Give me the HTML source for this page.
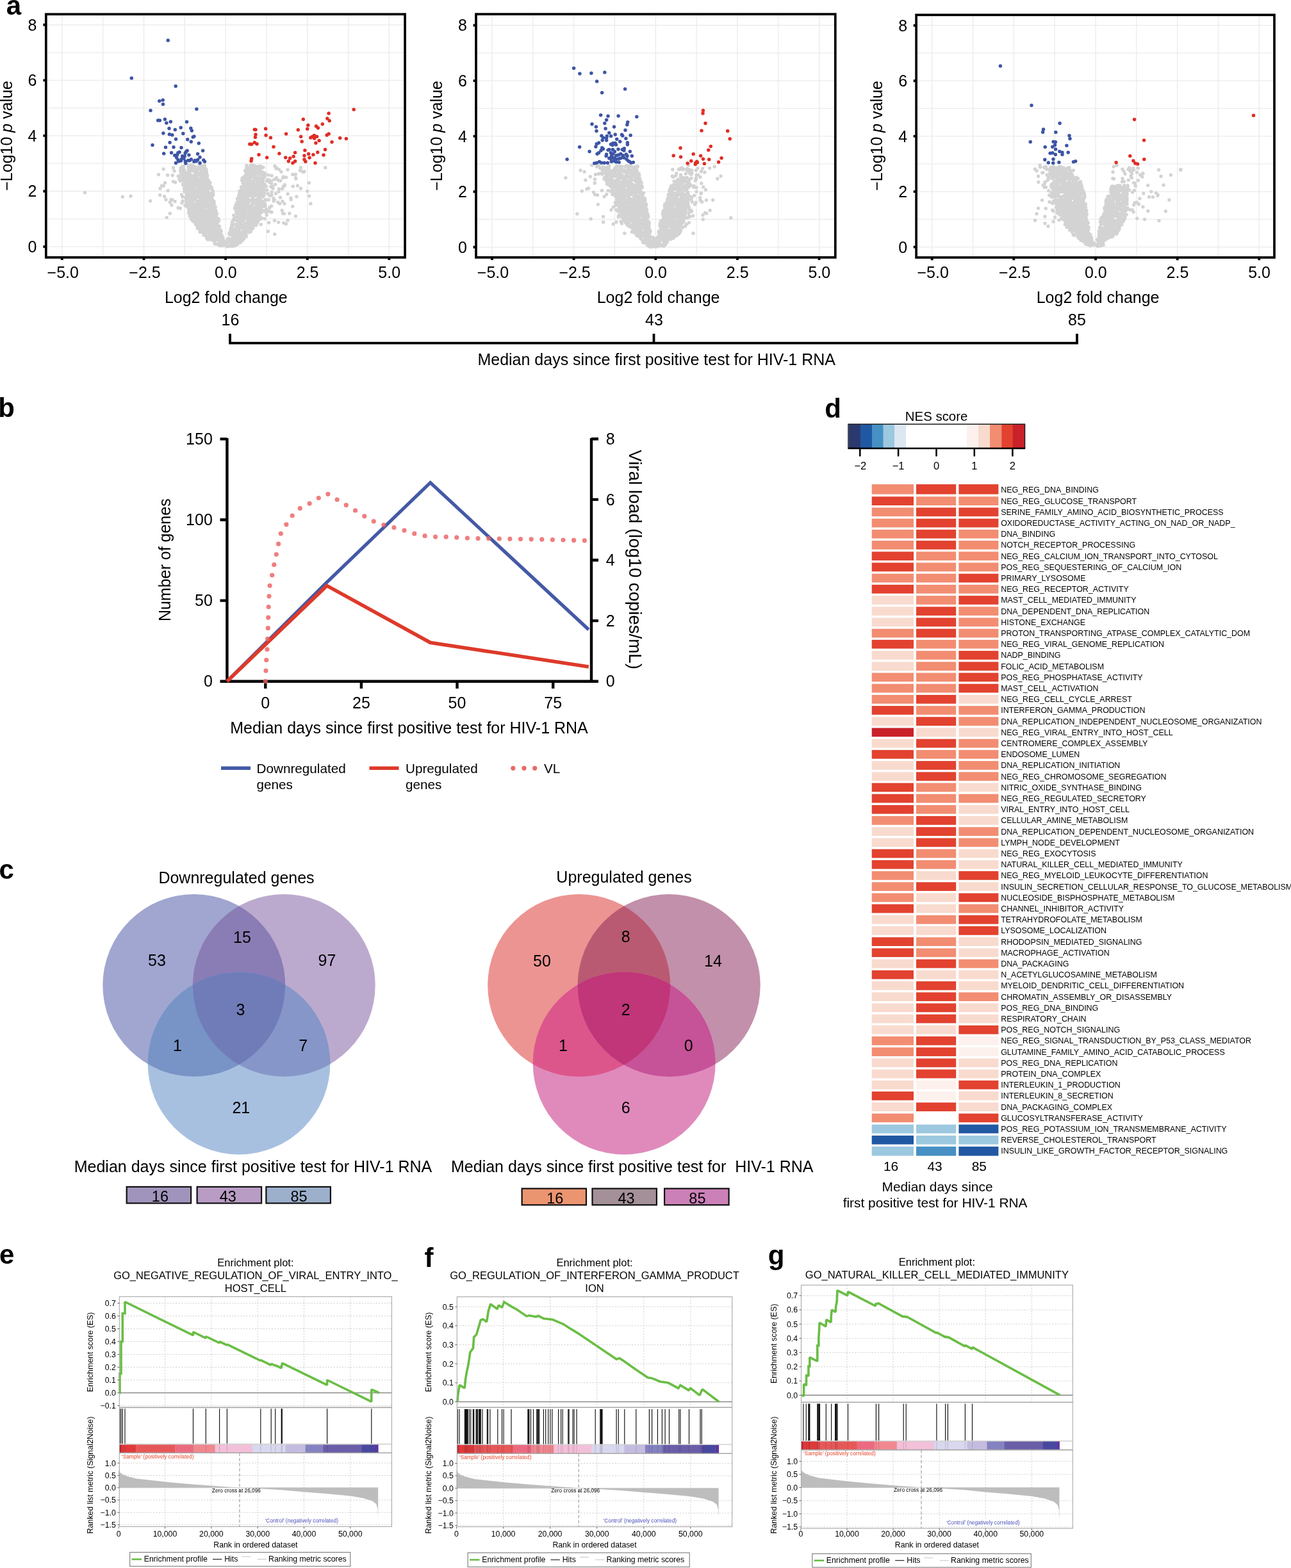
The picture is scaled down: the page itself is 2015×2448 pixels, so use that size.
<!DOCTYPE html><html><head><meta charset="utf-8"><title>Figure</title><style>html,body{margin:0;padding:0;background:#fff;width:2015px;height:2448px;overflow:hidden}svg{display:block}</style></head><body>
<svg width="2015" height="2448" viewBox="0 0 2015 2448" font-family="'Liberation Sans', Arial, Helvetica, sans-serif" fill="#000">
<rect width="2015" height="2448" fill="#fff"/>
<path d="M96.8 23.7V400.4M160.6 23.7V400.4M224.5 23.7V400.4M288.3 23.7V400.4M352.1 23.7V400.4M415.9 23.7V400.4M479.8 23.7V400.4M543.6 23.7V400.4M607.4 23.7V400.4M73.3 385.1H630.6M73.3 341.8H630.6M73.3 298.5H630.6M73.3 255.2H630.6M73.3 211.9H630.6M73.3 168.7H630.6M73.3 125.4H630.6M73.3 82.1H630.6M73.3 38.8H630.6" stroke="#ebebeb" stroke-width="1.3" fill="none"/>
<path d="M284 260.1h0m2.2 0h0m0.3-0.5h0m7.4 0.8h0m0.7-2.3h0m2.5 0h0m1.5-0.2h0m2 0.4h0m0.3 1.4h0m2.7 0.2h0m7.4-1.5h0m0.1 2.5h0m1.1-3.1h0m2.5 1.3h0m4.2 1.4h0m0.5-2.4h0m65.5 0.4h0m6.1-0.3h0m1.9-0.4h0m1 1.3h0m0.4 0h0m1.9-0.7h0m1.3 1.3h0m1.9 0h0m1.3 0.5h0m3.3-0.4h0m2.4-0.5h0m22.5 0h0m-173.8 4.6h0m15.3-1.9h0m1.6 5h0m9.6 0h0m0.4-4.5h0m2.4 4.3h0m0.4-5h0m1.2 0.2h0m1.9 3.7h0m6.3-1.2h0m0.6-1.1h0m0.2-1h0m1.9 4.4h0m0.8-2.5h0m0.2-3.3h0m0.2 2.4h0m0.5 2.4h0m1.8-2.5h0m0.2 3.4h0m1.4 0.2h0m0.8-0.2h0m0.3-1.2h0m1.5-4.5h0m0.9 2.9h0m1.1-2.1h0m0 0.2h0m1.1 1.9h0m0.1 2.4h0m1.4-2.6h0m1.4-0.7h0m1.8 1.6h0m0.2-1.5h0m0.5 2h0m0.7-3.5h0m0.1 3.3h0m0.2-1.4h0m0.7 2.6h0m1.3-1h0m0.1 0.4h0m1.2 1.3h0m0.7-1.8h0m1.5-3.8h0m2.4 3.7h0m60.6 1.4h0m1.9 0.3h0m0.3-4.4h0m0.9 0.9h0m0.7 2.4h0m0.8 1.5h0m1.7-5.4h0m1 4h0m0.8 0.8h0m0.2-4.3h0m0.6 0.1h0m0 4.4h0m0-2h0m0.9-3.4h0m0.5 0.4h0m1.5 1.2h0m0.4-0.3h0m2.6 1.1h0m1-2h0m2.8-0.2h0m1.1 3.7h0m3.8-2.4h0m0.2 1.9h0m3.4-3h0m1-0.3h0m20.3 1.8h0m0.2-1.4h0m4.1 2.8h0m13.7 0.4h0m19.4 1.3h0m1.1-4.5h0m38.3 0h0m-260.4 10.8h0m35.2-1.1h0m1.6-1.8h0m1.4 1.8h0m0.9-0.1h0m0.6-3.7h0m1 4.2h0m0.3-1.8h0m1.7 0.8h0m0.4 1.5h0m1.6-2.6h0m0.2 1.5h0m0.6-0.7h0m1.6 1.2h0m0.5-4.3h0m1.3 0.3h0m0.2 4.4h0m7.9 0.1h0m1.8-1.7h0m1.3-0.5h0m0-1.6h0m0.1-0.7h0m1.1 2h0m3.9 2.6h0m0.2-2h0m0.2 2.1h0m1.2-3h0m0 2.8h0m3.3-0.5h0m2.2-4.2h0m2.5 3.4h0m0 1.1h0m0.1-3.2h0m61.6 0.6h0m1 0.8h0m2.5-0.2h0m3.1-0.1h0m0.9 0.1h0m2.8 3h0m0.4-5.4h0m0.8 3.4h0m0.2-2.1h0m0.7 3.9h0m0.5-5.2h0m2.4 3.8h0m0.2-2.4h0m0.1 2.3h0m2.4 0h0m0.6-3.8h0m0-0.3h0m0.6 4.3h0m4.4-0.1h0m0.1-2.8h0m0.2-0.5h0m1.8 0.5h0m1.7 4.3h0m0.6-1h0m0.5-2h0m0.1 1.2h0m1.3 0.9h0m25.1-3.8h0m17.9 4.3h0m4.5-0.2h0m11.3-4.1h0m2 0h0m0.3-0.6h0m-213.3 5.8h0m7.6 0.3h0m9.1 1.2h0m1.3 1.2h0m5.1-2.4h0m0.1 4.8h0m0.2-0.6h0m0.8-2h0m1.4-1.1h0m0.1 1h0m0.9-0.9h0m0.7 1.1h0m0.2-1h0m2.2 3.2h0m0-4.3h0m0.7 0.2h0m0.2-0.2h0m0.6 3.9h0m0.9-3h0m1.7 3.2h0m0.9-1.6h0m0 1.2h0m3.1-1.5h0m0.8-1.6h0m0.5 0.5h0m3-0.8h0m1.6 3.1h0m0.7-0.7h0m0.7-0.7h0m0.2-2h0m0.3 4.9h0m0.1-5.3h0m0.2 4.3h0m0.7-4.2h0m4-0.3h0m1.1 1.6h0m0.4-0.4h0m0.4 2.6h0m3.8 0.8h0m0.3 0.9h0m0.1-5.4h0m0.5-0.1h0m1.9 4.5h0m2-2.7h0m0.8-1.5h0m0 2.4h0m54.8 2h0m0.9 0.3h0m2.7-3.6h0m0.2 1.2h0m2.2-1.5h0m0 4.3h0m0.1-4h0m1.4 1h0m0.4-2.6h0m1.6 0.8h0m0.2 2.8h0m0.8 0.5h0m3.3-2.2h0m0 2.6h0m1.6-3.3h0m3.7-0.4h0m0.1 4h0m0.4-0.2h0m1.2-1.4h0m0.4 2h0m1.4 0.1h0m1.3-0.4h0m0.5 0.2h0m1.7 0.7h0m0.2-5.8h0m0.2 4.8h0m0.4 0.9h0m4.5-2.2h0m0.1-2.8h0m0.7 1.8h0m0.6 2.4h0m0.3-0.9h0m1.3-2.5h0m0 1.6h0m6.2-2.9h0m5.1 0.9h0m7.5 3.3h0m10 0.1h0m0.9-1.6h0m4.2 0.9h0m14.9 0.7h0m-191.1 5.8h0m3.3 1.4h0m6.4-4.6h0m1.6 2.4h0m1.7-0.7h0m0.2-0.9h0m3.4-1.4h0m1.6 4.4h0m2-2.6h0m0.5 1.2h0m1.6 1.7h0m0.6-3.3h0m0.6-1.2h0m2.4 5.2h0m1-3.5h0m0.3 3h0m0.9-4.1h0m0.4-0.4h0m0.8-0.6h0m0.6 1.5h0m1.4 3.7h0m0.1-4.6h0m0.1 1.4h0m1.2 1.4h0m0.1-0.6h0m0.8-0.8h0m1.4 1.9h0m0.1-0.1h0m1-1.5h0m1 0.8h0m0.1-2.3h0m1 3.4h0m0.9-3h0m0.2-0.5h0m0.4-0.4h0m0.2 5h0m1.5-2.4h0m0.2-3.2h0m0.1 0.9h0m0.8 0.9h0m0.4 2h0m0.1-1.7h0m0.5 2.8h0m0.1-3.1h0m1.8-1.3h0m1.1 1h0m1.3 2.1h0m1.4 0.2h0m0.5-2.2h0m1 2.5h0m0.4 1.8h0m1.6-4.3h0m1.6 0.3h0m0.7 0.4h0m0.7 3.6h0m51.3-3.4h0m1-2.2h0m0.6 3.2h0m0.6 0.8h0m1.3-1h0m1-0.9h0m0.3 1.8h0m0.2-0.6h0m2.6 1.7h0m0.1-4.6h0m0.4 0h0m0 3h0m1.1 0.2h0m0.2-2.8h0m0.5 2.4h0m0.2-1.3h0m1 2.4h0m0.4-0.9h0m0.4-1.5h0m0.1 2.7h0m0.1-1.6h0m0.7 2.1h0m0.7-1h0m0.1-0.6h0m1.5 1.9h0m1.9-1.8h0m0.7 1h0m0.4-1.2h0m1.5-1.5h0m0.3 0.4h0m4.3 2.4h0m0.1-1.3h0m0 2.2h0m4.9-0.3h0m0.8-2.7h0m0.1 2.5h0m1.2-5.2h0m0.7 1h0m0.8 3.2h0m0.6-1.9h0m5.7 0.8h0m1-1.9h0m3.5 0.7h0m0.2 3.7h0m1.8-1.7h0m4.6-2.8h0m0.9-0.3h0m3.9-0.4h0m2.6 2.2h0m2.6 0.4h0m24.3-3.3h0m-209.4 10.9h0m2.6 0.3h0m2.5-4.7h0m28 2.9h0m0-0.7h0m2.1-2.5h0m2.1 3.3h0m0.6-1h0m0.6-1.3h0m0.1 3h0m1.2-0.8h0m0.7-1.3h0m0.2-1.6h0m1.4 2.6h0m0-1.4h0m2.3 3.4h0m1.1-0.8h0m0.3 1.6h0m0.2-0.7h0m0.5-0.8h0m1.6-2.2h0m0.8 1.4h0m1 2.2h0m0.7-4.3h0m0.8 0h0m0.2-0.9h0m0.7 4.6h0m3-1.8h0m0.4 2.2h0m0.6-3h0m0.5 1.6h0m0.3-2.5h0m0.1 1.3h0m1.3 2.5h0m3.2-4.1h0m1 4.4h0m0.9-2.6h0m1.8-2.3h0m0.1 1.1h0m0.1-1h0m1.1 4.8h0m0.8-0.4h0m0.1-3.7h0m1 1h0m0.6 1.6h0m1.1-3.7h0m2 2.5h0m0.3 2.7h0m1-5h0m0.6 0.1h0m0.4 3h0m0.9-3.8h0m51 1h0m0.8 1.1h0m0.3 0.9h0m0.1-1.1h0m1.9 0.8h0m0-2.1h0m1.1 3.4h0m0.1-1.7h0m0.5 2.6h0m0.4 0.5h0m0.5-5h0m0.4 3.5h0m1 0.7h0m0.6-3.8h0m2 1.5h0m0.5 3.6h0m0.9-1.4h0m1.9-0.4h0m0.5-0.3h0m1-3.1h0m2.5 0.8h0m0.1 0.5h0m0.1 0.6h0m0.5 0.7h0m1.8-0.7h0m0.8 2.8h0m0.6-0.4h0m1.3-2.2h0m1 1.5h0m2-1h0m2.4 1.6h0m0.2-3.4h0m0.3-0.2h0m1 3.7h0m0.1-4.3h0m0.4-0.7h0m0.6 3.7h0m0.8-0.2h0m0.4 0.7h0m0.4 1h0m1.3-1.9h0m0 0.5h0m0.6 0.1h0m0.2-1.3h0m10.9-1.4h0m5.9 1.6h0m14.3 2h0m0.3-1.4h0m12.9 2.4h0m7.2-1h0m17.9-4.4h0m-232.3 8.7h0m37.8-0.6h0m0 0.9h0m0.2-2.5h0m0.5 5h0m0-4.2h0m1.7 1.7h0m0.2-3.1h0m2.5 2.4h0m1.3-0.9h0m2.8 1.3h0m0-1.3h0m0.1-1.3h0m1.4-0.1h0m0.4 2.5h0m2.9 2.2h0m0-2h0m1.6 2.2h0m0.7-0.3h0m0.7 0.8h0m1.9-1.3h0m1.7 1h0m2-2.1h0m0.3 1.8h0m1.5 0.4h0m0.2-0.7h0m0.8-2.4h0m0.3 1.2h0m0.3 0.3h0m1.8 1.1h0m1-2.8h0m0.2 0.3h0m0.3-1.1h0m1.2 1.4h0m3.6 1.1h0m2.8-1.5h0m0 1.7h0m0-1.3h0m0.8-0.5h0m0.1 1.1h0m1.3-3.6h0m2.4 3.1h0m0.9-2h0m0.1 1.4h0m0.1 1.6h0m46.1-3.1h0m0 4.5h0m0.2-0.1h0m0.4-1.6h0m1.6-3.2h0m0.2 0.2h0m0.1 3.8h0m0.2-1.4h0m1.1 2.7h0m0.6-2h0m0.3-1.3h0m1.4-2.2h0m0.1 1.8h0m0.3 3h0m0.4-3.4h0m0.4 1.4h0m0.2 0.1h0m0 2.5h0m0.6-1.6h0m0.3-2.3h0m0 2.3h0m1.1-2.6h0m1.2 4.1h0m1.4-4.3h0m1.5 0.2h0m0.4 0.6h0m0-1.6h0m2.3 1h0m1.2 4.1h0m0.1-1.5h0m1 1.6h0m1.5-4.5h0m0.5 2.1h0m0.6-2.7h0m0.2 1.3h0m0.9-0.9h0m0.5 0h0m1.9 0.7h0m0.3 3.8h0m1.3 0.3h0m1.3-2.3h0m0.1 1.2h0m0.4-1.1h0m0.6-0.3h0m0.5-2.3h0m0.2 3.9h0m0.8-4.5h0m0.3 0.4h0m2.5-0.4h0m0.8 0.2h0m0.9 0.4h0m0.2 3.9h0m0.8 0.1h0m3.1-5.1h0m1.3 5.7h0m6.2-5.2h0m2.8-0.3h0m0.5 3h0m9.3 0.8h0m5.3-0.2h0m1.3-3.6h0m27.5 3h0m-337 6.5h0m129.7-2.9h0m25.6 1.3h0m3.9 3.6h0m0.1-0.6h0m0.1-1.2h0m1-0.9h0m0.1-1.3h0m1.1 2.4h0m1.2-2.1h0m0.4 1.2h0m0.5 2.8h0m1.2-4.3h0m3.2 3.6h0m2.3-3h0m1.9-0.7h0m2 3.8h0m1.9-0.7h0m0.8-3.5h0m0.3-1.1h0m1.3 1h0m0.5 1.7h0m0.7-0.1h0m0.1-1.8h0m0 0.4h0m0.2-1.1h0m3.1 4.3h0m1.2-3.8h0m0 0.6h0m0.7 4.4h0m0.1-4.8h0m0.9 4.7h0m0.5-1.5h0m1.5-1.7h0m1.3 0.1h0m0.1 0h0m0.1-1.6h0m1.9 1h0m0.4 0h0m0.9 1.6h0m1.1 2.3h0m1-0.1h0m2-0.7h0m1.5 0.8h0m1.3-4.6h0m0.2 3.7h0m0.2-1.6h0m41.2 0.9h0m0.1-2.7h0m3.4 3.2h0m0.5-1.3h0m0.3 0h0m0.6 0.3h0m0.1-1.5h0m0.5 1.3h0m0.1-0.9h0m0.6-2.4h0m1.3 0.1h0m0.5 1.6h0m0.8 3.8h0m0.2-4.7h0m1.3 1.5h0m0.8-0.5h0m0.7 2.3h0m0.1-1.6h0m0.1 1.6h0m1.4 0.2h0m0.4-0.8h0m0.2-1h0m0.1-0.9h0m1 0.7h0m0 0.7h0m0.1-2.6h0m0.3 4.5h0m1.6-2.6h0m0.2-1.7h0m0.1 4.5h0m0.1-4.4h0m1.6 0.1h0m1.3 4.4h0m0.6-0.3h0m0.8-4.4h0m0.7 5.1h0m0.2-1.1h0m0.2-2.1h0m0.2 2.7h0m0.5-2.3h0m0-1.6h0m0 3.1h0m1.2-3h0m0.3 3.7h0m0-2.6h0m3-2.6h0m0.3 1.6h0m0.5-1.5h0m0.8 2h0m2-0.7h0m1.5-1.2h0m1.7 3h0m0.2 2.4h0m1.1-2h0m0.3-3h0m2.5 3.3h0m5.5 1.6h0m5.7-2.5h0m6.4 2.2h0m4.6-3.2h0m14.1 3.8h0m30.7-4.3h0m-288.5 8.7h0m12.7-0.9h0m45.8-1.9h0m6.8 2.3h0m26.9-2.7h0m1.4 3.3h0m4.8 0.8h0m2-3.6h0m0.5-0.9h0m2 0.6h0m0.8 3.2h0m0.3-2.2h0m0.8-1.6h0m0.1 1.8h0m1.5 1.5h0m0.3 1.3h0m2.7-4h0m0.1-0.4h0m1 2.5h0m0.3-1.4h0m1.8-0.3h0m0.2 2.8h0m0.7-0.2h0m0.5 0.2h0m0.6-0.4h0m0.4-3.1h0m2.1 3.4h0m2.5-0.4h0m0.2-1.3h0m0.4-0.5h0m1.8 3.7h0m1.3-4.1h0m0.2 0.3h0m0 3.3h0m0.2-4.5h0m0.2 2.3h0m2-1.9h0m1.1 0.7h0m0.7 1.8h0m1.5 1.6h0m2.6-2.2h0m0.7-2.7h0m0.5 0.5h0m2.1 2h0m1.1-0.5h0m0.7-0.6h0m0.7-0.4h0m0.3-1.1h0m0.3 0.8h0m0.8 0h0m0.6 2.7h0m1.8-2.6h0m39.8 1.1h0m1.1-1.2h0m0.6 4.7h0m0-2.8h0m1.6 2.3h0m1.1-1.4h0m0.9-0.7h0m0.2-0.7h0m0.2-0.9h0m1.9 4h0m1.1-2.6h0m0.6-2.6h0m0.2 2h0m0.6-0.7h0m0.9 1.7h0m1.7-2.9h0m0.9 3h0m0.6 0.7h0m0.1-3.3h0m3.5 0.5h0m0.4 0.9h0m3.4 2.5h0m2.1-4.4h0m0.3 2.1h0m1.5-0.1h0m4.3-1.3h0m0.2 1.2h0m0.3 0.6h0m2.1 1.2h0m0.8-3h0m0.1-0.6h0m0.4-0.3h0m1.6 1.7h0m0.7 2.7h0m1.9-0.6h0m1.4-1.9h0m9.5 0.6h0m2.6-1.2h0m13.6 3.8h0m25.4-1.4h0m19.6-0.9h0m-247.8 7.7h0m24.3-1.9h0m7.9 0h0m2 0h0m4.2 2.7h0m12-0.8h0m5.3-4.2h0m0.4 1.9h0m0.1 3.1h0m0.4-4.2h0m0.1 4.7h0m0.1-1.7h0m2-0.3h0m3.3-2h0m2.6 1.1h0m0.1 2.3h0m0.8 0h0m0.4-4.1h0m1.7 1.4h0m0.6-0.2h0m1.9-0.8h0m1.8 3.1h0m1.1 0.4h0m3.1-5.1h0m0.6 4.9h0m2 0.7h0m0.7-0.8h0m0.2-2.3h0m0.6-1.7h0m0.6 1.9h0m1-0.5h0m0.1-1.2h0m0.9 0.5h0m0 0.2h0m0.9 0.6h0m1 3.3h0m2.7-1.2h0m0.8-1.2h0m0.1-2.2h0m1.1 0.6h0m0.7 0.4h0m0.2-0.5h0m0.7 2.6h0m0.5-1.1h0m0.1 0.1h0m0.6-0.3h0m0.5-2.4h0m0.9 3.7h0m1.2-2.2h0m0.3 3.2h0m0.5-2.6h0m0 0.6h0m0.8-1.5h0m0.5 2h0m0.3 0.4h0m0 1.7h0m0.6 0.2h0m1.3-0.7h0m36.6-4h0m0.2 0h0m0.2-0.4h0m0.3 1.8h0m0.6-1.6h0m0.5 0.8h0m0.1 3.8h0m0.3-1.5h0m2.7 0.3h0m0.3 0.8h0m0.5-0.8h0m0.9-0.6h0m0.8 1.4h0m0.4-4.7h0m1.5 1.2h0m1.5-0.7h0m1 0.1h0m0.6 2.4h0m2.6-1.2h0m0.7 0.3h0m1.1-0.5h0m1 3.6h0m0.9-0.7h0m1-1.3h0m1.9-0.1h0m0.1 0.9h0m0.6 1.1h0m0.3-2.8h0m1-2.3h0m1.2 1.1h0m4.6 1.4h0m0.3-0.4h0m1.2-0.1h0m1.7-1.9h0m0.5 2.3h0m0.2 2.7h0m3.2-1.9h0m0.8 1.8h0m0.4-1h0m5.7-2h0m0.6 0.6h0m4.6-0.2h0m7.7-2.6h0m0.3 4.5h0m1.2-2h0m12.6 2.4h0m13-5.2h0m0.3 2.4h0m-188.9 4.3h0m2.6 4.4h0m16.1-3.3h0m5.4 4h0m1.3-3.2h0m2 0.8h0m0.3 2.2h0m0-2.7h0m0 0.4h0m0.4 0.9h0m0-0.3h0m1.9 0.6h0m1-4.5h0m1.2 0h0m0.7 4.6h0m0.6-3.4h0m0.7 4.4h0m0.4-5h0m1.5 1.5h0m0.6 1.8h0m1.9 1.1h0m0.7-1.1h0m1.8-0.7h0m0.7-2.4h0m0.4-0.2h0m1.3 2.8h0m0.3 1.2h0m1.7-2.1h0m2.1 3.2h0m0.9-5.7h0m1.5 5.5h0m0.2-3.3h0m1.9 0.1h0m1 0.6h0m1.4 2.1h0m0.5-3h0m0.2 1.3h0m3.3 2.2h0m0.7-2.9h0m1.9 3.3h0m0.2-1.7h0m3.2-0.3h0m0.5-3.9h0m0 2.7h0m1.5 1.8h0m0.3-2.8h0m0-1.6h0m0.1 0.4h0m1.8 3.4h0m0.2-1.6h0m33.5 3.4h0m1.6-1h0m0.1-2.4h0m0-0.4h0m1.5-1.3h0m1.5-0.3h0m0.9 0h0m1.4 2.7h0m0.8 1.1h0m0.4 0.8h0m0.3 0h0m0.1-0.1h0m0.2-0.2h0m1.3-1.4h0m1.3 1.6h0m0.1-3.1h0m2.1 0.1h0m0.7 1h0m0.4-2.8h0m2.1 3.8h0m0.2-0.5h0m0.1-2.1h0m0.3 3.4h0m1.5-0.3h0m0.6-2.7h0m4.6 4.2h0m0.1-0.3h0m3.3-3.4h0m0.4-1.9h0m0.4-0.3h0m3.3 2.2h0m0.4-0.7h0m0.2 2.9h0m1.6-2.2h0m3.1 1.2h0m0.5-0.3h0m1 1.2h0m0.4-2.3h0m0.5 1.3h0m0-0.2h0m3.7 0.4h0m1.3-3h0m2 3.8h0m19.8-3.5h0m2.9 2.2h0m7.2 0.1h0m41-0.1h0m-206.8 6.5h0m3.2 0.8h0m7.6-4.2h0m3 1.2h0m2.1 2.1h0m1-2.1h0m0.2-0.2h0m1.9 3.4h0m1.6-3.6h0m0.2 2.4h0m0.8 1.7h0m0.4 0.2h0m0.2 0.1h0m0.4-2.4h0m0.5-2.3h0m0.8 2.7h0m3.3-0.2h0m1.9 1.2h0m0.1-3.8h0m0.7 2.4h0m0.3-1h0m0.1 3.4h0m1.9-5.1h0m1.6 1.1h0m0.3-1.3h0m1.2 3.7h0m1.6-3.5h0m0.8 0.2h0m1.2 0.1h0m0 1.4h0m2.1 4.1h0m1.3-5.6h0m2.1 0.9h0m1-0.2h0m1.2 2.1h0m0.7-1h0m0.1 0.4h0m0.1 2.1h0m1.1-3.9h0m0.9-0.8h0m0.1 3.5h0m0.1-2.2h0m0-0.2h0m1.1-0.1h0m0.1 1.1h0m1.2 1.1h0m0.1 1.3h0m1.7-1.1h0m0.8-3.2h0m1.6 1.3h0m1 4.2h0m0.7-3.7h0m30.4 2.3h0m2.3-1.4h0m0.4 2.3h0m1.2-2.4h0m0.6-1.5h0m0.8 2h0m0.2-3.2h0m0.7 3.5h0m0.8-2.5h0m0 2.7h0m1.9-1.3h0m0.3-1.5h0m0.4 1.9h0m0.7 0.7h0m2.1-2.8h0m0.2 0.8h0m2.9 0.8h0m0.7 3.4h0m0.5-2.5h0m0.8 1.5h0m0.6-1.4h0m0.2-2.8h0m0.4 2.5h0m0.9-1.1h0m0.3 1.6h0m1 1.6h0m2.8-3.5h0m0.2 3.1h0m0.9-1.1h0m0.1 2.2h0m1.1-0.1h0m0.8-4.5h0m0.3-0.9h0m0.7 1.3h0m2.2 2.5h0m0.2-0.2h0m1.6-0.8h0m0.5 2h0m0.1-1.4h0m3.3-2.8h0m0.8 3.9h0m0.6-4.1h0m0.3 3.1h0m0.8-2.2h0m0.2-0.4h0m0.8 4.6h0m0.3-1h0m0.6-2.1h0m0.3-2.3h0m0.6 4.9h0m2.1-4h0m3.6-1.3h0m0.6 1.3h0m6.8 2.1h0m0.1-0.8h0m3-1.9h0m33.1 0.5h0m-162.3 9.4h0m0.4-3.5h0m1.9 2.6h0m0.3-0.4h0m1.2-2.7h0m0 3.9h0m0.1-1.7h0m1 2.2h0m1.7-2.2h0m0.3-0.2h0m0.5 1.5h0m0.3 0h0m0.1-0.1h0m1.5 0.6h0m1.4-4.4h0m0.6 1.7h0m0.5-1.7h0m0.7 4.2h0m0.8-0.5h0m0.1 1.4h0m0.3-4.4h0m2.6 2.7h0m0.2 0.4h0m0.8-3.1h0m0.3-0.8h0m0.1 1.9h0m0.1 2h0m0.4-3.9h0m1.4 0h0m1 1.7h0m0.5 3.5h0m3.4-1.1h0m0.5 1.7h0m1.1-4.1h0m1.9 0.7h0m0-0.2h0m0.4 3.6h0m0-1.6h0m2.3 1.4h0m1.5-3.8h0m0.3-0.4h0m1.1-0.9h0m0.2 1.8h0m0.6-1.9h0m0.1 2.1h0m0.7 1.7h0m2.1 1.2h0m0.4-4.4h0m0.6 2.7h0m0.1-2h0m1.1 0.8h0m1-2h0m0.9 1h0m0.6-0.7h0m0.6 1.8h0m31.5-0.9h0m0.1-0.3h0m0.1 3.9h0m0.3-2h0m0.7 1.9h0m3.2-0.8h0m1.3-3.8h0m0.2-0.6h0m0.3 5.2h0m1.2-0.3h0m0.2-2.5h0m0 1.4h0m0.1-2.3h0m0.1-1.7h0m0 1.7h0m0.1 0.4h0m0.7-0.3h0m0.2 0.1h0m1.3 4h0m0-5.5h0m1.7 4.4h0m0.5-3.4h0m0.7 4.1h0m0.1-3.2h0m0.8 3.2h0m1-2.6h0m1 1.7h0m0-4.6h0m0.4 2.1h0m1.9 1.9h0m2.3 1.2h0m0.3-3.6h0m0.3 0.4h0m0 2.4h0m0.2 0.6h0m0.6-3h0m0.1-0.3h0m0.3-1.3h0m0.9 3.6h0m0.3-2.8h0m0.3-0.6h0m1.9 3.2h0m0.3 0.3h0m0.6-1.4h0m1.6-2h0m0.3 3.4h0m0.7-0.6h0m1.6-1.8h0m2 4.3h0m1-0.3h0m0.5-5.4h0m2.5 2h0m3.2 0.3h0m0.1 1.6h0m3.4-2.4h0m3.3 3.3h0m0.5-4.9h0m1.8 2.7h0m3.5 0.3h0m2.7 1.1h0m16.3-2.8h0m-174.9 4.7h0m30.4 1h0m0.6 1.2h0m0.1 2.2h0m0.6-3.2h0m0.2 0.6h0m1.3 2.9h0m2-3h0m2.2 0.6h0m0.2-0.7h0m0.2-1.8h0m1.5 5.7h0m0.5-2.7h0m3.6-1.9h0m0.4 0.8h0m0.1-1.1h0m0.5 2.4h0m1.5-1.6h0m1.1 2.7h0m0.1-2.5h0m0.1 0.1h0m0.3 3.8h0m0.6-3.3h0m0.4-1.5h0m0.2 3.6h0m3.3 0.8h0m0.7-1.7h0m0.6-3.4h0m2.1 2.5h0m0 1.9h0m0-3.5h0m0.3 4.1h0m0.3-1.1h0m0.3-1.4h0m0.2 1.9h0m2.2 0.6h0m0.1-4.9h0m1.2 3.4h0m0.8-0.2h0m1.2 1.7h0m0.4-3.4h0m0.5-1.6h0m1.5 4.7h0m1.2-1.5h0m0.3 0.6h0m0.5-1.7h0m0.6-0.4h0m0.2-1.2h0m1.1-0.1h0m1.2 1.4h0m1.1 0.2h0m0.4-1.9h0m0.1 0.5h0m0.8 3.2h0m0 1.7h0m0.1-0.1h0m1.2-4.8h0m26.2 2.3h0m5.1-2.4h0m0.2 5h0m1.3-1.5h0m1.4 1.2h0m0.2 0.5h0m1.3-2.7h0m1.1-0.5h0m0.7 2.6h0m0.5-4.8h0m0.6 1.4h0m3.1 1.8h0m0.8 1.3h0m0.4 0.2h0m1.8-3.5h0m2.3 3.4h0m0.3-0.1h0m0.8 0.8h0m0 0h0m0.5 0h0m1.5-2.6h0m2.2-0.1h0m1.7-2.9h0m0.3 0.6h0m1.7 2.7h0m0.5-2.5h0m0.8 3.3h0m0.3-2.6h0m1.8 1h0m0.7 0.1h0m0.4 1.2h0m0.4-3.2h0m1.6 2.8h0m0.2-1.5h0m0.8 2.5h0m0 1.2h0m0.7-1.5h0m0.8-4.3h0m0.2 4.6h0m0.3 1.4h0m1.1-1.8h0m0.3-2.4h0m10.9 0.9h0m25.2-2.5h0m2.1 0.4h0m8.1-0.4h0m9.8 4.3h0m-201.3 2.1h0m38.2 2.4h0m0.3-1.5h0m0.2 1.8h0m0.7-0.5h0m1-1.9h0m0.1 4.6h0m0.6-4.4h0m0.9 0.1h0m0.7-0.7h0m1 2.8h0m1.1-2.3h0m3.6 4.3h0m0.3-3.1h0m0.1 1.8h0m1.4-1.5h0m0.8 0.8h0m0.1-2h0m0.2 1.2h0m2.3 1.9h0m0.1-3.3h0m0 3.6h0m0.7 0.7h0m0.6-4.5h0m0.3 0.2h0m0.7-0.9h0m2.2 5h0m0.9-1.4h0m0.8-0.4h0m1-3.3h0m0.4 3.4h0m0.4-3h0m0.9 5.5h0m0.6-5.3h0m2.1 4.4h0m1.1-0.2h0m0.9-0.5h0m1.1-3.7h0m0.4 0.1h0m1 1h0m0.3 2h0m1.4-3.4h0m1.9 3.9h0m1.4-2.9h0m0.2 0.3h0m0.1-0.5h0m1.4 4.5h0m0.2-0.2h0m2.8-3.4h0m0.3 0h0m0.9 3.3h0m0.1-2.8h0m0.6 3.1h0m23.4-3.3h0m1.3 1.6h0m0.1-2.7h0m0.7-1.1h0m1.5 0.8h0m0.8 4.4h0m1.1 0.4h0m0.7-1.7h0m0.4-1.8h0m1.4 1h0m0.9 2.2h0m0.1-2.3h0m0.5-0.4h0m2.9 2.2h0m0.2-0.8h0m0.4-1.4h0m0.3 0.3h0m0.3 0.2h0m0.2-2.8h0m1.3 4.3h0m0.8-2.3h0m0.7 0h0m1-1.8h0m3.2 1.1h0m1.4 0.9h0m0.3-1.6h0m0.5 1.6h0m0.5 1.9h0m1.7-4.2h0m0.7 3.3h0m0-3h0m1.3 2.4h0m2 2h0m1.1-4.9h0m0.4 2.5h0m0 2.7h0m0.4-1.3h0m1.7 0.2h0m0.4-1.8h0m2.3 1.2h0m0.6-2.3h0m0.1 2.4h0m1.6-0.1h0m0.3-0.2h0m0.2-0.4h0m0 1.5h0m0.3-3.2h0m0.3 1.7h0m1.2-3.1h0m0 1.5h0m0.8 1.9h0m2.5-1.9h0m4.6 1h0m15.6 2.8h0m20.5-0.3h0m-147.8 1.6h0m3.6 3.6h0m0.8-2.4h0m0.2 0.1h0m1.9 2.2h0m0.8-3.9h0m1.5 0.1h0m1 4.8h0m0.1-3.2h0m0.4-0.6h0m0.7 0.3h0m0.1-1.2h0m1.1 1.4h0m1.1 2.1h0m1.6-2h0m0.7-1.9h0m3 2.7h0m2.2 0.4h0m0 0.8h0m1.6-0.9h0m2.3-1.3h0m0.1 1h0m1 0.4h0m0.2-0.5h0m0.7 3h0m0.6-1.1h0m2 0.5h0m0.2-0.8h0m1.4-0.3h0m0.1-3.6h0m0.4 0.1h0m1.8 1.3h0m0-1h0m0.1 2.8h0m0.4-3.1h0m0.4 2.7h0m0.5-0.7h0m0.2 0.3h0m0.6-2.4h0m0.6 4.7h0m0.5-4.9h0m0 3h0m1.2 1.9h0m0-3.2h0m0.5-0.3h0m22.8 1.4h0m0.1 0.5h0m0.7-3.3h0m0.2 4.4h0m1.5 0.5h0m3.3 0.9h0m0.3-0.7h0m2.9-5.2h0m1 3.3h0m0.6 1.9h0m0.7-1.1h0m0.5-0.6h0m1.5-1.8h0m0 3.9h0m2.1-5.3h0m0.3-0.3h0m1.8 5.9h0m0.2-0.2h0m1.3 0.2h0m0.2-1.2h0m0.3 0.2h0m0.9-1.7h0m0.2 2.7h0m0-1h0m2.7-2.3h0m0.8-2.3h0m0.8 2h0m2 3.3h0m0-3.6h0m1.5 1.2h0m0.3 0.8h0m0.5-2.6h0m0.7 4.4h0m1.7-0.9h0m0.8-0.7h0m0.6-3h0m0.5-1h0m1.7 4.3h0m0.2 0.8h0m1.9-4.8h0m0.2 0.6h0m0.7 3.4h0m1-2.4h0m0.5-1.9h0m0.3 0.7h0m5 4.5h0m12.3-2.7h0m15.2-0.6h0m8 1h0m3.6 1.4h0m-139.5 2.4h0m0.9 0.3h0m0.1-0.1h0m0.5 4.5h0m0.4-4.3h0m0.9 1.2h0m0.1 3.1h0m0.5-2.8h0m1.5 2.1h0m0.8 0.9h0m1.3-2.9h0m0.4-2.7h0m2.5 2.9h0m0.1-1.2h0m1.7 1.7h0m0.2-2.3h0m0.1 2.9h0m0.7-1.9h0m0.5 3.3h0m1-1.4h0m1.2 0.1h0m0.2-4.2h0m0 1.9h0m0.2 1.6h0m0.6-1.9h0m0.7 1.2h0m0.3-0.6h0m1.5 1.9h0m1-1.8h0m0.1-1.7h0m0.2-0.2h0m0.1 1.6h0m0-0.9h0m2.5 0.7h0m0.4 0.1h0m0.3 0.4h0m0.6-1.9h0m0.3 3.8h0m0.1-0.5h0m0.6 1.3h0m0.6-4.9h0m0.2 3.5h0m1 2.1h0m0.5-2.4h0m0.6 2.1h0m0.4 0.3h0m0-5.6h0m0.6 1.5h0m1 1.5h0m0 1.9h0m0.1-4.8h0m0.9 2.1h0m0.4-0.2h0m0.1-0.2h0m0.8 2.1h0m0.4-3.8h0m0.7 4.9h0m0.1-3.7h0m0 3h0m0.2-1.3h0m0.5 1.8h0m1.5-2.5h0m17.7 3.1h0m0.5-0.7h0m0.8-2.5h0m0.2-1.9h0m0.3 2.8h0m0.9 2.4h0m0.2-0.1h0m0.7-5.4h0m4.7-0.1h0m0.9 3.1h0m0 2.5h0m0-2.3h0m2.3 2.1h0m1.6-1.1h0m1.5-1.9h0m0.4-0.7h0m0.3 0.7h0m0.2-2.4h0m0 1.4h0m0 2.2h0m0.2-2.9h0m0.3 2.5h0m0.7 1.2h0m0-0.1h0m2.1-0.1h0m0.2 0.9h0m0.2-1.4h0m0.3 0.1h0m2.1-2.2h0m0 2.5h0m0.2-2.7h0m0.4-0.3h0m0.1 1.8h0m1.3-1.6h0m0.6 4.1h0m0.1-0.9h0m1.5-1.8h0m0.2 0.7h0m2.3 1.5h0m0.5-4.6h0m0.2 3.8h0m0.3 0.6h0m0.7 0.4h0m2.9-2.4h0m0.9 1.1h0m0.7 1.6h0m1.8-5.5h0m2.6 0.9h0m0.3-0.7h0m-87.4 8.7h0m0 2.4h0m0.1-2.8h0m0.1 1.4h0m0.4-1.9h0m0.1 1.2h0m1.7 2.2h0m0.2-2.9h0m0.5 1.6h0m3.1 0.6h0m1-3.8h0m1.4 3.5h0m3.1-0.3h0m0-2h0m0.6 1.1h0m1.5-0.2h0m2.5-2h0m0.5 1.4h0m0.7 0.5h0m0.2-1.1h0m0.2 0.1h0m0.9-0.6h0m1.1 3.4h0m0.8-3.3h0m1.6-0.3h0m0.7 0.6h0m2.2 2h0m2 0.2h0m0.3-3.6h0m0.2 5.6h0m1-1.3h0m0.1 0.6h0m0.8-2.2h0m0.4-2h0m0.2 4.2h0m1.3 0.3h0m0.3-3.8h0m0.2 3.3h0m0.3 0.5h0m0.9-1.6h0m13.5 1.8h0m1.3-4.3h0m1.1 3.6h0m1.4-3.3h0m0.7 4h0m0.1-3.9h0m0.2 1.5h0m0.4-0.5h0m1 1.9h0m1.6-4.5h0m0.2 0.3h0m0.4 4.4h0m0-4.6h0m0.4 1.8h0m0.5 2.6h0m0.4-3.9h0m0 4.5h0m0.9-2.3h0m1.2-0.2h0m0.1-2.5h0m0.7 2.5h0m0.8-1.3h0m0.7-1.4h0m0 3.9h0m0.2-1.2h0m0.3-0.1h0m0.1 3.1h0m5.4-0.9h0m0.2-1.3h0m0 2.1h0m1.6-0.6h0m0.7-0.1h0m0.2 0.6h0m1.6-2.8h0m0.6 0.5h0m0.7 2.5h0m0.1-3.5h0m1.8-0.9h0m0.5 2h0m0.4-1.8h0m1.4 4.1h0m0.2 0h0m2.6-1.1h0m2-4.5h0m25 4.2h0m-100.5 5.7h0m0.4-3.7h0m0.8 2.5h0m0.5-0.6h0m1.2-0.8h0m0.7-1.3h0m1.7 5.7h0m2.8-5.3h0m0.5 5.1h0m1.6-0.4h0m0.1-3.9h0m2.2-0.9h0m0.4 3.1h0m0.1 0h0m0.7-2.4h0m3.1 2.9h0m1.4-1.8h0m0.3-0.8h0m0.3-0.9h0m0.2 3.5h0m0.6 0.1h0m1.8-3.4h0m0-0.4h0m0.2 2.5h0m0.3-1.3h0m1.2-1.1h0m1.8 0.1h0m1.4 0.1h0m0.1 3.7h0m0.7 1.4h0m0.3-1.7h0m0.1-0.1h0m1.3 1.3h0m10.9-3.8h0m0.6 0.2h0m0.1 0.9h0m0.3 1.1h0m0.2-0.3h0m0.9-3h0m1.4 1h0m0.5 1.5h0m1.3 2.2h0m4.1 0.2h0m0.1-3h0m1.5-2h0m2.1 5.6h0m0.1-3.2h0m0.8 2h0m0.5-0.7h0m1.5-0.8h0m0.9-1.9h0m2 0.7h0m0.1 0h0m0.9 3.5h0m1.4-3.9h0m0.8 0.8h0m1.8-1.8h0m0.3 3.3h0m1.7-0.3h0m0.5 0.8h0m44.6-1.7h0m-106.6 3.4h0m0.6 3.1h0m0.8-1.6h0m1 3.4h0m1.1-1.3h0m0.5 1h0m0.9-1.6h0m0 0h0m0.7 0.4h0m0.2 0.9h0m0.9 0.6h0m0.7-4.9h0m0.8 5.2h0m0.2-3.8h0m0.7 2.2h0m0.4 0.9h0m0.3-1.9h0m0.5-2.2h0m0.2 0.7h0m1.3 0.7h0m1.5-0.1h0m0.7 4.3h0m0.6-3.8h0m0.8-0.8h0m0.7 0.1h0m0.4 0.7h0m0.8 3h0m0.1-4.9h0m2.2 2.3h0m0.8 2.5h0m0-2.6h0m0.6-2.3h0m1 0.3h0m1.2 1.1h0m0.2 2.6h0m0-1.8h0m0.5-1.4h0m0.9 3.5h0m0.7-1.8h0m0 0h0m0.5 0.4h0m0.1 1.5h0m6.6 0.8h0m0.1 0h0m0.2-0.2h0m1-1.9h0m4 0.8h0m0.3 0.4h0m2.9-1.7h0m0.1 0.3h0m1.1-2.4h0m0.6 3.6h0m1.1-1h0m1.8 1.4h0m1.6-2.5h0m0.4-0.8h0m0.4-0.6h0m0.5 0h0m1.1 4.1h0m0.7-2.2h0m0.3 0.1h0m0.1-0.8h0m0.6 1.3h0m0.8-3h0m0 2.7h0m0.2-1.6h0m0.6 0.8h0m0.8 3.7h0m0.1-1.6h0m0.5-1.8h0m0.2-1.3h0m0.5 3h0m0.6-1.6h0m2.4-1.3h0m0.2 2.7h0m3.6-3.6h0m-51.9 5.6h0m2.8 5.6h0m0-2.6h0m0.2 1.6h0m1.1 0.5h0m1.4 0.8h0m3-0.1h0m2.1-5h0m1.2 3h0m1.4-3.6h0m1 0.2h0m2.3 3h0m0-0.8h0m0.3 2.8h0m0.7-0.5h0m1.3-2.1h0m0.1-0.1h0m3.4-1.5h0m0.1 4h0m0.3 0.3h0m1.6-4.3h0m0.2-0.3h0m3.6 1.7h0m0.1 2.9h0m0.5-2.1h0m0.4-1.8h0m0.3 0.1h0m3.1 1.9h0m0.1-1.9h0m0.1 4.2h0m0.8-3.3h0m0.2-1.5h0m0.1 0.8h0m0.7-1.7h0m1.3 1.5h0m2.6 4.1h0m0.6-1.5h0m3.5-0.5h0m3.2-2.7h0m-38.2 5.2h0m0.7 0.2h0m1.6 1.6h0m2.3 0.6h0m1.3-2.6h0m0.7 1.2h0m1.3 0.1h0m0-0.9h0m0 0.4h0m0.1 0.3h0m0.5 1.3h0m0.1-1.3h0m0.3 1h0m2.4-1.7h0m1.9 2.1h0m0.4 1.2h0m0.3-0.8h0m0.1 0.2h0m0.5-1.6h0m2.8 2h0m0.7 0h0m3.4-2.9h0m1.2 2.9h0m3.4-1.6h0m0.3 0.8h0m0.3-0.5h0m2-0.7h0m2.2-1.2h0" stroke="#d3d3d3" stroke-width="5.4" stroke-linecap="round" fill="none"/>
<path d="M262.2 63.1h0m-56.9 58.8h0m68.9 12.6h0m-25.4 23.3h0m5.4-1.5h0m0.3 6.4h0m52.4 7.6h0m-71.9 2.3h0m11.6 15.3h0m2.8 0h0m8-1.7h0m2.5 5.7h0m6.4-1.9h0m25.2 0.2h0m-27.5 10.3h0m18.2-1.2h0m15.6 0.9h0m-24.5 2.3h0m26 1.4h0m-44.4 4h0m9.5 1.9h0m4.4 0.9h0m17-2.3h0m17.1 4.6h0m-28.4 4.3h0m18.2 0.5h0m8.5-3.7h0m-36.1 8.5h0m33.2-1.4h0m12 2.6h0m-72.3 2.8h0m20.5 3.4h0m12.5-0.2h0m12 0.8h0m7.4 6.3h0m1.7-1.7h0m24.5 0h0m-60.9 4.5h0m11.9-1.1h0m5.1 4h0m4-1.2h0m1.2-2.8h0m2.2-1.2h0m9.1 1.7h0m5.7 2.9h0m13.7-1.7h0m-33 5.7h0m8 2.3h0m1.1-4.6h0m2.3 3.4h0m1.1-3.4h0m10.2 5.1h0m13.7-3.4h0m-37.5 9.1h0m3.4-5.1h0m1.1 2.3h0m3.4-0.6h0m6.8 0.6h0m4.6-1.2h0m2.3 0h0m6.8 1.7h0m1.1-1.7h0m2.3 1.2h0m2.3-2.3h0m3.4 5.1h0m5.7-4.5h0m1.7 2.2h0m-29.6 2.9h0" stroke="#3d55a5" stroke-width="5.5" stroke-linecap="round" fill="none"/>
<path d="M552.2 170.9h0m-39.1 6.2h0m-39.8 9.2h0m37.5-1.4h0m3.4 3.7h0m-10.9 5.2h0m-22.5 1.8h0m12.7 1.4h0m2.9 2.7h0m-99.1 2.5h0m1.7 0.2h0m15.6-1.3h0m50.7 1.7h0m14.4-1.5h0m-80.7 8.7h0m16.1 1.2h0m31.5-2.3h0m43.8 2.5h0m19.8-0.5h0m2.9-1.8h0m-114.7 5.2h0m24 0.6h0m47.2-1.7h0m15.2 1.9h0m2.9-1.9h0m2.9 2.8h0m4-2.8h0m36.1 2.3h0m9.7 1.1h0m-143.1 5.8h0m3.7 2.3h0m70.2-3.7h0m21.7 2.2h0m5.2-3.7h0m19.9 2.3h0m-128.2 3.2h0m2.9 0.3h0m34.3 4h0m48.9 5.4h0m31.7-1.2h0m-103.6 7.9h0m31.9-1.7h0m24.7-1.5h0m14.4 4.7h0m6.6-2.7h0m7.3 1.2h0m6.9-3.7h0m9.2 4.3h0m-112.3 5.7h0m23.9-1.7h0m29.1 0h0m6.9 0.9h0m5.5-2.6h0m16.9 4.6h0m8.1-2.7h0m-91 5h0m58.2 0.6h0m6.7 2.8h0m3.6-2.8h0m16.2 0.5h0m15.2 2.1h0" stroke="#e02d26" stroke-width="5.5" stroke-linecap="round" fill="none"/>
<rect x="71.8" y="22.2" width="560.3" height="379.7" fill="none" stroke="#000" stroke-width="3.7"/>
<path d="M67.4 385.1H71.8M67.4 298.5H71.8M67.4 211.9H71.8M67.4 125.4H71.8M67.4 38.8H71.8M96.8 401.9V406.1M224.5 401.9V406.1M352.1 401.9V406.1M479.8 401.9V406.1M607.4 401.9V406.1" stroke="#000" stroke-width="3.9" fill="none"/>
<text x="57.3" y="394" font-size="25" text-anchor="end">0</text>
<text x="57.3" y="307.4" font-size="25" text-anchor="end">2</text>
<text x="57.3" y="220.8" font-size="25" text-anchor="end">4</text>
<text x="57.3" y="134.3" font-size="25" text-anchor="end">6</text>
<text x="57.3" y="47.7" font-size="25" text-anchor="end">8</text>
<text x="98.3" y="434" font-size="25" text-anchor="middle">−5.0</text>
<text x="226" y="434" font-size="25" text-anchor="middle">−2.5</text>
<text x="352.4" y="434" font-size="25" text-anchor="middle">0.0</text>
<text x="480.1" y="434" font-size="25" text-anchor="middle">2.5</text>
<text x="607.7" y="434" font-size="25" text-anchor="middle">5.0</text>
<text x="352.8" y="472.6" font-size="25" text-anchor="middle">Log2 fold change</text>
<text transform="translate(18.9 211.9) rotate(-90)" font-size="25" text-anchor="middle">−Log10 <tspan font-style="italic">p</tspan> value</text>
<text x="359.5" y="508" font-size="25" text-anchor="middle">16</text>
<path d="M768 23.6V400.4M831.8 23.6V400.4M895.6 23.6V400.4M959.5 23.6V400.4M1023.3 23.6V400.4M1087.1 23.6V400.4M1151 23.6V400.4M1214.8 23.6V400.4M1278.6 23.6V400.4M744.5 385.8H1302.3M744.5 342.5H1302.3M744.5 299.2H1302.3M744.5 255.9H1302.3M744.5 212.6H1302.3M744.5 169.4H1302.3M744.5 126.1H1302.3M744.5 82.8H1302.3M744.5 39.5H1302.3" stroke="#ebebeb" stroke-width="1.3" fill="none"/>
<path d="M923.7 258.1h0m7.7 2.2h0m1.6-2h0m1.2-0.1h0m0.2 1.8h0m0.7-1h0m6.3 1.4h0m9.2-1.7h0m12.5 1.1h0m4.5-0.2h0m3.2 0.4h0m5.3 0.1h0m2.1-1.6h0m1.4 1.4h0m0.1 1h0m1.7-0.6h0m1 0.2h0m0.8-1.6h0m2.6 1h0m5.3 0.7h0m3.6-1.1h0m0.7 0.6h0m79-2h0m40.8 2.2h0m-209.2 5.6h0m30.6-3.5h0m2.6 1.5h0m2.1-0.5h0m0.5 2.3h0m0.8-2.2h0m0.1 2.9h0m1.3-3.9h0m0.4 3.1h0m0.2 0.5h0m1.9-0.5h0m0.5-3.9h0m1.9 1.1h0m1.3 1.8h0m0-1.2h0m0.3-1.7h0m4.3 5.3h0m4-2.7h0m1-1.8h0m1.2-1.2h0m0.2 2.4h0m0.3-2h0m1 4h0m3.9-1.1h0m0.3 2.3h0m2.2-4.2h0m1.8 2.2h0m1.3 2h0m2-0.7h0m0-1h0m5 0.6h0m0.1 1h0m3.4-3.4h0m1.5 2.5h0m3 1h0m1.3-2.8h0m2.6 2.6h0m1.6-0.7h0m0.9-2h0m56.5 0.8h0m9.4-0.3h0m1.6-1h0m0.7 1.1h0m2.7-2.6h0m1.7 2.7h0m1.3-0.3h0m5.3-1h0m0.1 3h0m3.1-1.4h0m4 1h0m6.5 0.1h0m2.7-3.4h0m7.6 0.4h0m10.9-0.7h0m-195.3 5.9h0m17.3 4.2h0m4.9-1h0m1.8-0.4h0m3.8 1h0m0-3h0m1.3-1h0m1.4 1.8h0m0-2.7h0m3.3 4.3h0m0.5-4.4h0m1.9 4h0m0.3 1.6h0m1.9-2.7h0m1.2 0.4h0m1.9-2.8h0m1.4 0.5h0m1.5 4.7h0m0 0.1h0m0.5-0.4h0m0.2 0.2h0m0.8-2.9h0m0.9-2.1h0m0.8 5h0m1.3-4.9h0m0.8 3.5h0m0.2-2.6h0m2.9 0.3h0m0.9 3h0m0.5-1.6h0m0.4 1.1h0m0.4-0.3h0m0.3-1h0m0.4 1.9h0m0.6-0.1h0m5.3-3.4h0m1.8-0.2h0m0-1.3h0m3.3 4.3h0m3.8-0.6h0m1.1-0.5h0m2.3-0.5h0m2.9-1.5h0m1.8 2.4h0m0.6 0.7h0m1-3.8h0m0.6 5h0m1.3-3.6h0m0.4 4h0m0.1-5.1h0m1.8 4h0m0.8-0.5h0m0 0.1h0m58.3-0.7h0m6.8 2.1h0m7.8-1.7h0m5.2-3.8h0m0.6 2.8h0m1.1-0.1h0m1.5 2.1h0m0.6-2.6h0m0.6 1h0m14.5-2.8h0m5.5 1.1h0m-217 8.7h0m38.4-1.8h0m22.2 1.7h0m1.4-1h0m2.9 1.6h0m0.3-3.5h0m0 3.4h0m0.4-3.9h0m4.1-0.8h0m0.8 2.1h0m1.7-1.5h0m1.8 1.5h0m1-2.3h0m1.7 2h0m2.6-0.7h0m0.4-0.2h0m2.3 2.9h0m0.1-3.2h0m0.1 2.3h0m0.5 2.2h0m0.8-2.8h0m0.3 2.6h0m0.8-3.8h0m0.8-0.6h0m0.5 2.7h0m0.8-2.3h0m0.6 3.2h0m0.3-3.9h0m3.7 3.1h0m0.3-1.5h0m0.1 3.7h0m1.8-0.2h0m1-3.2h0m0.1-2h0m0.5-0.4h0m0.8 2.1h0m0.4 1h0m1.2 0.3h0m2 1.7h0m2.2-3.6h0m0.1 2.9h0m0.5 1.6h0m0.6-4h0m0.5 0.8h0m3.5-2.5h0m1.2 1.1h0m0.5 1.9h0m1.3 0.8h0m2.3-2.9h0m2.2-0.3h0m0.4 0.3h0m51.5 0.7h0m1.6 1.3h0m4-2h0m7.5 1.3h0m4.1 2.3h0m2.9-0.2h0m3.2-0.2h0m6.5 0.9h0m7.2-0.2h0m0.9-4.6h0m2.6-0.3h0m3.1 3.3h0m27 2.5h0m5.3-4h0m-211.3 6.3h0m14.6-1.5h0m14.6-0.5h0m2.1 1.3h0m1.9 2.2h0m0.2 0.6h0m0.2-0.6h0m0.2-3.3h0m0.8 3.5h0m2.7 1.8h0m0.2-2h0m0.4 0.2h0m1 1.2h0m0.1-4.4h0m0.9 2.9h0m0.9-1.4h0m0.4-1.2h0m2.6 2.8h0m2.3-0.2h0m0.9-0.8h0m2.9-2.2h0m0.4 3.1h0m1.2-1.8h0m0.4-0.5h0m0.5 2.8h0m0.3 1.5h0m5.1-0.5h0m0.1-0.1h0m0.1-4.9h0m2.4 3.6h0m0.5 0.2h0m0.2-4h0m0.4 2.4h0m0.1 3.5h0m0.8-4.2h0m0.1-1.2h0m2.2 4.6h0m0.7-0.8h0m0.1 0h0m2 0.6h0m0.1-1.2h0m1.4 0.8h0m0.7-1.8h0m0.5 0.6h0m0.2 0.9h0m0.1-2.2h0m0 0.3h0m1.6-2.1h0m0.8 0.6h0m0.5 0.4h0m3.3 1.3h0m1.9 0.7h0m0.3 0.9h0m0.2-2.9h0m1.4 4h0m0.6-1.1h0m1.1 0.3h0m1-4.4h0m0.4 2h0m0.1 2.7h0m1-2h0m0.4-2.5h0m1.3 5.4h0m0.4-0.4h0m51.6-1.4h0m4.1 0.1h0m1.8-2.8h0m0.4 2.5h0m0.9 0.1h0m0.7-0.5h0m0.6-1.5h0m0.2 3h0m0.9 0.9h0m0.5-0.8h0m0.3-3.8h0m1.7 2.4h0m0.3-1.4h0m0.2 3.1h0m2.6-3.7h0m0.5 3.8h0m2.5-1h0m0-0.7h0m2.7 2.3h0m0.4-2h0m1.7-0.3h0m0.2-1.8h0m9.9 1.2h0m1.5-2.4h0m-158.5 6.5h0m0.1-0.6h0m19.1 1.4h0m1.2-0.2h0m0.6-0.5h0m0-0.8h0m0.5 3.1h0m1.3-1.3h0m1.1 2.3h0m0.7-1.4h0m0.3-0.7h0m1.6-0.1h0m0.9 1.9h0m0.3-1.5h0m1-0.9h0m1.2 2.9h0m0.7-3.9h0m2 1.3h0m0.7 3.9h0m1.9-5.4h0m0.4 1.9h0m1.4-1.8h0m1.3 0.7h0m2.7 4.3h0m0-2.6h0m0.1 1.7h0m0.3-2.9h0m0.1-1.6h0m0.2 1h0m0.4 0.8h0m0.5 1.8h0m0.5-2.7h0m0.4 3.4h0m0.4-1.5h0m0.3-2.2h0m0 2.7h0m0.3-2.1h0m0.3-0.2h0m0.7 1.1h0m1.1 1.9h0m0.5-3h0m0.4 0.7h0m0.1 3.1h0m2.3-1.5h0m2.1 0.7h0m0.5-3.5h0m1.5 2.1h0m0.2 0.6h0m0 2.2h0m0.5-2h0m0.3-1.8h0m1.4 1.5h0m0.4 0h0m0.3 0.4h0m0.2-2.9h0m2.4 4.4h0m1.8-0.2h0m0.7-1.4h0m4.8 0.4h0m0.8 1.8h0m0.2-3.8h0m0.9 2.4h0m0.1-1.3h0m0.4-1.6h0m1.8 3.7h0m0.3-0.7h0m0.5-1.2h0m0.4 1.7h0m0.4-4.6h0m46.3 5h0m3.3-1.9h0m0 1h0m1.1 1.3h0m1.2-1.1h0m1.2-2.6h0m0.3 0.2h0m0.5 1.4h0m1-2.1h0m0.3-1.2h0m2.2 4h0m0.1-0.6h0m1.7-1.9h0m2.7 2.5h0m0.7-1.6h0m0.5-2.6h0m0.4 3.4h0m4.5 1.2h0m0.8 0.5h0m0.4-0.7h0m2.9-2.8h0m0.1 1.9h0m0.5-2.1h0m1.4-0.5h0m0.5 3.6h0m1 0.4h0m0.7-1.9h0m4.6 2.3h0m1-0.4h0m11.8-4h0m-178.7 8.7h0m2.5-0.9h0m34.7-2.7h0m2 2.1h0m0.4-2.1h0m1.2 5.6h0m0.1-3.5h0m0.2 3.2h0m3-3.1h0m0.7 1.1h0m0.5-3.4h0m0.3 1.1h0m0.2 2h0m1.2-2.4h0m0.6-0.4h0m0.9 1.9h0m0.4 0.6h0m0.1-0.5h0m1.2-1.5h0m0-0.2h0m0.3 4.9h0m0.5-4.6h0m0-0.5h0m0.2-0.1h0m0.5-0.2h0m0.6 2h0m0.1 3.6h0m0.1-3.5h0m0-0.9h0m1.8 0.9h0m1.2 2.9h0m0.8-0.3h0m0-1.7h0m0.3-2.6h0m0.4 1.2h0m0.8-1h0m0.5 0h0m4.4 4.8h0m0.3-0.6h0m0.5-5h0m1.6 2.5h0m0.5 0.4h0m0.1-2.3h0m1.3 2h0m0.3 0.5h0m1.6-0.4h0m0.8 2.5h0m0.1-1h0m1.8-2.3h0m2.1 2.2h0m0.2-1.5h0m0.1 1.5h0m0-2.1h0m0.7 2.5h0m0.1-0.1h0m0.3-0.4h0m0.3 1.9h0m1.9-3h0m0.1-1.9h0m1.6-0.8h0m0.4 0.5h0m0 4.1h0m0.3-1.3h0m0.3-2.7h0m4.6 1.5h0m1.1-0.6h0m0.4 0.1h0m0.3-1.4h0m43.4 3.1h0m0.9 0.7h0m0.7-0.6h0m0.7 0.6h0m0.9 1.1h0m0.4-0.1h0m0.8-1.9h0m0.6-0.9h0m0.4 2h0m0.5-4h0m2.3-0.1h0m1.2 0.1h0m0.4 2.9h0m0.5 1.6h0m2-4.1h0m0.7 1.4h0m0.9 2.2h0m1.8 1.4h0m0.9 0h0m0.6-2.1h0m2.9-2.1h0m0.2 0.5h0m1.2-1.8h0m1.7 5.1h0m0.4-0.3h0m0.3-1.9h0m1.2-2.1h0m0.7 1.3h0m0.5 0.3h0m0 0.7h0m0.9-3.1h0m0.5 0.7h0m1.3 0.1h0m8.1 0.2h0m4.1 0.4h0m10.6-0.9h0m3.7 4.3h0m-193.1 2.1h0m18 1.8h0m13.1-2.6h0m9.9 0.2h0m4.3 0.8h0m2.2-0.7h0m0.2 2.8h0m1.4-1.3h0m0.1 1h0m0.4 2h0m0.7 0.2h0m1.3-3.1h0m0.1-1.3h0m0.1 0.2h0m0.1 2.1h0m0.1-2.3h0m1.1 4.4h0m0.6-1.7h0m0.8-3.7h0m1.7 3.5h0m0.4-3h0m0.8 0.6h0m0.1 1.7h0m1.8-2h0m1.1 4.9h0m0.3-3.9h0m0 2.7h0m0.6-1.2h0m0.3 2.3h0m0.3-3.5h0m3.6 1.7h0m0.8 1.8h0m0.2-1.9h0m0.2-3.8h0m0.3 2.5h0m0.5-0.2h0m0.4 0.3h0m0.8-1.2h0m0.8-0.2h0m1.1-0.1h0m1.2 0h0m0.7 2.1h0m0.8 1.8h0m0.1-2.1h0m0.1 0h0m0.5 0.7h0m0.9-1.5h0m0.8-0.8h0m0.1-0.7h0m0.3-0.6h0m0.8 3.2h0m1.1-0.4h0m0.4-1.2h0m0.4 1.3h0m1.1-0.8h0m0.2-0.6h0m1.3 1.3h0m2-2.2h0m0.3 1.4h0m0.1 2.8h0m1-4.7h0m0.4 2.1h0m3.3 1.5h0m1.9-0.4h0m0.3-2.8h0m0.1 0.1h0m0.4 5.4h0m0.7-0.6h0m0-3h0m0.6 2.5h0m0.6-1.6h0m1.4 2.1h0m0.3-0.1h0m1.1-0.5h0m0.3-0.3h0m40.2-3.4h0m1.5 3.5h0m0.3-0.2h0m0.3-4h0m0.2 1.6h0m0.7 3.1h0m0.1-4.3h0m1.8 3.4h0m1.8 1.1h0m1.8-0.5h0m4.7-4.1h0m0 3.8h0m1.8-0.2h0m0.2-0.2h0m1.4-0.9h0m1.9-1h0m0 1.3h0m0.6 2.1h0m1.6-2.6h0m0.1 2.1h0m6.1-4.4h0m0.6 3.8h0m0.2 0.2h0m0.9-1.4h0m0.6-0.1h0m0 1.4h0m13.2-2.4h0m7.1 3h0m0.3-1h0m-165.8 2.6h0m3.9 0.7h0m10.5 2.4h0m3.6-3.4h0m9.2 0.1h0m2.7-0.3h0m1.6 2.5h0m0.9-1.9h0m0.6 3h0m0.6-1.1h0m1.1 2.3h0m0.4-1h0m1.6-2.1h0m0 0.1h0m0.6 2h0m0.1 1h0m1.5-1.8h0m1.1-1.3h0m0.1 1.6h0m0.9-1.8h0m4-1.7h0m0.1 0.2h0m0.1 4h0m1-0.8h0m0.3-2.7h0m0 2.5h0m0.3-0.3h0m0.2-2.4h0m0.8 1.7h0m0.2 1.5h0m1.4-2.5h0m1 1.9h0m0.2-3.1h0m1.4 0.9h0m0.5 4.6h0m0.2-3.4h0m0.4 0.2h0m1.2-1.4h0m2.2-0.7h0m4.1 2.8h0m0.6 0.1h0m0.4 1.8h0m0.2-1.1h0m0.2-0.3h0m0.5-2.6h0m0.9-0.3h0m1.1 2h0m2.8 1.1h0m1.7 1.2h0m0.1 0.3h0m0.3 0.1h0m4.7-1.8h0m1.1 1.9h0m39.3-0.5h0m0.2-4h0m0.7-0.9h0m0.6 5.8h0m0.2-5.7h0m0.1 2.7h0m1.4 1.6h0m1.2-1.1h0m1.3-0.7h0m0.3-0.5h0m0.9-2.1h0m1.8 1.4h0m0.2-0.2h0m1.2-0.1h0m2.9 4.5h0m1.7-3.4h0m2.9-1.8h0m2.1 0.1h0m0.3 5.2h0m0.9-3.8h0m0.3 0.6h0m0.4 0h0m0.7-0.9h0m1.2 3h0m0.1-0.8h0m0.8-0.2h0m2.1-1.2h0m0.5-2.1h0m0.3 2.3h0m4.6 0.1h0m3 1.6h0m1.4 0.5h0m4.1-2.7h0m9.1 3.6h0m-130 3h0m0.1 1h0m1.2-0.8h0m0.6-2.8h0m0.7 3.2h0m0.7-2.4h0m0.1 3.3h0m2.2-3.5h0m1.1 1.1h0m0.3-1h0m0.2 1.4h0m0.3 0.6h0m0.9-2.1h0m0 1.2h0m1.8 1.6h0m1.8-1.1h0m0.5 1.7h0m2.1-0.7h0m0.8 1.2h0m2.4-1.6h0m0.7-0.5h0m1.3 1.8h0m0-1.1h0m0.1-2.8h0m1.2 4h0m1.7-2.1h0m0.4-0.1h0m0.3 2.6h0m1.1-1.3h0m0.5-1.1h0m0.3-0.2h0m0.3 2.4h0m1.5 0.5h0m1.6-2.6h0m0.1 1.3h0m1 1.2h0m0.5 0h0m0.1-2.9h0m0.3 2.2h0m0.5 0.7h0m1.3-0.4h0m0.1-3.1h0m0.2 2.1h0m0.1 1.7h0m0.9-0.5h0m0-4.6h0m1.8 2.3h0m4.1 1.3h0m0.2 0.4h0m0.3 0.1h0m0-3.7h0m0.6 1.1h0m0.1 2.7h0m0.3 1.4h0m1.5-4.1h0m0.2-1.5h0m0.9 1h0m0.3 2.3h0m34.7 0.2h0m0.5-2h0m1-0.4h0m1.6 4h0m1.1-5.3h0m0.6 0.4h0m0.1 4.8h0m2.1-0.9h0m2.9-3.8h0m1.4 2.8h0m0.2 0.1h0m0.3-1.4h0m0.7-1.3h0m0.1 4.5h0m1.2-5.2h0m0.1 0.6h0m0.7 4.6h0m0.8-3.1h0m4.6-0.2h0m0.4 2.3h0m0.1 1.6h0m0.1-3.2h0m0.7 1.6h0m0.1-0.7h0m0.4 1.6h0m0.4-1.1h0m0.7-4h0m0.8 0.1h0m0.5 3.1h0m0.1 0h0m2 2h0m0.4 0.1h0m0.4-0.6h0m1.6-2.3h0m0.8 3.2h0m0-3h0m1.1 3.1h0m0.9-0.9h0m0-4h0m0.7 1.7h0m5 0.5h0m14.2 0.4h0m1.8 1.9h0m7.6-2h0m10.3-0.2h0m-179.4 6.9h0m27-2.9h0m0.6 4.5h0m3.9-1.7h0m0.1-3h0m1.3 4h0m0.4-1.8h0m1.9 2.6h0m0.2-0.4h0m0.4-0.4h0m0.6-2.3h0m0.5 1.8h0m0-3.2h0m0.9 0.9h0m0.3 3.6h0m0.5-2h0m0.4 2.1h0m2.1-3.1h0m0.1-2.1h0m1.1 0h0m0.5 0.4h0m0.2 0.3h0m0.1-0.2h0m1 2.6h0m0.6 0.4h0m0.6-1.5h0m0.2 0.5h0m0.1 0h0m1.1-2h0m2.3 0.7h0m0.5-1.5h0m1.7 4.8h0m0-1.9h0m0.8-0.5h0m0.1 1.2h0m0-1.3h0m0.8 0h0m0.9 2.9h0m0.2-4.9h0m1.4 5.3h0m0-3.3h0m0.9-0.1h0m0.1-2.2h0m3.3 3.7h0m0.2-1.2h0m1.7 1h0m0.1-3.8h0m0.3 3.2h0m0.1 2.2h0m0.8-4.9h0m0.4 0h0m0.1 4.1h0m0.7 1.2h0m0.6-4.8h0m0.4 4.9h0m0.4-1.3h0m0.7 0.6h0m0-4.6h0m1.1-0.1h0m1.8 0.2h0m0.3 0.8h0m0.8 2.1h0m0.1-2.2h0m0.5 1.6h0m0.1 0.2h0m1-0.7h0m0.9 3.4h0m0.1-5.8h0m0.6 2.8h0m1.1-0.1h0m0.4 0.6h0m0.2 1.7h0m29.1-1.1h0m0.9-0.6h0m0.7 0.1h0m0.2 0.2h0m1.9-3.4h0m1.2 2.5h0m0.6-0.4h0m2.6-0.9h0m0.5 0.9h0m0.7-0.5h0m0.1 3.6h0m2.3-4.5h0m1.6 2h0m0.3-2h0m2.8 0h0m0.4 0.2h0m0.2 3h0m0.3-2.3h0m1 3.5h0m1-0.4h0m1 0.9h0m1.7-1h0m0.1-3.4h0m0.2 2.6h0m0.3-2.3h0m0.4-0.6h0m0.1 0.1h0m0.1 3.7h0m0.3-1.6h0m0.5 0.2h0m1.3-2.1h0m0.8 2.2h0m0.6 1.7h0m0.6-0.1h0m0.3-3.2h0m3.2 0.3h0m0.3 0.3h0m0.5 2.3h0m1.2-1.6h0m0 1.8h0m0.1-4.9h0m0.7 1.5h0m1.2 2.5h0m0.9-4.1h0m0.4 2.5h0m0.3 2.2h0m6.2-4.7h0m4.3 3.8h0m1.6-2.9h0m9.6-1h0m-138.4 8h0m8.8-0.4h0m0.5 1.9h0m0.2 1.7h0m0.8-3.6h0m0.4 0.2h0m1.8 1.3h0m1.8 2.3h0m0.6-3.3h0m0.6-0.3h0m0.7 0.5h0m0.4 3h0m0.2-2.9h0m0 3.3h0m0.2-0.9h0m4-4.7h0m0.5 2h0m0-0.3h0m1.5 2.4h0m0.3-2.5h0m0.3 1.3h0m0 1.4h0m1 1h0m3.4-3.7h0m0.3 0.3h0m3-0.9h0m0.8-0.4h0m0.9-0.4h0m0.7 1.2h0m1.1 2.3h0m0.3-2.1h0m1.6 0.6h0m2-1.6h0m0.5 3.9h0m0.9-0.2h0m0.3 0.3h0m0.2-4.3h0m0 1.1h0m0.1-0.7h0m0.5 4h0m1.2-0.2h0m0.4-0.4h0m1 1.6h0m0.9-4.6h0m0.9 0.4h0m0.1 2h0m4.6 0.3h0m0.3-1.8h0m29.6-0.8h0m0.2 4.4h0m0.2-0.9h0m0.4-3.9h0m0.3 1.2h0m2.1 0.7h0m0.5 1.2h0m0.9-3.6h0m0.1 3.3h0m1.6-0.3h0m1.2 0.8h0m0.5 0.7h0m0.1-1.2h0m0-0.1h0m1-0.4h0m1.1-2.4h0m0.6 4.2h0m0.7-4h0m0.1 0.9h0m0.5-1.2h0m0.6 2.5h0m2 2.5h0m3.4-1.4h0m0.5-2h0m0.4 1h0m0.6 2.4h0m0.3-3.9h0m0.2 0.3h0m1.3-1.8h0m0.1 5.1h0m0-1.8h0m0.7-1.6h0m3.9 0.4h0m1.7-2h0m0.5 3.7h0m0.8-1.5h0m1.7 2.6h0m0.7 0.2h0m2.6-2.8h0m2.6-1.5h0m1.1 1.5h0m0.1-0.2h0m-121.5 4.1h0m7.8-0.2h0m2.4 2h0m4 1.9h0m0.5-2.6h0m1.4 2.5h0m2.1-1.7h0m0.4 2.8h0m0-4h0m1.4 2.1h0m0.1-1.9h0m0.3 3.8h0m0.3-1.1h0m0.5 0.7h0m0-3.2h0m0.1-1.4h0m1.3 3.3h0m0.8 2.3h0m0.2-3.3h0m0.4 0.9h0m0.7 1.9h0m0.1-4.2h0m0-1.2h0m1.6 2.7h0m3.4 0.5h0m2-3.2h0m0.2 3.6h0m0.4-2.2h0m1.7 0.3h0m0.2 4.1h0m1-4.1h0m0.7-1.3h0m0.5 3.1h0m0.3-1h0m0.1-1.4h0m0.1-0.5h0m1 0.4h0m0.7 3.3h0m0.5-1.7h0m1.4 0.3h0m0.1 2.9h0m0-2.6h0m0.6 0.1h0m2.3 2.5h0m0.2-1.7h0m1.9-0.7h0m1.3 1.7h0m2.6-1.8h0m0.9-0.3h0m2.5 1.8h0m0.5-4.7h0m1 3.9h0m0.1 0.1h0m0.1-0.9h0m0.5 1.8h0m0-3.4h0m0.4-1.1h0m25.6 1.8h0m0.4 2h0m0.5 1.5h0m1.8-4.9h0m0 1.5h0m0.2 0.5h0m0.2 2.6h0m1.2-4.4h0m0.3 4.4h0m0.5-3.1h0m0.6-1.9h0m0.1 3.8h0m0.6-2.2h0m0.1 2.4h0m2.2 0.9h0m0.6-3.2h0m0.6 0.2h0m0 3.3h0m1.1-2.5h0m0.8-2.1h0m1.2 1.5h0m1.8 2.8h0m1.7-5.2h0m0.3 4.6h0m0.6-2h0m0.1-1.6h0m0.1 4.4h0m0-2.6h0m0.4 0h0m1-1.8h0m0.1 1.8h0m0.3-2.9h0m0.7 2.9h0m0.6 1h0m0.1-2h0m0.2-0.4h0m0.4 2.8h0m1.5-3.6h0m1.3 1.5h0m1.4-1.1h0m1.5 2.5h0m1.8-2.7h0m0.4 0h0m1.2 1.8h0m1-1.7h0m0.9 2.3h0m0.7 0.9h0m0.1-4h0m0.6 3.1h0m0.3-1.4h0m0.5 3.7h0m0.9-4.6h0m4.3 3.9h0m1.4-5h0m2.9 3.2h0m0.2-1.4h0m21.2 3.2h0m7.5-3.7h0m-207.3 5.5h0m40.8 4.3h0m23.5 0.4h0m0.6-2.3h0m3.2 1.8h0m0.1-3.8h0m2 2.2h0m0.7 0.1h0m1.2 1.1h0m0.2 0.6h0m0.9 0.7h0m1.6-0.3h0m0.2-5.1h0m1.8 1.1h0m0.5 0h0m2.3-1.7h0m2 4.1h0m0.1-3.8h0m0.7 2.8h0m0.5 2.1h0m0-4.6h0m2.7 0.3h0m0.6 1.4h0m1 3.2h0m0.7-1.4h0m0.4-1.8h0m0.1-0.2h0m1 2.8h0m3.8-0.7h0m0-0.1h0m0.2-1.2h0m0.4 2.4h0m0.2-4.1h0m0.2-1.1h0m0.3 1.3h0m0 4.6h0m1.1-0.3h0m0.2-4.2h0m0 1.5h0m0 0.3h0m0.4 2.1h0m1.6-1.5h0m1.1-2.5h0m0.2 0.6h0m3.2 1.7h0m0.1-0.7h0m0-0.5h0m1.6 3.4h0m1.5-1.8h0m0 1.4h0m1.1-5.1h0m3.2 0h0m0.1 5.1h0m0-4.4h0m0.2 2.1h0m0.6 2.7h0m0.2-1.9h0m0 1.7h0m22.5-5.3h0m0.9 2.8h0m0.1-2h0m0.8 4.1h0m1.5-0.3h0m0.3-3.7h0m0.4 3.3h0m0.1-0.6h0m2.4 1.1h0m0.2-4.3h0m1.4 2.9h0m2.2-2.5h0m0.3 3.9h0m0.5-4.6h0m0.1 3.5h0m1 0.7h0m2.2-4.4h0m0.5 0.3h0m1.4 4.8h0m2.4-0.4h0m1-2.7h0m0.3-1.3h0m1.3 4h0m1.2-0.6h0m1.3 1.4h0m0.6-4.8h0m0.2 3.5h0m0.3-1.2h0m0.2-2.4h0m2.6 0h0m0.1 3.1h0m2-2.2h0m0.4 0.9h0m1.3-1h0m0 1.1h0m0.8 2.1h0m0.5-4.9h0m1.5 3.4h0m0.2 1.2h0m0.8-3.3h0m5.9 2.5h0m1.5 1.5h0m4.8-1.3h0m15.3-1.3h0m5.7-2.4h0m-180.5 8.4h0m49.3-2.5h0m1 0.1h0m0.5 1.9h0m1.2-1.9h0m0.1 0.4h0m0 2.9h0m0.3 0.5h0m0.6 1.4h0m0.2-5.2h0m0.6 1.3h0m0.6-1h0m1 0.4h0m1.5 2h0m0.2-0.5h0m0.6 2.4h0m0.9-1.9h0m2 2.2h0m0.2-1.4h0m0-0.7h0m1 2.2h0m1.3 0.5h0m1.2-2.1h0m1.6 1.1h0m0.1-3.1h0m2.1-0.6h0m0.7 2.4h0m0.1-1.2h0m0.8-1.4h0m0.2 2.5h0m0.1 2.3h0m1.4-5.4h0m0 3h0m0.6 1.5h0m0.3 0.6h0m0.4-3.3h0m0.7 0.6h0m0.1 3h0m0.8 0.1h0m0-3.9h0m0.4 0.7h0m0.4 1.3h0m1 0.1h0m3.5-0.5h0m1.4-1.3h0m2.9 2.6h0m2.1 0h0m0.3-2.9h0m0.4 1.9h0m0.5-1.5h0m22.7 3.5h0m2.9-1.5h0m0.6-3.1h0m0.3 1.2h0m0 3.4h0m0.4-0.1h0m0.4-3.3h0m2.5-2.4h0m0.3 4.7h0m0.1 0.3h0m2.6-1.7h0m0.1 0.9h0m0.1 1.7h0m0.6-1.7h0m1.6 0.2h0m0.1 0h0m0.4-0.1h0m0.7-1.5h0m0.3 2h0m0.6-4.3h0m1.1 4.5h0m0.4-0.5h0m1.2-2.9h0m0.1 0.1h0m2.5-1.1h0m1.4 0h0m1 0.2h0m1.4-0.8h0m3.4 1.3h0m0 0.9h0m3.1-2h0m1 1.9h0m0.9 0.6h0m0.8-1.5h0m0.1 2.8h0m0.3-1.8h0m0.6-0.3h0m1.3-1.3h0m1.5 0.9h0m4-0.4h0m24.5 2.4h0m43.4-2.2h0m-199.1 6.5h0m15.7 2.9h0m4.7-2.9h0m7.1-0.8h0m0.5 0.5h0m0.9-0.6h0m0 3h0m5.9-2.1h0m0.5 1.1h0m1.2 1.7h0m0.4-0.6h0m0.5-2.7h0m0.4-0.7h0m0.3 3.9h0m0-2.4h0m0.2 2.2h0m1.6 0.7h0m0.6-0.3h0m5.8-1.4h0m0.2-0.9h0m0.8-0.7h0m0.4 2.1h0m3.2-3.4h0m0.8 3.2h0m1.1-0.4h0m0.1-2.4h0m0.7 1h0m0 2.1h0m0.9 1.3h0m0.9-4h0m0.1 4.2h0m0.5-4.3h0m0 4.7h0m0.7-3h0m0.7 1.7h0m2.3-0.9h0m0.2-2.4h0m0.4 1.3h0m0.5 1.8h0m0.3 0.6h0m1-1.6h0m0.2-0.5h0m0.4-0.8h0m0.7-1.9h0m1.6 2.8h0m0.4-2.9h0m0.7 4.8h0m2.8-4.6h0m0.4 5.3h0m0.9-4.5h0m0.2 1.3h0m0.2-1.2h0m0.8 1.2h0m0.2 1.5h0m17 0.6h0m0.7 1.5h0m0.3-5.4h0m1.1 0.8h0m1.3 0.5h0m1.8 1.5h0m0.7-1.6h0m0.6 1.6h0m0.8 1.4h0m1.4-4.1h0m0.3 4.5h0m0.3-4.7h0m0 0.2h0m0.2 2.8h0m1.2-2.5h0m0.3 2.9h0m2.2-0.5h0m1.3-2.5h0m0.9 0h0m0.4 3.5h0m1.2 0h0m1.5-0.8h0m0.2 0.6h0m0.2-1.7h0m0.5 3.1h0m1-3.7h0m0.4-1.5h0m0.4 3.3h0m1.2-2.9h0m0.3 5.2h0m0.1 0h0m0.7-5.3h0m0.1 3.7h0m0.5-2.9h0m1-1.2h0m0.4 1.7h0m0.6-0.8h0m2.1 2.9h0m0.3-0.1h0m0.9 0.1h0m0.5-0.6h0m0.4-2.8h0m0.3 4.7h0m2.1 0.2h0m0.6-5.1h0m2.4 2.3h0m1.3-2.2h0m4.5 4.4h0m3.7-2.3h0m-96.5 3.4h0m3 2.4h0m0.3-2.1h0m1.8 1h0m1.4 2.6h0m0.7-2.5h0m1.3-0.6h0m3.8 4.2h0m0.1-3.2h0m1.6 1.5h0m1.6 2.3h0m1.6 0.1h0m0.1-3.2h0m1.7-2.3h0m1.8 5.4h0m0.8-3.6h0m0.1-1.7h0m3 1.3h0m1.1 4.3h0m2.2-4.2h0m0.7 0.1h0m0.9 0.4h0m0.3 1.9h0m0.9 0.8h0m0.9-4.9h0m0.1 3.6h0m2.1-2.2h0m0.5 4.3h0m16.6-4.5h0m0.3-1h0m1.3 4.7h0m1.4 1h0m2-4.2h0m2 2.5h0m0.3-1.1h0m0.2 2.8h0m1-0.1h0m0.8-5.2h0m0 1.7h0m0.2 3.7h0m1.5-4.7h0m0.1-0.8h0m1.9 2.2h0m4.8 1.1h0m0.3 2h0m0.4-4.6h0m0.9 0.7h0m0 2.5h0m0.3-0.6h0m1.3 1.7h0m0.1-5h0m0.6 5.1h0m2.5-0.9h0m0.6 0.5h0m2.1-2.8h0m0.2 0.4h0m3.3 1.3h0m1-1.1h0m4.6 1h0m3.6-2h0m-83.2 9h0m1.3-3.9h0m0.3-0.3h0m0.2 3.3h0m0.9 1.6h0m0.2-4h0m1.6-1.6h0m0.5 0.5h0m1 2.5h0m0.2-2.9h0m1.3 1.1h0m0.3 1.3h0m2.6 2.7h0m0.2-4.7h0m0.8 0.9h0m0 3.8h0m1.6-4.3h0m0 0.5h0m0.2 1.6h0m0.4-2.7h0m0.4-0.4h0m0.9 5h0m3.2 1h0m1.8-0.9h0m0.8-2.2h0m1.3-2h0m0.4 0.5h0m0 3.9h0m1.4-2.9h0m0.1 1h0m1.7-2.6h0m1 4.8h0m1.4-3.1h0m0.3 2.6h0m0.5-1h0m13.1 1.3h0m0.1-1.4h0m3.3-1.8h0m0.4 3.3h0m0.2-3.1h0m0.4 2.5h0m2-4.3h0m0.8 2.2h0m0.5 0.7h0m0.6 0.1h0m0.4 1.1h0m0.4 0h0m0.3-4h0m0.6 4.1h0m0.2-0.9h0m0.9 1.4h0m3.4-2.7h0m2.9 2.2h0m1.9-4.7h0m1 4.5h0m0.2-1.2h0m0.2-2.7h0m1.7 0.8h0m0.4 3h0m0.1-2h0m0.6-2h0m0.9 4h0m0.5-2.9h0m0.6 3.4h0m0.2-4.7h0m0.1 4.9h0m1.9-3.8h0m2.1 1.4h0m1-0.3h0m1.3 1.2h0m1.6-0.8h0m0.2 1.9h0m0.4-2.7h0m-87.7 5.1h0m18.1 0.2h0m0.1 0.8h0m0.1 1.1h0m1.2 1.6h0m0.2-4.4h0m0.4-0.1h0m1.6-0.2h0m0.8 1.9h0m0.4 0.2h0m0.2 3.7h0m0.5-2.2h0m0.3-3.3h0m0.2 0.4h0m3.2 2.7h0m0.1-2.8h0m0 1h0m0.1 2.5h0m1.3 1.4h0m0.2-2h0m0.4-2.4h0m0.8 3.5h0m0.3-2.3h0m0.3 0.4h0m1.3 1.2h0m0.1-1.7h0m0.1 1.8h0m0.4-4.2h0m1.4 3.1h0m0.3-2.1h0m1.3 5h0m0-5.9h0m0.2 4.2h0m0.5-3.2h0m0.5-0.2h0m1.4 0.6h0m0.3-0.3h0m0.5 1.9h0m14.4-2.9h0m0.7 3.6h0m0.2 1.9h0m1.1-1.1h0m0.5-2.2h0m0.4-1.6h0m0.2 3.9h0m1-1.9h0m0-1.6h0m0.2 2.1h0m0.8-2h0m2.4 1.5h0m0.4-2h0m1.6 1.7h0m0.4-1.4h0m0.9 0.1h0m0.2-0.6h0m0.7 0.3h0m0.4 3.7h0m0.2-3.1h0m1.2-0.8h0m0.1 0.3h0m0.2 4.9h0m0.3-0.6h0m3.5-2.4h0m0.5-0.7h0m0.9-0.8h0m0.1 0.2h0m0.3 1.7h0m0.1-0.1h0m0.2 2.1h0m0.8-3.9h0m0.2 3.1h0m1.1-0.1h0m0.2-1.7h0m0.1-0.3h0m1.8 2.3h0m0-0.4h0m0.4-3.3h0m1.2 4.5h0m0.7-0.5h0m0.1-2.7h0m0.6 3h0m1-4.8h0m1.4 1.5h0m0.3 1.3h0m1.5-1.3h0m0.6-0.6h0m22-0.2h0m-84.9 5.1h0m3 3.8h0m0.1-3.6h0m5.4 4.8h0m1-3.5h0m0.4 0.4h0m0.6 1h0m2.9-2.7h0m0 1.2h0m0.4-0.4h0m1.4-0.4h0m1.2 2.3h0m0.1-0.5h0m0.1-2.1h0m0 5.1h0m0.2-2.6h0m0.2-0.5h0m0.2 1h0m2.7-1.9h0m2.4 0.1h0m0.3 4h0m0.6-1h0m0.2 0.4h0m2.1 0.7h0m0.9-0.7h0m0.5-1.4h0m0.7-0.7h0m1.6 0.7h0m0.5-2.1h0m0.7-1.2h0m1.2 5.3h0m0.6-5.3h0m0.5 5.5h0m0-3.9h0m0.4-1.3h0m0.6 4.2h0m0.3-1.5h0m1.6-2.5h0m1.3 0h0m0.6 3h0m1.3 1.4h0m0.4-0.7h0m1.3-1.5h0m0.9-2.6h0m0.8 2.7h0m1.3 1.6h0m0.6-0.4h0m3.1-3.9h0m1.8 2.6h0m0.3 1.3h0m0.9-1.2h0m0.8-1.9h0m2.8 1.7h0m0.3-1.1h0m-47.8 6.8h0m0.1-1.5h0m0.7 2.6h0m2.6 0h0m0.9 0.2h0m0.6-1.8h0m0.9-1.6h0m2.1 3.4h0m0-0.5h0m0.3-2.6h0m0.1 2.6h0m0.1 1.7h0m0.8-2h0m1.1-1.5h0m1.5 3.6h0m0.3-1.8h0m1 0.1h0m0.3-0.5h0m2.1 1h0m0.4-3.8h0m1.6 1.3h0m1.1 3h0m1.5 0.7h0m0-3.4h0m1 1.9h0m1.3 1.2h0m0.2-5h0m0.3 3.1h0m1.3 0.3h0m1.2 2.3h0m0.7-0.7h0m0.1-3.4h0m6-0.6h0m0.5 4.6h0m0.2-5.5h0m0 3.3h0m0.4 2.2h0m0.7-3.3h0m0.1 3.5h0m1.5-2.6h0m1.1-1.9h0m0.3-0.3h0m0.1 0h0m0.2 1.9h0m0.1-0.2h0m0.7 0h0m0.1-0.9h0m-31.3 5.8h0m2.5-1h0m0 1.2h0m0.3 1.6h0m1.4 0.8h0m0.3-3.8h0m1.3 4.1h0m0.1 0h0m1.6-0.8h0m2 0.1h0m1.4-3.1h0m0.1 3.3h0m0.1-1.5h0m1.7-1.6h0m0.6 0.7h0m1.3-0.8h0m0 3.2h0m0.7-0.5h0m0.3-0.7h0m0.5-2.2h0m0.7-0.4h0m0.9 0.5h0m0.3 2.3h0m0.3-0.2h0m0.1-1h0m1.7-0.2h0m2 1h0m1.4-1.2h0m2.1 1.7h0m2.9-2.5h0" stroke="#d3d3d3" stroke-width="5.4" stroke-linecap="round" fill="none"/>
<path d="M895.6 106.6h0m9.3 8.3h0m18-0.7h0m20.9-1.3h0m-12.2 14h0m44 12.2h0m-36 5.7h0m-2 35h0m11.4 1.5h0m16.1-0.4h0m28.7 1.4h0m-47.2 5h0m-22.6 6.4h0m19.8-1.3h0m35 2.4h0m0.9-4.1h0m-49.3 7.3h0m14.7 2.8h0m13.4-2.8h0m-27.5 6.4h0m45-1.1h0m-37.1 8.7h0m8.4 0.5h0m3.5-5.1h0m2.8 5.1h0m6.6-2.6h0m10.3 0.4h0m1.2 1.7h0m12.4-0.8h0m-43.9 7.7h0m1.2-3.9h0m5.2 0.5h0m0 3.4h0m16.2-1.7h0m14.1-0.9h0m-45.7 8.5h0m3.4-1.7h0m22.2 0.5h0m3.4 0h0m7.5-2.6h0m11.7 1.7h0m-74.8 6.8h0m25.3-0.4h0m9.8 1.7h0m13.7-5.5h0m2.6 1.3h0m5.5-0.5h0m17.9-0.4h0m-59.3 10.7h0m17.9-1.3h0m3.4-2.6h0m7.7 1.7h0m1.7-0.8h0m5.6 0h0m3 3.4h0m5.5-3.8h0m6.4 0.4h0m2.6 1.7h0m0.4-3.4h0m9 4.7h0m-51.2 3.8h0m2.5-1.7h0m12 2.6h0m6.8-2.6h0m3.4 1.7h0m5.1 2.6h0m3.4-0.9h0m3.5-1.7h0m3.4 2.6h0m5.1-1.7h0m-92.2 7.6h0m61-5.1h0m4.7 3.4h0m2.6 0.9h0m0.9-4.3h0m2.5 2.6h0m2.6 0h0m1.7 2.5h0m4.2-0.8h0m3.5-0.9h0m5.1-0.8h0m4.2 2.5h0m0.9-5.1h0m7.3 0h0m-55.1 10.7h0m4.3-1.7h0m3.4 1.7h0m4.3 0h0m5.1 0h0m6-2.1h0m4.2-0.9h0m3.4 1.7h0m4.3 0.4h0m14.5-2.1h0m1.7 0.9h0m2.6 1.7h0m3.4-0.5h0m-60.6 1.7h0" stroke="#3d55a5" stroke-width="5.5" stroke-linecap="round" fill="none"/>
<path d="M1097 177h0m0.4-4.5h0m3.6 20h0m-6 11.6h0m40.7 0.5h0m3.5 12.1h0m-29.9 11.8h0m-47.3 2.5h0m43.8 3.3h0m-54.6 8.7h0m31-2.4h0m-19.7 4.3h0m31.1-1.6h0m3.9 4.9h0m9.2 0.8h0m19.4-2.2h0m-52.9 8.1h0m5.6-3.6h0m6.8 3.1h0m2.1-2.1h0m0.7 1.4h0m33.2-0.6h0m-36.3 3.3h0m14.1-0.8h0" stroke="#e02d26" stroke-width="5.5" stroke-linecap="round" fill="none"/>
<rect x="743" y="22.1" width="560.8" height="379.8" fill="none" stroke="#000" stroke-width="3.7"/>
<path d="M738.6 385.8H743M738.6 299.2H743M738.6 212.6H743M738.6 126.1H743M738.6 39.5H743M768 401.9V406.1M895.6 401.9V406.1M1023.3 401.9V406.1M1151 401.9V406.1M1278.6 401.9V406.1" stroke="#000" stroke-width="3.9" fill="none"/>
<text x="728.8" y="394.7" font-size="25" text-anchor="end">0</text>
<text x="728.8" y="308.1" font-size="25" text-anchor="end">2</text>
<text x="728.8" y="221.5" font-size="25" text-anchor="end">4</text>
<text x="728.8" y="135" font-size="25" text-anchor="end">6</text>
<text x="728.8" y="48.4" font-size="25" text-anchor="end">8</text>
<text x="769.5" y="434" font-size="25" text-anchor="middle">−5.0</text>
<text x="897.1" y="434" font-size="25" text-anchor="middle">−2.5</text>
<text x="1023.6" y="434" font-size="25" text-anchor="middle">0.0</text>
<text x="1151.2" y="434" font-size="25" text-anchor="middle">2.5</text>
<text x="1278.9" y="434" font-size="25" text-anchor="middle">5.0</text>
<text x="1027.6" y="472.6" font-size="25" text-anchor="middle">Log2 fold change</text>
<text transform="translate(690 211.9) rotate(-90)" font-size="25" text-anchor="middle">−Log10 <tspan font-style="italic">p</tspan> value</text>
<text x="1021" y="508" font-size="25" text-anchor="middle">43</text>
<path d="M1454.7 24.8V400.5M1518.5 24.8V400.5M1582.3 24.8V400.5M1646.2 24.8V400.5M1710 24.8V400.5M1773.8 24.8V400.5M1837.7 24.8V400.5M1901.5 24.8V400.5M1965.3 24.8V400.5M1431.6 385.6H1987.5M1431.6 342.4H1987.5M1431.6 299.1H1987.5M1431.6 255.9H1987.5M1431.6 212.6H1987.5M1431.6 169.4H1987.5M1431.6 126.2H1987.5M1431.6 82.9H1987.5M1431.6 39.7H1987.5" stroke="#ebebeb" stroke-width="1.3" fill="none"/>
<path d="M1623.2 258h0m9.1 2.2h0m11.9 0h0m9.6 0h0m2.5 0.4h0m81.8-0.4h0m5.1-2.2h0m-127.9 6h0m2.8 2.7h0m5.6-5.6h0m5.9 0.1h0m1.1 0.9h0m3 2.2h0m4 0.8h0m0.4 1h0m0.1-1.2h0m1.3 1.7h0m0.3-4.8h0m1.8 4h0m0 0h0m1.3-4.8h0m1.5 4.7h0m0.8-2.2h0m0.3 2.7h0m3.4-4h0m0.3 3.9h0m2.3-3.9h0m0.4 4.8h0m0.8-4.3h0m0.3 1.8h0m2 2.3h0m1-1h0m1-0.3h0m0.2-4.1h0m2.2 1.1h0m0.7 0.3h0m0.2 2.9h0m0-3.4h0m0.4 0.9h0m0.8 0h0m0 3.5h0m3.5-3.1h0m0.5-0.2h0m0.2 0.3h0m1.4-1.5h0m1.3 1.8h0m0.5-2.6h0m0.3 2.3h0m0.1 3h0m3.5 0.2h0m1.4-0.4h0m1.2-0.5h0m76.5-1.7h0m9.2 0.2h0m1.6-2.6h0m0.3 3.1h0m0.9 2h0m3.2-0.5h0m1.3-3.8h0m1.3 2.4h0m6.7-2.7h0m32.2 2.8h0m34.2-0.7h0m0 0.9h0m-215.9 4.3h0m1-0.1h0m6.2 3.3h0m4.5-1.9h0m0.7 0.3h0m0.1-0.8h0m1.9-1.5h0m0.8 0.9h0m0.8-1.8h0m0.3-0.2h0m1.2 1.7h0m0.2 2.5h0m1 0.2h0m0.1-1.9h0m1.7 1.5h0m1.5 0.7h0m1-4.1h0m1.8 2.1h0m0.9-3.5h0m0.3 2.6h0m1.5 1.9h0m1.5 0.5h0m0.9-3.1h0m1.3 2.4h0m0.8-1.4h0m0.6-2.2h0m0.6-0.4h0m0.1 4.1h0m1.6-4.4h0m1.4 0.3h0m0.1 1.9h0m0.7 0.2h0m0 3.1h0m0.6 0.2h0m2.7-0.6h0m2-3h0m0.9-0.6h0m0-1.1h0m1-0.4h0m0.1 1.5h0m2.4 4.3h0m63.4-4.4h0m17.1-0.9h0m1.9 4h0m10.4-0.2h0m8-2.3h0m9.3 1.6h0m0.2 0.3h0m-163.4 4.3h0m14.4-1.5h0m1.5 3.6h0m3.8-3.9h0m1.7 5.2h0m0.2-2.2h0m0.2-1.2h0m1.5 2.8h0m0.7-1.5h0m1.2-1.4h0m3.6 2.5h0m0.2-3h0m1-0.4h0m1.6 3.2h0m3.9-0.4h0m0.1-4h0m0.2 0.3h0m3.3 0.1h0m0.4 1.2h0m0.4 1.9h0m0 0.5h0m0.3-2.3h0m0.6 3.2h0m0.3-4.1h0m0.3 1.3h0m1.7 2.5h0m0.2-2.2h0m0.1-2.3h0m0.9 1.7h0m1.3 3.8h0m0.1-0.4h0m1.3-3.3h0m1.4-1.7h0m0.4 3.1h0m1-0.1h0m1.3-3.1h0m0.4 0.2h0m1.7 4.9h0m0.1 0h0m0.3 0.4h0m0.3-2.2h0m2.1 0.6h0m0.2 1.2h0m3.2-1.2h0m2.5 1.4h0m54.3 0.1h0m15.2 0.2h0m13.1-4.1h0m1.1 2.8h0m13.5-4.5h0m3 3.1h0m29.4-0.8h0m15.3-2.1h0m-206.6 11.1h0m10.2 0h0m3.9-2.7h0m1-1.3h0m9.5 3.1h0m0.2 0h0m2.3 0.9h0m1.8-4.9h0m0.2 3.3h0m0 0h0m1.2-1.5h0m0.2 2.3h0m1.1-4.4h0m0.3 0.8h0m0.3 0.7h0m0.3 2.9h0m0.4-4.2h0m0.4 3h0m1.1-2.3h0m1-0.4h0m0.3 4.6h0m0.2-0.5h0m1.3-4.1h0m3.9 3.1h0m0-3.2h0m0.5 0.4h0m0.1-0.7h0m6 5.7h0m0.1-3.3h0m0.4 2.2h0m0.5-3.8h0m5.1 2.5h0m0.8-0.6h0m0 0.7h0m0.1 0.8h0m0.6-1.3h0m1.1 1.3h0m1.5 0.7h0m0.1-1.4h0m0.2-1.2h0m1.5-2.4h0m0.9 0.3h0m3.7 4.8h0m1.4-0.2h0m52-4.8h0m13 4.6h0m2.8-0.3h0m6.9-2.3h0m15.2 0.6h0m-148.2 7.1h0m2.3-2.3h0m9.9 3.8h0m0.2 0h0m0.4-1.6h0m0.1-0.5h0m0.4 1.9h0m0.9 0.1h0m0.3-3.3h0m0 3.4h0m1.8-4.5h0m2.9 2.6h0m1.5-3.3h0m0.2 3.5h0m1.7-1.6h0m0.2-0.5h0m6.1-0.4h0m0.6-1.2h0m0.2 4.6h0m0.6-0.6h0m2.3-2.9h0m0.1 1.9h0m0.1 0.3h0m1.2-2.6h0m0.4 4.8h0m1.5-0.7h0m0.1 0.3h0m0.2-4.1h0m2.7 0.3h0m0.1-0.4h0m0.2 0.6h0m0.1 2h0m0.1 0.8h0m2.2-1.4h0m0.2 0.6h0m0-2.7h0m0.6 2.2h0m0.6 2h0m0.3-3.9h0m0.3 3.6h0m0.7-1.7h0m1.8-1.9h0m0.2 4.4h0m0.2-4.7h0m0.3-0.2h0m0.7 2.3h0m0.1-1.2h0m0.4-1.1h0m0.8 0h0m0 2.4h0m0.5-1.6h0m0.9 0.7h0m0.5 2.4h0m1.1 0.8h0m1.1-0.7h0m0.6-3.4h0m0.1 2.5h0m0.3-2.6h0m3.7-0.7h0m1.3 1.7h0m0.7 2.9h0m0.5 0.1h0m47.7 0.6h0m6.3 0h0m2.4-0.9h0m0.2 0.8h0m3-1h0m6.5 0.2h0m1.1 0.1h0m1.9 0.8h0m2.6-1.1h0m9.7-4.1h0m1.6 0.6h0m1 4.2h0m19.5-0.9h0m24.2-0.5h0m-185.9 3.7h0m2.3-0.4h0m9.2-0.2h0m0.6 1.8h0m0.3-0.6h0m0.1-0.9h0m2.5 2.6h0m0.4 1.6h0m1.3-3.7h0m0.4 2.1h0m0.5-0.5h0m0.9 1.5h0m1.3-2.2h0m1.2-0.8h0m2.1 0.3h0m0.2-0.7h0m0.6-1.5h0m1.3 4.9h0m0.2-2.3h0m2.5-1.7h0m0.1 0.5h0m0.5 4h0m0.2-0.7h0m0.1-0.7h0m3.3 1.4h0m0.5-0.8h0m1.9-1h0m1.5-1.5h0m1 2.3h0m1.7-2.7h0m0.8-1.7h0m0.6 2h0m0.2-1.1h0m0.8 4.6h0m0.1-2.1h0m0.2 2.2h0m0.1-4.4h0m0.3 2.1h0m0.8 0.4h0m0.1 1.2h0m1.6-2h0m0.1-1h0m0.8 0.8h0m0.5-0.2h0m0 1.7h0m1.9-2.1h0m0.5-1.7h0m1.4 2.3h0m0.1-2.5h0m0.2 5.2h0m2.1 0.1h0m0.5 0.3h0m0.8-0.7h0m0.1-4.1h0m0.7-0.8h0m1 0.3h0m0.3 3.3h0m1.2 1.7h0m0.1-3.3h0m0.1-1.3h0m1.8 0.2h0m0.2 2.1h0m45 1.1h0m1.2-3.5h0m2.5 4.3h0m0-2.9h0m0.3 1.2h0m0.6 1.6h0m0.9-4.9h0m2.5 1.8h0m2.7 3.4h0m0.7-0.9h0m0.5-1.3h0m0.6 1.4h0m0.1-4h0m0.6 4.9h0m0.3-3.5h0m2.9 1.5h0m0.2 0.6h0m0.2-0.9h0m0.8-0.7h0m0.3 2.7h0m0.4-1h0m0.4 1.1h0m0.1-2.2h0m1.3 2.5h0m0.2-1.9h0m0.3 1.9h0m0.6-5h0m0.9 1.4h0m0.1 2.8h0m1.6-1.8h0m0.3-2.2h0m0.1 3.2h0m2.1 0.5h0m0.1-4.4h0m2.3 5.7h0m-125.7 1.3h0m4.5 2.6h0m0.8 0h0m1.8-2.4h0m0 4.1h0m0.5-1.3h0m0.5-2.7h0m0 4.3h0m0.1-1.1h0m0-0.7h0m0.6-2.4h0m0 2.5h0m0.5 0.3h0m0-1.5h0m1.2-2.5h0m2 5.3h0m0.1-1.4h0m0.4-0.6h0m0.4-1.4h0m0.2 3.3h0m0.5-2.1h0m0.5-1.7h0m0.5 0.2h0m0.4 0.3h0m1.5-1.3h0m2 1.9h0m3.3-0.5h0m1.6-0.4h0m2.2 2.4h0m0.4-4h0m0.6 5.7h0m1.3-2.1h0m0.3-2.1h0m1.5-0.5h0m1.8 0.1h0m0.1 1.6h0m0.5-1.7h0m0.1 0.6h0m1.2 0.7h0m1.2 2.7h0m2.3-0.5h0m0.6-4.2h0m0.6 1.6h0m1.1-2h0m0.6 1.3h0m1.4 1.7h0m1.4 0.9h0m0.1-2.3h0m1.9 2.2h0m0.1 1h0m0.1-1.9h0m0.1-1.2h0m0.5 4.1h0m1-4.7h0m2 3.4h0m0.4-3h0m0.9 3.5h0m3-4.5h0m0 3.9h0m1-3.2h0m0.7 3.2h0m0.5 0.3h0m41.7-2h0m1-2.1h0m1.5 3.1h0m1.5 0.4h0m0.5 1h0m1.4-4.2h0m0 3h0m0.5-1.8h0m0.5 2.2h0m0-2.2h0m0.8 3h0m0.2-0.9h0m0.1-0.4h0m0.8-2.6h0m2.8 2.3h0m0.5-2.1h0m2.5-1.1h0m2.6 0.2h0m1.5 2.5h0m2 0.6h0m0.2-2.8h0m0.1 4.7h0m0.4-1.3h0m1.9-3.2h0m0.5 0.5h0m0.3 3.3h0m1.1-2.3h0m8.5 0.5h0m2.9-2.8h0m14.3 4.6h0m12-2.8h0m7.7 2.2h0m-166.7 3.7h0m3 1h0m1 1.8h0m2-2.5h0m0.1 2h0m0.5-3.3h0m1.6 1.8h0m0.7 1.6h0m0.9-0.8h0m1.2-3.4h0m0.5 1.9h0m1.9 1.3h0m1-1.8h0m2.9 3.3h0m1.5-0.3h0m3-1.5h0m2.4-1h0m2.3 0.1h0m0.6 0.1h0m1.6-1.2h0m0.7 4.1h0m0.2-0.1h0m0.9-0.4h0m0.5-0.3h0m0.4-4.4h0m0.2 3.2h0m1.5 1.1h0m3.6-0.3h0m0.3-2.6h0m0.1 1.4h0m0.2 2h0m0.9-2.4h0m0.1 2.7h0m0.4-4h0m0 0.6h0m0.5-0.2h0m1.2-1h0m1.1 2.1h0m0.5 0.2h0m1.1 1.7h0m0.7-1h0m1.5-2.3h0m1.6 2.2h0m0.1-0.9h0m0.3-1.6h0m0.8-0.1h0m3.7 0h0m2.8-0.2h0m0.4 2h0m0.2 1.9h0m36.1-0.6h0m1 0.5h0m0.2-1.3h0m1.3 0.7h0m2.4-0.4h0m0.9-2.1h0m2.9-0.3h0m0.2 2.5h0m0.1-1h0m1.3 0.5h0m0.8 1.5h0m0.2-1.5h0m1.3-1.8h0m0.2 1h0m1-0.8h0m1.3-1h0m1 5.1h0m0.8-5h0m0.8-0.2h0m0.1 4.8h0m1-4.5h0m0.1 4.7h0m1.6-0.5h0m0 0.5h0m1.7-2.5h0m3.5-0.8h0m0.9 2.8h0m0.4-4.6h0m1.8 4h0m0.2-0.8h0m0.2-2.6h0m0.1 2h0m0.7 3.2h0m0-5.8h0m34.5 4.3h0m5.8 0.3h0m7.6-2.2h0m0.2-1.4h0m-180.7 8.4h0m17.9 1h0m3-1.4h0m3 0.1h0m0.5 1.3h0m0.7-0.6h0m3.2-2h0m0.2 0.2h0m1.2 1.5h0m1.3-1.4h0m0.2 2.5h0m1.9-1.4h0m1.4-0.3h0m1.7-1.5h0m0.7-0.7h0m1.1 4.1h0m1.5-1.9h0m0.8 1h0m1.1-1.6h0m0.3 1.1h0m0.6-1.3h0m0.2 1h0m0-0.4h0m0.5 2.5h0m0.9-1.9h0m0.5-3.2h0m0.4 0.9h0m5.2-0.1h0m0.2-0.7h0m0.7 1.8h0m0.1-0.4h0m0.7 1.7h0m0.5-2.1h0m0.2 1.9h0m0-1.1h0m0.3 2.2h0m1.8 0.5h0m1.4 0h0m0-2.1h0m0.9 2.9h0m0.5-0.8h0m0.2-1.4h0m0.5 0.6h0m0.4-1.3h0m0.2 1.8h0m0.1 0h0m0.4-1.8h0m0.3-2.8h0m1.2 1.4h0m0.5 0.1h0m0.5-1.2h0m0.5 2.5h0m0.6 1.9h0m0.8 0h0m0.4 1.2h0m0.1-1.4h0m1-3h0m34.8 3.2h0m0.6 0.4h0m0.2-2.5h0m0.9-1.2h0m1.1-0.3h0m0.3 2.8h0m0.6-1.6h0m0.1 2.3h0m0.1 0.5h0m0.3-3.1h0m1.4 0.1h0m1.6 3.6h0m0.8-1.7h0m1.6 1.9h0m1.3-5.8h0m0.9 1.7h0m0.5-1.7h0m0.6 2.4h0m2.8-0.9h0m0.2-1.1h0m1.7 3.5h0m0.2 0.6h0m0.2 1.1h0m1.9-1.5h0m4.1-2.2h0m1.3 0.6h0m0.6-0.6h0m3 3.7h0m0.4-1.5h0m0.3-0.2h0m1.2-3.6h0m0.1 1.6h0m0.1 0.5h0m0.1 2.2h0m1.5 1h0m0.1-2.6h0m19.9-2.2h0m46 2.2h0m-186.9 3.1h0m4.4 2h0m2.9-0.2h0m0.5-1.3h0m3.4 2.5h0m0.1-3.1h0m0.3 3.2h0m2 1.4h0m0-2.3h0m0 3.4h0m2.1-2.9h0m0.1-0.8h0m0.9-1.3h0m1.1 4.8h0m3.1-2.9h0m0.4 2.7h0m1.9-4.6h0m2.4 0.6h0m0 0.2h0m0.1 3h0m0.3-3.1h0m1.6 1.7h0m0.4-3h0m0.5 4.2h0m2.1-3.9h0m0.1 3.9h0m1-1.7h0m0.2-0.5h0m1.3-0.7h0m0-0.4h0m0.1 4.1h0m3.2 0.5h0m0.4-1.7h0m0.5-2.8h0m0.9 1.6h0m0.3-1.9h0m0.3 0h0m1.3 1.1h0m0.3 1.8h0m0.7 0.8h0m1.4-2.1h0m2.3 0.1h0m0.4-2.4h0m1.5-0.1h0m0.1 2.6h0m0.7 0.1h0m0.1-0.3h0m0.1 1.4h0m0.2-3.1h0m0.4 3.6h0m0.8 0.7h0m1.2-4.2h0m0.5 1.5h0m1.2-0.1h0m0 0.2h0m0.1 3.3h0m0.1-4.4h0m0.9-0.2h0m0.2 3.7h0m2.4-1h0m0.7-0.2h0m31.5-2.1h0m0.1 4.3h0m2.5-3.7h0m0.1-2h0m0.1 3.8h0m0.3-0.5h0m0 0.1h0m0.3-1h0m1 1.9h0m0.4-4.2h0m0.1 1.2h0m0.4 2.9h0m1.3-3.6h0m0.2 0h0m0.6 4.2h0m0.2-0.8h0m0.4-1.1h0m0.1-0.1h0m0.7-1.8h0m1.9 1.6h0m0.1-0.9h0m0.4 2.4h0m0.2-0.5h0m0.1-2.7h0m0.5 3.8h0m4.9-1.5h0m0.2-1.6h0m0.2-0.3h0m0.9-1.3h0m0.3 3.6h0m1.1-1.2h0m2.9-0.3h0m2.1 1.2h0m0.5 0.9h0m0.3-2.8h0m0.1 0h0m0.7 0.5h0m3.9-2h0m0.7 3h0m1.5-1.3h0m0.8 1.9h0m10.5 1.4h0m1.7-3.7h0m3.2-0.4h0m3 3h0m-156.9 6.1h0m11.6 0.4h0m16.5-2.1h0m1.9 0.3h0m0.3 2.8h0m0.4-1.8h0m0 0.6h0m2.8 0.7h0m0-3.1h0m1.3 3.2h0m1.3-3h0m0.6 1.1h0m0-1.8h0m1.4 1.2h0m2.7 2h0m0.2-4h0m0.4 4.5h0m0.8 0.3h0m0.7-0.7h0m0.7-2.5h0m0.6 1.4h0m0.6-2.4h0m2.2 3.5h0m0.8-4h0m0.1 1.6h0m0.8-0.4h0m2.1-1.5h0m0.5 2.9h0m0.8-2.6h0m0.3 1.5h0m0.5 0.7h0m0.3-2.5h0m0.9 3h0m2.5-1h0m1.5-0.6h0m0.4 2.4h0m0.3-0.1h0m0.5-2.2h0m1-0.8h0m0.2 3.6h0m0.1-0.2h0m1.2-3.8h0m1.6 4.8h0m1.2-2.5h0m0.6 1.7h0m0-2.4h0m0.5 3.1h0m0.2-1.2h0m1.7-1.5h0m0.6 1h0m0.5 1.9h0m1.2-3.9h0m0.8 0.9h0m0.4-1.3h0m0.9 3.1h0m0.7 1.2h0m0.3-3.6h0m1 0.7h0m29.3 0.9h0m0.2 1.1h0m0.4-1.9h0m0.6 2.9h0m0.6-3.8h0m1.2-0.4h0m0.1 1.5h0m1.2 1.8h0m0.6-3.8h0m0.2 2.6h0m1.4 1.8h0m0.1-2.5h0m0.7 2.3h0m0.2-1.9h0m0.3-2.9h0m0.7 1.3h0m1-0.2h0m0.5 3.5h0m0.7 0.5h0m0.4-2.7h0m1.5 1.3h0m3.5-1.4h0m1.7 2.1h0m1.3 0.4h0m0-0.1h0m1-3h0m2.2 2.4h0m0.9 0h0m0.3 1.2h0m0.1-3.9h0m0.5-0.8h0m1.1 0.6h0m0.7 4.1h0m4.2-4.1h0m1.4 0.7h0m2.6 2.7h0m1.9-1.3h0m24.1-1.8h0m-141.3 5.1h0m1.4 1.6h0m5.8 3.3h0m0.1-4.9h0m0.3 1.9h0m3.1-0.9h0m0.3 3.2h0m0.4-4.7h0m4 3.8h0m0.1-1.7h0m1.1 0.9h0m2.4 0.3h0m1-1.6h0m0.5-1.9h0m2.2 0.7h0m0.8 3.2h0m0.8 0.6h0m1.2-3.7h0m0.7 3.6h0m0.4-1.3h0m0.1 0.9h0m1.3 1.1h0m0.2-4.8h0m2.1 4.9h0m0.7-5.1h0m0.5 3.7h0m0.1 0.6h0m0.5-2.5h0m0.5 0.8h0m1.6-2.7h0m1.2 3.3h0m0.2-1.1h0m0.1-0.9h0m2.9 0h0m0 3.3h0m1-1.5h0m2-2.6h0m0.8 3.6h0m1.1-3.4h0m1 1.6h0m0.7 1h0m0.5-2.9h0m0.1 3.5h0m0.7-3.6h0m0.2 3.7h0m0.3-2.6h0m1-0.2h0m0.5 0.1h0m1.9 2.7h0m2.1 0.6h0m0.6-3.5h0m28.9 0.6h0m0.4 0.4h0m0 2.2h0m3.1-1.7h0m0.7 1h0m3.1-2.8h0m0.6 3.2h0m1.8-1.6h0m0-1.3h0m1.1 0.2h0m1.8-1.6h0m0.3 1.8h0m0.3-0.4h0m0.4 0.5h0m0 0.7h0m0.8 0.3h0m0.2 0.5h0m0.9-0.6h0m0.4-1.8h0m0.2-0.7h0m0.6 4.5h0m0.2 1h0m0.8-0.1h0m0.3-2.4h0m0.1-3h0m0.4 4.2h0m0.2-0.2h0m0.3-3.5h0m4.8-0.2h0m3 1.2h0m0.6 2.3h0m0.4 1.8h0m0.2-1.5h0m0.2-2.8h0m1.5-1.2h0m0.7 4h0m1.7-2.5h0m1-0.7h0m5.7-0.6h0m3.7 0h0m1.9 3.4h0m22.6-1.6h0m27.6 0.4h0m-201.2 3.9h0m12.8 4.3h0m23.3-2.4h0m3.6 0.4h0m0.5-1.3h0m0.9-1h0m0.9 3.9h0m1.9 0.3h0m0.8-0.7h0m1.5 1.2h0m0.8-3.6h0m2.2 1h0m0.5-1.6h0m2-0.1h0m0.3-0.7h0m0.2-0.2h0m0.2 1.8h0m0.1-0.2h0m0.1 0.7h0m0.9-2.1h0m0.2 0.1h0m0.9-0.2h0m1 1h0m0.8 4.1h0m0.1-3.2h0m0 2h0m0.4-3.5h0m2.9 3.8h0m0.2-3.3h0m0.5 0.3h0m0.4 4.5h0m0.2-4.8h0m1.3-0.5h0m1.9 4.3h0m0-3.6h0m0.1-0.2h0m0.2-1.1h0m0.7 1.9h0m2.2-1h0m0.9-0.6h0m0.3 3.5h0m0.6-3.1h0m0.8 4.1h0m1 1.1h0m1.3-2.4h0m0.3-1.2h0m0.7-1.1h0m0.7 3.3h0m0.7-3.7h0m0 0.6h0m1.9 3.1h0m0.3-0.5h0m1.2-2.7h0m25.9 2.7h0m0.7-3.2h0m0.7 2.3h0m0.6 2.5h0m0.2-1.8h0m0.1-2.4h0m1.2 0.7h0m1.3 0.2h0m0.6-0.8h0m1.7 4h0m2.7-3.7h0m0.5-0.6h0m0.1 3h0m0.5-2h0m0.5 2.9h0m0 0.8h0m0.1-3.8h0m1.3-1.2h0m1.3 3.2h0m2.9 0.3h0m1-4h0m0.8 4.1h0m0.1-3h0m1 2.3h0m0 0.6h0m2.2-4.1h0m0.7 1.7h0m0.7 2.3h0m0.2-0.4h0m0.5-0.6h0m0.9-3.3h0m1.4 3.2h0m0 1.6h0m0.4 1h0m0.8-5h0m0.9 1.5h0m1.1-2.2h0m0.1 0.7h0m2.3-0.3h0m0.8 0h0m0.4 4.2h0m2.5-2.7h0m-142.4 8.9h0m31-4.8h0m6.4 4.4h0m3.4-2.5h0m3.3 1.8h0m2.6 1.9h0m2-3.5h0m0.2 0.8h0m0.2 0.3h0m0.5-2.3h0m0.4 2.1h0m0.3-1.3h0m0-1.5h0m2.5 0.2h0m0.7 3h0m0.5 1.5h0m1 0.8h0m0.5-0.5h0m1.1-4.1h0m2.2 3.2h0m0-2h0m0.2 1h0m0.7 0.6h0m1.1-2.4h0m0.1 0.8h0m1.6-2.5h0m0 4.7h0m1.6 0.8h0m0.2-0.6h0m0.1 0.5h0m1.1-0.3h0m0.8-3h0m1.6 3.2h0m0.9-3h0m0-0.2h0m1.9-0.9h0m0.3 2.8h0m2.4 0.9h0m1.1-2.7h0m0.7-1.2h0m0.8 4.9h0m2.4-1.9h0m0.4-3.5h0m0.5 4.3h0m0.5-2.7h0m22.7 0.7h0m1.1 1.5h0m0.1-1.9h0m0.6-2.2h0m1.3 2.7h0m0.5 1.9h0m1-1h0m0.3 1.3h0m0.4-4.5h0m1.5 3.9h0m0.2-0.9h0m0.4-0.9h0m0.6 1.8h0m0.3 0.2h0m0.6-4.6h0m1 5.7h0m0.9-2.7h0m1-0.4h0m1.4-1.8h0m0.3 2.8h0m0.2-3.1h0m0.2 3.9h0m0-2.1h0m0.2-0.3h0m1.6-0.9h0m2.4 2.1h0m1.9 1.1h0m6.2 0.5h0m0.4-1.2h0m0.1 1.1h0m2.6-1.3h0m0.5-3.4h0m0.1 2.4h0m0.9 2.3h0m0.5-3.6h0m1.1 2.8h0m0.1-2.2h0m1.2 1.5h0m1.6-1.6h0m1.4 2h0m1-3.3h0m0.1-0.4h0m18.8 2h0m11.9 1.4h0m22.4 2h0m-178.1 4.4h0m13.2-2.9h0m18.3 4.6h0m1-0.7h0m0.2-4.5h0m1.5 2.3h0m0.7-1.8h0m0.2 3h0m0.3 1.5h0m0.6-2.1h0m0.6-1.9h0m0.3 3.9h0m0.4-4h0m0.4 1.3h0m0 2.9h0m0.3-3.3h0m0.1 1.4h0m0.9 0.3h0m0.5 1.1h0m0.3-4.3h0m1.2 1.5h0m0.7 3.7h0m1-5.3h0m0.9 4.5h0m0.2-4.4h0m0.8 0.7h0m2 0.4h0m0.3 1.1h0m0.2-0.8h0m1 1.6h0m1.1 0.9h0m0.1-0.3h0m0.6 0.9h0m0.9-3.2h0m0 3.3h0m0.3-3.1h0m0.2 0.1h0m2.1-0.2h0m1.1 2.2h0m2.3-3.6h0m0.3 3h0m0.5 1.9h0m0.5-3h0m1 0.6h0m0.5 1.8h0m0-4.9h0m0.5 2.8h0m0.6-2.2h0m2.3 5.3h0m0.8-3.3h0m0.2 0.2h0m0.3 0.7h0m1-0.1h0m0.6-2.7h0m0.6 2.8h0m0.9-0.5h0m19.1-1.4h0m0-0.6h0m0.8-0.2h0m0.1 4.8h0m0.5-4.6h0m0.7 1.8h0m1 1.4h0m1.1-0.2h0m1.2 0.8h0m1.1-4.2h0m0.4 0.5h0m0.1 3.9h0m0.5-0.1h0m0.4 0.7h0m2.7-3.9h0m0 2.4h0m0.2-1.8h0m0.5 1.5h0m0.4 1.7h0m0-3.9h0m0.9 3.2h0m0.2-1.8h0m1.9 0h0m1.6-2.2h0m0.6 4.8h0m1.5-1.4h0m0.2-1.5h0m1-2.4h0m3.2 0.5h0m1 3h0m2.9-2.4h0m0.8 1.4h0m0.3-1.8h0m3.3-0.6h0m0.5 4.2h0m1.5 1.4h0m0.3-0.6h0m2.3-4.5h0m-117.1 7.3h0m29.1 1.6h0m0.6-3.7h0m2.8 3.1h0m1.6 1.8h0m0.5-3.9h0m0.6 4.5h0m0.1 0.2h0m0.1-4.1h0m1.9 4.1h0m0.2-0.9h0m0.4-4.8h0m0.3 3.9h0m0.4-2.2h0m1.2 3.2h0m0.6-4h0m0.1 3.5h0m0.1-1.4h0m0.7-0.5h0m1.2 0.5h0m0.1 2.5h0m0.1-5.3h0m0.4 3.9h0m0.1 1.6h0m0.1-4.9h0m3.1 0.4h0m2.5 3.9h0m1.4-0.5h0m0-3.8h0m0.3-0.4h0m0.4 5.5h0m0.9-5h0m0.5 4.6h0m0.1-2.3h0m0.6-2.1h0m0 2.9h0m1 0.2h0m1.4-2.2h0m0.2 1.6h0m0.4 1.4h0m0.3 0.5h0m0.2-0.2h0m0.9 0.1h0m0.6-5.4h0m0.2 4.7h0m0.7-3.7h0m1.1 4.7h0m0.4-5.3h0m0.9 1.8h0m1.8 1.4h0m17.2 0.7h0m1-0.9h0m0.5 1.3h0m0.5-0.9h0m0.6 1.7h0m0.2-0.6h0m0.3-0.1h0m4.9-1h0m0.9 1.7h0m0.4-0.2h0m1-1.1h0m0.8 1.3h0m0.3-5.1h0m3.1 4.4h0m0.5-1.7h0m0.6-2.7h0m0 5.2h0m0.1-0.5h0m0.3-3.1h0m1.2 3.6h0m0.5-2.1h0m2 1.3h0m0.9-4.8h0m0.8 0.8h0m1.1-0.1h0m0.7 1h0m1.6-1.7h0m0.9 2.8h0m0.3 1.9h0m0.3 0.6h0m1.4-4h0m0 2.6h0m0.2-2.7h0m0.3 3.1h0m0.6-1.4h0m0.5-2h0m0.5 4.4h0m0.9-1.5h0m-77.5 4h0m0.3 0.1h0m3.3 3.1h0m1-3.8h0m0.2 2.8h0m0.2-2.9h0m0.5-0.7h0m0.1 1.8h0m2.4-0.5h0m0.6-1.7h0m1.3 4.1h0m0.2-3.3h0m0.2 3.9h0m0.8-2.5h0m0.4 1.6h0m0-1.4h0m0.1 0.7h0m0.1 1.5h0m0.3-2.9h0m0.7 1h0m1.4-1.9h0m1.8 2.9h0m1.2-3h0m0.5 4.6h0m0-4.3h0m1.6 4.6h0m0.5-5.5h0m1.4 0.9h0m0.3 4.8h0m0.4-4.5h0m1.7 0.8h0m2.1-1.5h0m1.1 3.3h0m1-3.4h0m1.4 1.5h0m16.5 1.8h0m2.5-0.8h0m0.3-1h0m0.5 0.6h0m1.4-1.5h0m1.3 4.6h0m2.7-3h0m0.2-1.2h0m1.1-0.9h0m0.3 2.3h0m1.5-2.1h0m0.5 0.1h0m1.5 2.7h0m1.1-3.4h0m0.3 4.9h0m0.8-0.7h0m0.3-0.9h0m0.1-2.8h0m3.3 3.2h0m0.7 1.8h0m0.5-3.3h0m0.2-0.4h0m0.4 2.5h0m1.6-0.1h0m0.3-1.1h0m0.4-2.4h0m0.5 3.9h0m0.3-4.1h0m0 2.5h0m1 0.5h0m0.1 1.7h0m0.8-4.7h0m0.1 5.1h0m0.1-0.3h0m1.4-4.5h0m1.1 2.8h0m0.8-0.6h0m1.9-2.8h0m-72 8.7h0m0.5 0.4h0m0.9 0.8h0m0.5-1.3h0m4.5-2.3h0m0.8 3.7h0m4.1-1.9h0m0.2-0.8h0m0.2 3.8h0m2.4-4.5h0m0.5-0.7h0m0.5 5.4h0m0.3-0.7h0m1.4-2.3h0m0 0.4h0m0.1-0.4h0m0.5-2.3h0m0.6 0.5h0m1.2 2.8h0m0.5 1.1h0m0.3 1h0m0.4-2.7h0m2.1-1h0m1.8-1.1h0m1.5 1.5h0m0.9 0.9h0m13.4 1.9h0m0.4-0.8h0m0-2.7h0m1.2-1.8h0m1.7 4.2h0m2.3 0.3h0m1.7-2.7h0m2.5-1.2h0m0.1-0.5h0m0.5 4.6h0m1-4.8h0m0 4.5h0m1.3 1.2h0m1.2-0.4h0m2.1-2.7h0m0.3-0.3h0m0.6 2.3h0m2.8 0.1h0m2-1.4h0m0.1 2h0m0.4-1.9h0m0.9-0.7h0m0.5-1.5h0m0.5 0.6h0m0-1h0m0.1-0.5h0m3.3 1.7h0m0.7-0.7h0m-61.3 5.2h0m1.7 0h0m0.2 2.5h0m4 2.1h0m0.9 0.7h0m0.6-0.2h0m0.2-0.5h0m0.3 0.9h0m0.8-2.2h0m1.6-3.7h0m0.4 1.9h0m0.1 3.9h0m0.5-5.7h0m1.1 0.3h0m1.1 5.3h0m0.2-0.6h0m0.7 0.3h0m0.2-3h0m2.5-2.1h0m1.7 3.5h0m0.1-2.1h0m0 3.8h0m0.7-4.9h0m0.1 0.7h0m0.4 2.1h0m0.1-3.1h0m0.4 2.4h0m0.2-0.6h0m0.7-0.3h0m0 3.4h0m8.7-0.1h0m1.8-1.5h0m1.3-0.2h0m0.4-0.8h0m0.3 1.5h0m0.7 1.3h0m0.9-3.3h0m0.7-0.2h0m1.5-0.7h0m0.1 2.8h0m3.1-1.5h0m0.4 2.2h0m0.1-1.5h0m0.2-0.1h0m0.4 2.5h0m0.4 0.1h0m0.1-0.8h0m0.2-4.8h0m0.4 3.3h0m1.1 0.8h0m0.1-1.1h0m0.2-1.6h0m0.2-0.5h0m0.2 1.5h0m0 0h0m0.3-0.6h0m0.2 1.7h0m2.3-1.4h0m2.1-1h0m3-1.1h0m0 0.4h0m1.3-0.4h0m-49.3 6h0m3.5 0.5h0m1.2 1.6h0m0.8-2.2h0m1.8 5.7h0m0.2-3.1h0m1.1-2.3h0m0 4.5h0m0.9-0.5h0m2-3.1h0m0.4-0.9h0m0.2 5h0m0.8 0.2h0m0.3-3.9h0m2.6 3.4h0m1.3-2h0m0.1-1.9h0m1.1 3h0m2.3 0.5h0m6.2 0.7h0m0.4-2.8h0m0.3-1h0m1.4 0.4h0m0.1 3.9h0m0.4-3.5h0m0.9 3.2h0m0.4-1.9h0m0.8-2.1h0m0.7 2.2h0m2.4-1.7h0m0.2 0.8h0m-25.4 3.9h0m4.5 1.6h0m0.9 0.3h0m0.3-0.4h0m0.9-2.3h0m1.1 0.4h0m2.3 0.9h0m0.7 0h0m0.5-1h0m0.6-0.1h0m3.6 1.6h0m1.4 1.6h0m0-2.8h0m2.9 0.7h0m0.2-0.3h0m1.1 2h0m3.4-1.2h0m1.3-0.4h0" stroke="#d3d3d3" stroke-width="5.4" stroke-linecap="round" fill="none"/>
<path d="M1561.4 102.9h0m48.6 61.6h0m44.1 28h0m-26.5 13.8h0m0.9-4.3h0m19.3 4.6h0m21.2 5.1h0m1 4.8h0m-61.8 5.1h0m35.9-0.3h0m3.3 0.5h0m-16.2 7.6h0m11.6-0.2h0m3.7-2.8h0m18.4 0.9h0m-17.3 5.6h0m6.2 3.6h0m-14.7 2.8h0m3.7-0.5h0m4.6 2.4h0m10.6-3.3h0m0 3.3h0m9.2-3.3h0m-23.2 10.6h0m-13.2 0.8h0m5.5 4.8h0m7.4 0.4h0m9.2-0.9h0m22.6-0.9h0m3.2-0.9h0" stroke="#3d55a5" stroke-width="5.5" stroke-linecap="round" fill="none"/>
<path d="M1956.5 180.2h0m-185.9 6.3h0m15 32.6h0m-21.8 24.4h0m22 5.2h0m-43.7 5h0m26.8-2.8h0m3 4.1h0m3.7 0.9h0" stroke="#e02d26" stroke-width="5.5" stroke-linecap="round" fill="none"/>
<rect x="1430.1" y="23.3" width="558.9" height="378.7" fill="none" stroke="#000" stroke-width="3.7"/>
<path d="M1425.7 385.6H1430.1M1425.7 299.1H1430.1M1425.7 212.6H1430.1M1425.7 126.2H1430.1M1425.7 39.7H1430.1M1454.7 402V406.2M1582.3 402V406.2M1710 402V406.2M1837.7 402V406.2M1965.3 402V406.2" stroke="#000" stroke-width="3.9" fill="none"/>
<text x="1416.2" y="394.5" font-size="25" text-anchor="end">0</text>
<text x="1416.2" y="308" font-size="25" text-anchor="end">2</text>
<text x="1416.2" y="221.5" font-size="25" text-anchor="end">4</text>
<text x="1416.2" y="135.1" font-size="25" text-anchor="end">6</text>
<text x="1416.2" y="48.6" font-size="25" text-anchor="end">8</text>
<text x="1456.2" y="434" font-size="25" text-anchor="middle">−5.0</text>
<text x="1583.8" y="434" font-size="25" text-anchor="middle">−2.5</text>
<text x="1710.3" y="434" font-size="25" text-anchor="middle">0.0</text>
<text x="1838" y="434" font-size="25" text-anchor="middle">2.5</text>
<text x="1965.6" y="434" font-size="25" text-anchor="middle">5.0</text>
<text x="1713.6" y="472.6" font-size="25" text-anchor="middle">Log2 fold change</text>
<text transform="translate(1377.2 211.9) rotate(-90)" font-size="25" text-anchor="middle">−Log10 <tspan font-style="italic">p</tspan> value</text>
<text x="1681" y="508" font-size="25" text-anchor="middle">85</text>
<path d="M359 521V535.7H1681V521M1020.5 521V535.7" stroke="#000" stroke-width="3.8" fill="none" stroke-linejoin="miter"/>
<text x="1024.7" y="569.5" font-size="25" text-anchor="middle">Median days since first positive test for HIV-1 RNA</text>
<path d="M354.4 684V1063.7H923V684" stroke="#000" stroke-width="4.4" fill="none" stroke-linejoin="miter"/>
<path d="M343.5 1063.7H354.4M343.5 937.6H354.4M343.5 811.5H354.4M343.5 685.4H354.4M923 1063.7H934M923 969.1H934M923 874.5H934M923 779.9H934M923 685.3H934M414.3 1063.7V1075M563.9 1063.7V1075M713.5 1063.7V1075M863.2 1063.7V1075" stroke="#000" stroke-width="4.4" fill="none"/>
<text x="331.8" y="1072.3" font-size="25" text-anchor="end">0</text>
<text x="331.8" y="946.2" font-size="25" text-anchor="end">50</text>
<text x="331.8" y="820.1" font-size="25" text-anchor="end">100</text>
<text x="331.8" y="694" font-size="25" text-anchor="end">150</text>
<text x="945.8" y="1072.3" font-size="25">0</text>
<text x="945.8" y="977.7" font-size="25">2</text>
<text x="945.8" y="883.1" font-size="25">4</text>
<text x="945.8" y="788.5" font-size="25">6</text>
<text x="945.8" y="693.9" font-size="25">8</text>
<text x="414.3" y="1105.6" font-size="25" text-anchor="middle">0</text>
<text x="563.9" y="1105.6" font-size="25" text-anchor="middle">25</text>
<text x="713.5" y="1105.6" font-size="25" text-anchor="middle">50</text>
<text x="863.2" y="1105.6" font-size="25" text-anchor="middle">75</text>
<text x="638.5" y="1144.7" font-size="25" text-anchor="middle">Median days since first positive test for HIV-1 RNA</text>
<text transform="translate(266.2 874.2) rotate(-90)" font-size="25" text-anchor="middle">Number of genes</text>
<text transform="translate(982.2 873.6) rotate(90)" font-size="27.7" text-anchor="middle">Viral load (log10 copies/mL)</text>
<polyline points="354.4,1063.7 510.1,909.1 671.7,753.5 918.8,983" stroke="#4459a6" stroke-width="5.2" fill="none" stroke-linejoin="miter"/>
<polyline points="354.4,1063.7 510.1,914.4 671.7,1003.2 918.8,1041" stroke="#dd3a2a" stroke-width="5.6" fill="none" stroke-linejoin="miter"/>
<g opacity="0.82">
<path d="M511.9 771.3h0m-14.6 6.2h0m28.8 2.5h0m-43 6.1h0m57.2 2.5h0m-72 5h0m86.3 3.4h0m-98.4 8h0m112.6 0.8h0m-121.9 13h0m136.4-4.9h0m15.6 5.6h0m16.1 4h0m16 4.5h0m-192.7 5h0m208.5 0.1h0m16.3 3.6h0m16.5 1.4h0m16.6 0.1h0m16.6 0.9h0m16.6 0.9h0m16.7 0.5h0m16.6 0.2h0m16.6 0.3h0m16.6 0.3h0m16.6 0.2h0m16.7 0.3h0m16.6 0.4h0m16.6 0.4h0m16.6 0.4h0m16.6 0.4h0m16.7 0.4h0m-477.7 5.4h0m-3.3 16.3h0m-3.5 16.2h0m-3.1 16.3h0m-3.6 16.3h0m-1.1 16.5h0m-0.8 16.7h0m-0.5 16.6h0m-0.4 16.6h0m-0.6 16.6h0m-0.7 16.6h0m-1.3 16.6h0m-0.7 16.6h0m-0.7 16.6h0" stroke="#ec6262" stroke-width="7.2" stroke-linecap="round" fill="none"/>
</g>
<path d="M345 1199.3H391" stroke="#4459a6" stroke-width="5.4"/>
<path d="M576.5 1199.3H622.5" stroke="#dd3a2a" stroke-width="5.6"/>
<path d="M800.8 1199.3h0m17.2 0h0m16.7 0h0" stroke="#ea6863" stroke-width="7.2" stroke-linecap="round" fill="none"/>
<text x="400.5" y="1207" font-size="20.7">Downregulated</text>
<text x="400.5" y="1231.5" font-size="20.7">genes</text>
<text x="633" y="1207" font-size="20.7">Upregulated</text>
<text x="633" y="1231.5" font-size="20.7">genes</text>
<text x="849" y="1207" font-size="20.7">VL</text>
<defs><clipPath id="vl1"><circle cx="302.8" cy="1538.4" r="142.4"/></clipPath><clipPath id="vl2"><circle cx="443.3" cy="1538.4" r="142.4"/></clipPath><clipPath id="vl3"><circle cx="373" cy="1660" r="142.4"/></clipPath></defs>
<circle cx="302.8" cy="1538.4" r="142.4" fill="#a0a6d0"/>
<circle cx="443.3" cy="1538.4" r="142.4" fill="#bcaace"/>
<circle cx="373" cy="1660" r="142.4" fill="#a8c0e0"/>
<circle cx="443.3" cy="1538.4" r="142.4" fill="#8a7cb4" clip-path="url(#vl1)"/>
<circle cx="373" cy="1660" r="142.4" fill="#7894c6" clip-path="url(#vl1)"/>
<circle cx="373" cy="1660" r="142.4" fill="#8696c8" clip-path="url(#vl2)"/>
<g clip-path="url(#vl1)"><circle cx="373" cy="1660" r="142.4" fill="#707cb8" clip-path="url(#vl2)"/></g>
<text x="245" y="1507.7" font-size="25" text-anchor="middle">53</text>
<text x="378" y="1471.8" font-size="25" text-anchor="middle">15</text>
<text x="510.5" y="1507.7" font-size="25" text-anchor="middle">97</text>
<text x="375.5" y="1584.5" font-size="25" text-anchor="middle">3</text>
<text x="276.9" y="1640.8" font-size="25" text-anchor="middle">1</text>
<text x="473.3" y="1640.8" font-size="25" text-anchor="middle">7</text>
<text x="376.3" y="1738.1" font-size="25" text-anchor="middle">21</text>
<text x="369" y="1378.6" font-size="25" text-anchor="middle">Downregulated genes</text>
<defs><clipPath id="vr1"><circle cx="903.7" cy="1538.4" r="142.5"/></clipPath><clipPath id="vr2"><circle cx="1044.2" cy="1538.4" r="142.5"/></clipPath><clipPath id="vr3"><circle cx="974.2" cy="1660" r="142.5"/></clipPath></defs>
<circle cx="903.7" cy="1538.4" r="142.5" fill="#ec9492"/>
<circle cx="1044.2" cy="1538.4" r="142.5" fill="#c290aa"/>
<circle cx="974.2" cy="1660" r="142.5" fill="#e08abc"/>
<circle cx="1044.2" cy="1538.4" r="142.5" fill="#ba5a72" clip-path="url(#vr1)"/>
<circle cx="974.2" cy="1660" r="142.5" fill="#dc568c" clip-path="url(#vr1)"/>
<circle cx="974.2" cy="1660" r="142.5" fill="#c65298" clip-path="url(#vr2)"/>
<g clip-path="url(#vr1)"><circle cx="974.2" cy="1660" r="142.5" fill="#c03678" clip-path="url(#vr2)"/></g>
<text x="846" y="1508.5" font-size="25" text-anchor="middle">50</text>
<text x="976.7" y="1470.6" font-size="25" text-anchor="middle">8</text>
<text x="1113" y="1508.5" font-size="25" text-anchor="middle">14</text>
<text x="976.7" y="1584.5" font-size="25" text-anchor="middle">2</text>
<text x="878.9" y="1640.7" font-size="25" text-anchor="middle">1</text>
<text x="1074.6" y="1640.7" font-size="25" text-anchor="middle">0</text>
<text x="976.7" y="1738.1" font-size="25" text-anchor="middle">6</text>
<text x="974" y="1377.9" font-size="25" text-anchor="middle">Upregulated genes</text>
<text x="395" y="1829.5" font-size="25" text-anchor="middle">Median days since first positive test for HIV-1 RNA</text>
<text x="704" y="1829.5" font-size="25" xml:space="preserve">Median days since first positive test for  HIV-1 RNA</text>
<rect x="197.7" y="1852.9" width="100.4" height="25.6" fill="#a094bc" stroke="#111" stroke-width="2.2"/>
<text x="249.9" y="1875.9" font-size="23.5" text-anchor="middle">16</text>
<rect x="307.6" y="1852.9" width="100.5" height="25.6" fill="#b89cc4" stroke="#111" stroke-width="2.2"/>
<text x="355.8" y="1875.9" font-size="23.5" text-anchor="middle">43</text>
<rect x="415.4" y="1852.9" width="100.5" height="25.6" fill="#9cb0cc" stroke="#111" stroke-width="2.2"/>
<text x="466.6" y="1875.9" font-size="23.5" text-anchor="middle">85</text>
<rect x="814.6" y="1855.6" width="100.4" height="25.6" fill="#eb9470" stroke="#111" stroke-width="2.2"/>
<text x="866.3" y="1878.6" font-size="23.5" text-anchor="middle">16</text>
<rect x="924.5" y="1855.6" width="100.4" height="25.6" fill="#a49098" stroke="#111" stroke-width="2.2"/>
<text x="977.6" y="1878.6" font-size="23.5" text-anchor="middle">43</text>
<rect x="1037.1" y="1855.6" width="100.5" height="25.6" fill="#cc80b8" stroke="#111" stroke-width="2.2"/>
<text x="1088.4" y="1878.6" font-size="23.5" text-anchor="middle">85</text>
<rect x="1324.7" y="662.5" width="18.4" height="37" fill="#2b3a6e"/>
<rect x="1342.8" y="662.5" width="18.5" height="37" fill="#2158a3"/>
<rect x="1361" y="662.5" width="17.9" height="37" fill="#4690c4"/>
<rect x="1378.6" y="662.5" width="17.8" height="37" fill="#9cc8e0"/>
<rect x="1396.1" y="662.5" width="18.2" height="37" fill="#dce7f1"/>
<rect x="1414" y="662.5" width="95.4" height="37" fill="#ffffff"/>
<rect x="1509.1" y="662.5" width="18.1" height="37" fill="#fcf1ec"/>
<rect x="1526.9" y="662.5" width="18.4" height="37" fill="#f8dbce"/>
<rect x="1545" y="662.5" width="18.5" height="37" fill="#f28d72"/>
<rect x="1563.2" y="662.5" width="17.9" height="37" fill="#e2422f"/>
<rect x="1580.8" y="662.5" width="18.9" height="37" fill="#c9222a"/>
<path d="M1324 700V662.3H1599.6V700" stroke="#1a1a1a" stroke-width="1.4" fill="none"/>
<path d="M1323.5 700H1600.2" stroke="#000" stroke-width="2.6" fill="none"/>
<path d="M1342.3 700V712.6M1402.1 700V712.6M1461.5 700V712.6M1520.8 700V712.6M1580.4 700V712.6" stroke="#000" stroke-width="2.5" fill="none"/>
<text x="1342.8" y="732.8" font-size="16.5" text-anchor="middle">−2</text>
<text x="1402.1" y="732.8" font-size="16.5" text-anchor="middle">−1</text>
<text x="1461.5" y="732.8" font-size="16.5" text-anchor="middle">0</text>
<text x="1520.8" y="732.8" font-size="16.5" text-anchor="middle">1</text>
<text x="1580.4" y="732.8" font-size="16.5" text-anchor="middle">2</text>
<text x="1461.6" y="656.8" font-size="20.4" text-anchor="middle">NES score</text>
<rect x="1360.7" y="756.1" width="65.3" height="15.5" fill="#f28d72"/>
<rect x="1430" y="756.1" width="62.2" height="15.5" fill="#e2422f"/>
<rect x="1496.4" y="756.1" width="62" height="15.5" fill="#e2422f"/>
<text x="1562.2" y="769.3" font-size="12.45">NEG_REG_DNA_BINDING</text>
<rect x="1360.7" y="775.3" width="65.3" height="13.7" fill="#e2422f"/>
<rect x="1430" y="775.3" width="62.2" height="13.7" fill="#f28d72"/>
<rect x="1496.4" y="775.3" width="62" height="13.7" fill="#f28d72"/>
<text x="1562.2" y="786.5" font-size="12.45">NEG_REG_GLUCOSE_TRANSPORT</text>
<rect x="1360.7" y="792.5" width="65.3" height="13.7" fill="#f28d72"/>
<rect x="1430" y="792.5" width="62.2" height="13.7" fill="#e2422f"/>
<rect x="1496.4" y="792.5" width="62" height="13.7" fill="#e2422f"/>
<text x="1562.2" y="803.7" font-size="12.45">SERINE_FAMILY_AMINO_ACID_BIOSYNTHETIC_PROCESS</text>
<rect x="1360.7" y="809.7" width="65.3" height="13.7" fill="#f28d72"/>
<rect x="1430" y="809.7" width="62.2" height="13.7" fill="#e2422f"/>
<rect x="1496.4" y="809.7" width="62" height="13.7" fill="#e2422f"/>
<text x="1562.2" y="820.9" font-size="12.45">OXIDOREDUCTASE_ACTIVITY_ACTING_ON_NAD_OR_NADP_</text>
<rect x="1360.7" y="826.9" width="65.3" height="13.7" fill="#f28d72"/>
<rect x="1430" y="826.9" width="62.2" height="13.7" fill="#e2422f"/>
<rect x="1496.4" y="826.9" width="62" height="13.7" fill="#f28d72"/>
<text x="1562.2" y="838.1" font-size="12.45">DNA_BINDING</text>
<rect x="1360.7" y="844.1" width="65.3" height="13.7" fill="#f28d72"/>
<rect x="1430" y="844.1" width="62.2" height="13.7" fill="#e2422f"/>
<rect x="1496.4" y="844.1" width="62" height="13.7" fill="#f28d72"/>
<text x="1562.2" y="855.3" font-size="12.45">NOTCH_RECEPTOR_PROCESSING</text>
<rect x="1360.7" y="861.3" width="65.3" height="13.7" fill="#e2422f"/>
<rect x="1430" y="861.3" width="62.2" height="13.7" fill="#f28d72"/>
<rect x="1496.4" y="861.3" width="62" height="13.7" fill="#f28d72"/>
<text x="1562.2" y="872.5" font-size="12.45">NEG_REG_CALCIUM_ION_TRANSPORT_INTO_CYTOSOL</text>
<rect x="1360.7" y="878.5" width="65.3" height="13.7" fill="#e2422f"/>
<rect x="1430" y="878.5" width="62.2" height="13.7" fill="#f28d72"/>
<rect x="1496.4" y="878.5" width="62" height="13.7" fill="#f28d72"/>
<text x="1562.2" y="889.7" font-size="12.45">POS_REG_SEQUESTERING_OF_CALCIUM_ION</text>
<rect x="1360.7" y="895.7" width="65.3" height="13.7" fill="#f28d72"/>
<rect x="1430" y="895.7" width="62.2" height="13.7" fill="#f28d72"/>
<rect x="1496.4" y="895.7" width="62" height="13.7" fill="#e2422f"/>
<text x="1562.2" y="906.9" font-size="12.45">PRIMARY_LYSOSOME</text>
<rect x="1360.7" y="912.9" width="65.3" height="13.7" fill="#e2422f"/>
<rect x="1430" y="912.9" width="62.2" height="13.7" fill="#f28d72"/>
<rect x="1496.4" y="912.9" width="62" height="13.7" fill="#f28d72"/>
<text x="1562.2" y="924.1" font-size="12.45">NEG_REG_RECEPTOR_ACTIVITY</text>
<rect x="1360.7" y="930.1" width="65.3" height="13.7" fill="#f8dbce"/>
<rect x="1430" y="930.1" width="62.2" height="13.7" fill="#f28d72"/>
<rect x="1496.4" y="930.1" width="62" height="13.7" fill="#e2422f"/>
<text x="1562.2" y="941.3" font-size="12.45">MAST_CELL_MEDIATED_IMMUNITY</text>
<rect x="1360.7" y="947.3" width="65.3" height="13.7" fill="#f8dbce"/>
<rect x="1430" y="947.3" width="62.2" height="13.7" fill="#e2422f"/>
<rect x="1496.4" y="947.3" width="62" height="13.7" fill="#f28d72"/>
<text x="1562.2" y="958.5" font-size="12.45">DNA_DEPENDENT_DNA_REPLICATION</text>
<rect x="1360.7" y="964.5" width="65.3" height="13.7" fill="#f8dbce"/>
<rect x="1430" y="964.5" width="62.2" height="13.7" fill="#e2422f"/>
<rect x="1496.4" y="964.5" width="62" height="13.7" fill="#f28d72"/>
<text x="1562.2" y="975.7" font-size="12.45">HISTONE_EXCHANGE</text>
<rect x="1360.7" y="981.7" width="65.3" height="13.7" fill="#f28d72"/>
<rect x="1430" y="981.7" width="62.2" height="13.7" fill="#e2422f"/>
<rect x="1496.4" y="981.7" width="62" height="13.7" fill="#f28d72"/>
<text x="1562.2" y="992.9" font-size="12.45">PROTON_TRANSPORTING_ATPASE_COMPLEX_CATALYTIC_DOM</text>
<rect x="1360.7" y="998.9" width="65.3" height="13.7" fill="#e2422f"/>
<rect x="1430" y="998.9" width="62.2" height="13.7" fill="#f28d72"/>
<rect x="1496.4" y="998.9" width="62" height="13.7" fill="#f28d72"/>
<text x="1562.2" y="1010.1" font-size="12.45">NEG_REG_VIRAL_GENOME_REPLICATION</text>
<rect x="1360.7" y="1016.1" width="65.3" height="13.7" fill="#f8dbce"/>
<rect x="1430" y="1016.1" width="62.2" height="13.7" fill="#f28d72"/>
<rect x="1496.4" y="1016.1" width="62" height="13.7" fill="#e2422f"/>
<text x="1562.2" y="1027.3" font-size="12.45">NADP_BINDING</text>
<rect x="1360.7" y="1033.3" width="65.3" height="13.7" fill="#f8dbce"/>
<rect x="1430" y="1033.3" width="62.2" height="13.7" fill="#f28d72"/>
<rect x="1496.4" y="1033.3" width="62" height="13.7" fill="#e2422f"/>
<text x="1562.2" y="1044.5" font-size="12.45">FOLIC_ACID_METABOLISM</text>
<rect x="1360.7" y="1050.5" width="65.3" height="13.7" fill="#f28d72"/>
<rect x="1430" y="1050.5" width="62.2" height="13.7" fill="#f28d72"/>
<rect x="1496.4" y="1050.5" width="62" height="13.7" fill="#e2422f"/>
<text x="1562.2" y="1061.7" font-size="12.45">POS_REG_PHOSPHATASE_ACTIVITY</text>
<rect x="1360.7" y="1067.7" width="65.3" height="13.7" fill="#f28d72"/>
<rect x="1430" y="1067.7" width="62.2" height="13.7" fill="#f28d72"/>
<rect x="1496.4" y="1067.7" width="62" height="13.7" fill="#e2422f"/>
<text x="1562.2" y="1078.9" font-size="12.45">MAST_CELL_ACTIVATION</text>
<rect x="1360.7" y="1084.9" width="65.3" height="13.7" fill="#f28d72"/>
<rect x="1430" y="1084.9" width="62.2" height="13.7" fill="#e2422f"/>
<rect x="1496.4" y="1084.9" width="62" height="13.7" fill="#f8dbce"/>
<text x="1562.2" y="1096.1" font-size="12.45">NEG_REG_CELL_CYCLE_ARREST</text>
<rect x="1360.7" y="1102.1" width="65.3" height="13.7" fill="#e2422f"/>
<rect x="1430" y="1102.1" width="62.2" height="13.7" fill="#f28d72"/>
<rect x="1496.4" y="1102.1" width="62" height="13.7" fill="#f28d72"/>
<text x="1562.2" y="1113.3" font-size="12.45">INTERFERON_GAMMA_PRODUCTION</text>
<rect x="1360.7" y="1119.3" width="65.3" height="13.7" fill="#f8dbce"/>
<rect x="1430" y="1119.3" width="62.2" height="13.7" fill="#e2422f"/>
<rect x="1496.4" y="1119.3" width="62" height="13.7" fill="#f28d72"/>
<text x="1562.2" y="1130.5" font-size="12.45">DNA_REPLICATION_INDEPENDENT_NUCLEOSOME_ORGANIZATION</text>
<rect x="1360.7" y="1136.5" width="65.3" height="13.7" fill="#c9222a"/>
<rect x="1430" y="1136.5" width="62.2" height="13.7" fill="#f8dbce"/>
<rect x="1496.4" y="1136.5" width="62" height="13.7" fill="#f8dbce"/>
<text x="1562.2" y="1147.7" font-size="12.45">NEG_REG_VIRAL_ENTRY_INTO_HOST_CELL</text>
<rect x="1360.7" y="1153.7" width="65.3" height="13.7" fill="#f8dbce"/>
<rect x="1430" y="1153.7" width="62.2" height="13.7" fill="#e2422f"/>
<rect x="1496.4" y="1153.7" width="62" height="13.7" fill="#f28d72"/>
<text x="1562.2" y="1164.9" font-size="12.45">CENTROMERE_COMPLEX_ASSEMBLY</text>
<rect x="1360.7" y="1170.9" width="65.3" height="13.7" fill="#e2422f"/>
<rect x="1430" y="1170.9" width="62.2" height="13.7" fill="#f28d72"/>
<rect x="1496.4" y="1170.9" width="62" height="13.7" fill="#f28d72"/>
<text x="1562.2" y="1182.1" font-size="12.45">ENDOSOME_LUMEN</text>
<rect x="1360.7" y="1188.1" width="65.3" height="13.7" fill="#f8dbce"/>
<rect x="1430" y="1188.1" width="62.2" height="13.7" fill="#e2422f"/>
<rect x="1496.4" y="1188.1" width="62" height="13.7" fill="#f28d72"/>
<text x="1562.2" y="1199.3" font-size="12.45">DNA_REPLICATION_INITIATION</text>
<rect x="1360.7" y="1205.3" width="65.3" height="13.7" fill="#f8dbce"/>
<rect x="1430" y="1205.3" width="62.2" height="13.7" fill="#e2422f"/>
<rect x="1496.4" y="1205.3" width="62" height="13.7" fill="#f28d72"/>
<text x="1562.2" y="1216.5" font-size="12.45">NEG_REG_CHROMOSOME_SEGREGATION</text>
<rect x="1360.7" y="1222.5" width="65.3" height="13.7" fill="#e2422f"/>
<rect x="1430" y="1222.5" width="62.2" height="13.7" fill="#f28d72"/>
<rect x="1496.4" y="1222.5" width="62" height="13.7" fill="#f8dbce"/>
<text x="1562.2" y="1233.7" font-size="12.45">NITRIC_OXIDE_SYNTHASE_BINDING</text>
<rect x="1360.7" y="1239.7" width="65.3" height="13.7" fill="#e2422f"/>
<rect x="1430" y="1239.7" width="62.2" height="13.7" fill="#f28d72"/>
<rect x="1496.4" y="1239.7" width="62" height="13.7" fill="#f28d72"/>
<text x="1562.2" y="1250.9" font-size="12.45">NEG_REG_REGULATED_SECRETORY</text>
<rect x="1360.7" y="1256.9" width="65.3" height="13.7" fill="#e2422f"/>
<rect x="1430" y="1256.9" width="62.2" height="13.7" fill="#f28d72"/>
<rect x="1496.4" y="1256.9" width="62" height="13.7" fill="#f8dbce"/>
<text x="1562.2" y="1268.1" font-size="12.45">VIRAL_ENTRY_INTO_HOST_CELL</text>
<rect x="1360.7" y="1274.1" width="65.3" height="13.7" fill="#f28d72"/>
<rect x="1430" y="1274.1" width="62.2" height="13.7" fill="#e2422f"/>
<rect x="1496.4" y="1274.1" width="62" height="13.7" fill="#f8dbce"/>
<text x="1562.2" y="1285.3" font-size="12.45">CELLULAR_AMINE_METABOLISM</text>
<rect x="1360.7" y="1291.3" width="65.3" height="13.7" fill="#f8dbce"/>
<rect x="1430" y="1291.3" width="62.2" height="13.7" fill="#e2422f"/>
<rect x="1496.4" y="1291.3" width="62" height="13.7" fill="#f28d72"/>
<text x="1562.2" y="1302.5" font-size="12.45">DNA_REPLICATION_DEPENDENT_NUCLEOSOME_ORGANIZATION</text>
<rect x="1360.7" y="1308.5" width="65.3" height="13.7" fill="#f8dbce"/>
<rect x="1430" y="1308.5" width="62.2" height="13.7" fill="#e2422f"/>
<rect x="1496.4" y="1308.5" width="62" height="13.7" fill="#f28d72"/>
<text x="1562.2" y="1319.7" font-size="12.45">LYMPH_NODE_DEVELOPMENT</text>
<rect x="1360.7" y="1325.7" width="65.3" height="13.7" fill="#e2422f"/>
<rect x="1430" y="1325.7" width="62.2" height="13.7" fill="#f28d72"/>
<rect x="1496.4" y="1325.7" width="62" height="13.7" fill="#f8dbce"/>
<text x="1562.2" y="1336.9" font-size="12.45">NEG_REG_EXOCYTOSIS</text>
<rect x="1360.7" y="1342.9" width="65.3" height="13.7" fill="#e2422f"/>
<rect x="1430" y="1342.9" width="62.2" height="13.7" fill="#f28d72"/>
<rect x="1496.4" y="1342.9" width="62" height="13.7" fill="#f8dbce"/>
<text x="1562.2" y="1354.1" font-size="12.45">NATURAL_KILLER_CELL_MEDIATED_IMMUNITY</text>
<rect x="1360.7" y="1360.1" width="65.3" height="13.7" fill="#f28d72"/>
<rect x="1430" y="1360.1" width="62.2" height="13.7" fill="#f8dbce"/>
<rect x="1496.4" y="1360.1" width="62" height="13.7" fill="#e2422f"/>
<text x="1562.2" y="1371.3" font-size="12.45">NEG_REG_MYELOID_LEUKOCYTE_DIFFERENTIATION</text>
<rect x="1360.7" y="1377.3" width="65.3" height="13.7" fill="#f28d72"/>
<rect x="1430" y="1377.3" width="62.2" height="13.7" fill="#e2422f"/>
<rect x="1496.4" y="1377.3" width="62" height="13.7" fill="#f8dbce"/>
<text x="1562.2" y="1388.5" font-size="12.45">INSULIN_SECRETION_CELLULAR_RESPONSE_TO_GLUCOSE_METABOLISM</text>
<rect x="1360.7" y="1394.5" width="65.3" height="13.7" fill="#f28d72"/>
<rect x="1430" y="1394.5" width="62.2" height="13.7" fill="#f8dbce"/>
<rect x="1496.4" y="1394.5" width="62" height="13.7" fill="#e2422f"/>
<text x="1562.2" y="1405.7" font-size="12.45">NUCLEOSIDE_BISPHOSPHATE_METABOLISM</text>
<rect x="1360.7" y="1411.7" width="65.3" height="13.7" fill="#e2422f"/>
<rect x="1430" y="1411.7" width="62.2" height="13.7" fill="#f8dbce"/>
<rect x="1496.4" y="1411.7" width="62" height="13.7" fill="#f28d72"/>
<text x="1562.2" y="1422.9" font-size="12.45">CHANNEL_INHIBITOR_ACTIVITY</text>
<rect x="1360.7" y="1428.9" width="65.3" height="13.7" fill="#f8dbce"/>
<rect x="1430" y="1428.9" width="62.2" height="13.7" fill="#f28d72"/>
<rect x="1496.4" y="1428.9" width="62" height="13.7" fill="#e2422f"/>
<text x="1562.2" y="1440.1" font-size="12.45">TETRAHYDROFOLATE_METABOLISM</text>
<rect x="1360.7" y="1446.1" width="65.3" height="13.7" fill="#f8dbce"/>
<rect x="1430" y="1446.1" width="62.2" height="13.7" fill="#f8dbce"/>
<rect x="1496.4" y="1446.1" width="62" height="13.7" fill="#e2422f"/>
<text x="1562.2" y="1457.3" font-size="12.45">LYSOSOME_LOCALIZATION</text>
<rect x="1360.7" y="1463.3" width="65.3" height="13.7" fill="#e2422f"/>
<rect x="1430" y="1463.3" width="62.2" height="13.7" fill="#f28d72"/>
<rect x="1496.4" y="1463.3" width="62" height="13.7" fill="#f8dbce"/>
<text x="1562.2" y="1474.5" font-size="12.45">RHODOPSIN_MEDIATED_SIGNALING</text>
<rect x="1360.7" y="1480.5" width="65.3" height="13.7" fill="#e2422f"/>
<rect x="1430" y="1480.5" width="62.2" height="13.7" fill="#f28d72"/>
<rect x="1496.4" y="1480.5" width="62" height="13.7" fill="#f8dbce"/>
<text x="1562.2" y="1491.7" font-size="12.45">MACROPHAGE_ACTIVATION</text>
<rect x="1360.7" y="1497.7" width="65.3" height="13.7" fill="#f8dbce"/>
<rect x="1430" y="1497.7" width="62.2" height="13.7" fill="#e2422f"/>
<rect x="1496.4" y="1497.7" width="62" height="13.7" fill="#f28d72"/>
<text x="1562.2" y="1508.9" font-size="12.45">DNA_PACKAGING</text>
<rect x="1360.7" y="1514.9" width="65.3" height="13.7" fill="#e2422f"/>
<rect x="1430" y="1514.9" width="62.2" height="13.7" fill="#f8dbce"/>
<rect x="1496.4" y="1514.9" width="62" height="13.7" fill="#f8dbce"/>
<text x="1562.2" y="1526.1" font-size="12.45">N_ACETYLGLUCOSAMINE_METABOLISM</text>
<rect x="1360.7" y="1532.1" width="65.3" height="13.7" fill="#f8dbce"/>
<rect x="1430" y="1532.1" width="62.2" height="13.7" fill="#e2422f"/>
<rect x="1496.4" y="1532.1" width="62" height="13.7" fill="#f8dbce"/>
<text x="1562.2" y="1543.3" font-size="12.45">MYELOID_DENDRITIC_CELL_DIFFERENTIATION</text>
<rect x="1360.7" y="1549.3" width="65.3" height="13.7" fill="#f8dbce"/>
<rect x="1430" y="1549.3" width="62.2" height="13.7" fill="#e2422f"/>
<rect x="1496.4" y="1549.3" width="62" height="13.7" fill="#f28d72"/>
<text x="1562.2" y="1560.5" font-size="12.45">CHROMATIN_ASSEMBLY_OR_DISASSEMBLY</text>
<rect x="1360.7" y="1566.5" width="65.3" height="13.7" fill="#f8dbce"/>
<rect x="1430" y="1566.5" width="62.2" height="13.7" fill="#e2422f"/>
<rect x="1496.4" y="1566.5" width="62" height="13.7" fill="#f8dbce"/>
<text x="1562.2" y="1577.7" font-size="12.45">POS_REG_DNA_BINDING</text>
<rect x="1360.7" y="1583.7" width="65.3" height="13.7" fill="#f8dbce"/>
<rect x="1430" y="1583.7" width="62.2" height="13.7" fill="#e2422f"/>
<rect x="1496.4" y="1583.7" width="62" height="13.7" fill="#f8dbce"/>
<text x="1562.2" y="1594.9" font-size="12.45">RESPIRATORY_CHAIN</text>
<rect x="1360.7" y="1600.9" width="65.3" height="13.7" fill="#f8dbce"/>
<rect x="1430" y="1600.9" width="62.2" height="13.7" fill="#f8dbce"/>
<rect x="1496.4" y="1600.9" width="62" height="13.7" fill="#e2422f"/>
<text x="1562.2" y="1612.1" font-size="12.45">POS_REG_NOTCH_SIGNALING</text>
<rect x="1360.7" y="1618.1" width="65.3" height="13.7" fill="#f28d72"/>
<rect x="1430" y="1618.1" width="62.2" height="13.7" fill="#e2422f"/>
<rect x="1496.4" y="1618.1" width="62" height="13.7" fill="#fcf1ec"/>
<text x="1562.2" y="1629.3" font-size="12.45">NEG_REG_SIGNAL_TRANSDUCTION_BY_P53_CLASS_MEDIATOR</text>
<rect x="1360.7" y="1635.3" width="65.3" height="13.7" fill="#f28d72"/>
<rect x="1430" y="1635.3" width="62.2" height="13.7" fill="#e2422f"/>
<rect x="1496.4" y="1635.3" width="62" height="13.7" fill="#fcf1ec"/>
<text x="1562.2" y="1646.5" font-size="12.45">GLUTAMINE_FAMILY_AMINO_ACID_CATABOLIC_PROCESS</text>
<rect x="1360.7" y="1652.5" width="65.3" height="13.7" fill="#f8dbce"/>
<rect x="1430" y="1652.5" width="62.2" height="13.7" fill="#e2422f"/>
<rect x="1496.4" y="1652.5" width="62" height="13.7" fill="#f8dbce"/>
<text x="1562.2" y="1663.7" font-size="12.45">POS_REG_DNA_REPLICATION</text>
<rect x="1360.7" y="1669.7" width="65.3" height="13.7" fill="#f8dbce"/>
<rect x="1430" y="1669.7" width="62.2" height="13.7" fill="#e2422f"/>
<rect x="1496.4" y="1669.7" width="62" height="13.7" fill="#f8dbce"/>
<text x="1562.2" y="1680.9" font-size="12.45">PROTEIN_DNA_COMPLEX</text>
<rect x="1360.7" y="1686.9" width="65.3" height="13.7" fill="#f8dbce"/>
<rect x="1430" y="1686.9" width="62.2" height="13.7" fill="#fcf1ec"/>
<rect x="1496.4" y="1686.9" width="62" height="13.7" fill="#e2422f"/>
<text x="1562.2" y="1698.1" font-size="12.45">INTERLEUKIN_1_PRODUCTION</text>
<rect x="1360.7" y="1704.1" width="65.3" height="13.7" fill="#e2422f"/>
<rect x="1430" y="1704.1" width="62.2" height="13.7" fill="#fcf1ec"/>
<rect x="1496.4" y="1704.1" width="62" height="13.7" fill="#f8dbce"/>
<text x="1562.2" y="1715.3" font-size="12.45">INTERLEUKIN_8_SECRETION</text>
<rect x="1360.7" y="1721.3" width="65.3" height="13.7" fill="#f8dbce"/>
<rect x="1430" y="1721.3" width="62.2" height="13.7" fill="#e2422f"/>
<rect x="1496.4" y="1721.3" width="62" height="13.7" fill="#f8dbce"/>
<text x="1562.2" y="1732.5" font-size="12.45">DNA_PACKAGING_COMPLEX</text>
<rect x="1360.7" y="1738.5" width="65.3" height="13.7" fill="#f28d72"/>
<rect x="1496.4" y="1738.5" width="62" height="13.7" fill="#e2422f"/>
<text x="1562.2" y="1749.7" font-size="12.45">GLUCOSYLTRANSFERASE_ACTIVITY</text>
<rect x="1360.7" y="1755.7" width="65.3" height="13.7" fill="#9cc8e0"/>
<rect x="1430" y="1755.7" width="62.2" height="13.7" fill="#9cc8e0"/>
<rect x="1496.4" y="1755.7" width="62" height="13.7" fill="#2158a3"/>
<text x="1562.2" y="1766.9" font-size="12.45">POS_REG_POTASSIUM_ION_TRANSMEMBRANE_ACTIVITY</text>
<rect x="1360.7" y="1772.9" width="65.3" height="13.7" fill="#2158a3"/>
<rect x="1430" y="1772.9" width="62.2" height="13.7" fill="#9cc8e0"/>
<rect x="1496.4" y="1772.9" width="62" height="13.7" fill="#9cc8e0"/>
<text x="1562.2" y="1784.1" font-size="12.45">REVERSE_CHOLESTEROL_TRANSPORT</text>
<rect x="1360.7" y="1790.1" width="65.3" height="14.4" fill="#9cc8e0"/>
<rect x="1430" y="1790.1" width="62.2" height="14.4" fill="#4690c4"/>
<rect x="1496.4" y="1790.1" width="62" height="14.4" fill="#2158a3"/>
<text x="1562.2" y="1801.3" font-size="12.45">INSULIN_LIKE_GROWTH_FACTOR_RECEPTOR_SIGNALING</text>
<text x="1390.5" y="1827.8" font-size="20.9" text-anchor="middle">16</text>
<text x="1459" y="1827.8" font-size="20.9" text-anchor="middle">43</text>
<text x="1528.3" y="1827.8" font-size="20.9" text-anchor="middle">85</text>
<text x="1463" y="1860" font-size="20.9" text-anchor="middle">Median days since</text>
<text x="1459.6" y="1884.8" font-size="20.9" text-anchor="middle">first positive test for HIV-1 RNA</text>
<path d="M257.5 2024.4V2197.4M257.5 2268.2V2383.4M329.9 2024.4V2197.4M329.9 2268.2V2383.4M402.2 2024.4V2197.4M402.2 2268.2V2383.4M474.5 2024.4V2197.4M474.5 2268.2V2383.4M546.8 2024.4V2197.4M546.8 2268.2V2383.4M186.3 2034.5H611.4M186.3 2054.5H611.4M186.3 2074.5H611.4M186.3 2094.5H611.4M186.3 2114.5H611.4M186.3 2134.5H611.4M186.3 2154.5H611.4M186.3 2174.5H611.4M186.3 2194.5H611.4M186.3 2284.1H611.4M186.3 2303.4H611.4M186.3 2342H611.4M186.3 2361.3H611.4M186.3 2380.6H611.4" stroke="#d0d0d0" stroke-width="1" stroke-dasharray="2.2 2.2" fill="none"/>
<polygon points="185.2,2322.7 185.2,2294.1 186.3,2297.2 188.1,2299.5 191.7,2301.9 199.3,2304.9 212.7,2308.4 229.3,2310.3 256.8,2313.4 296.6,2316.9 329.9,2319.4 363.8,2321.9 373.9,2322.7 393.5,2323.5 440.5,2326.2 474.5,2329.3 509.2,2332 546.8,2335.4 567.1,2338.9 581.5,2343.5 587.3,2348.2 589.5,2355.5 590.1,2369 590.2,2378.7 590.2,2322.7" fill="#bdbdbd"/>
<path d="M186.3 2322.7H590.2" stroke="#c8c8c8" stroke-width="1" fill="none"/>
<path d="M373.9 2268.2V2383.4" stroke="#9a9a9a" stroke-width="1.1" stroke-dasharray="5 3" fill="none"/>
<text x="368.9" y="2329.7" font-size="8.3" text-anchor="middle">Zero cross at 26,096</text>
<text x="189.8" y="2276.8" font-size="8.3" fill="#e8442a">‘Sample’ (positively correlated)</text>
<text x="413.4" y="2377.2" font-size="8.3" fill="#4a50b8">‘Control’ (negatively correlated)</text>
<rect x="186.3" y="2254.6" width="2.9" height="13.6" fill="#c8202c"/>
<rect x="188.8" y="2254.6" width="23.8" height="13.6" fill="#e03a3a"/>
<rect x="212.2" y="2254.6" width="61.2" height="13.6" fill="#e65858"/>
<rect x="273.1" y="2254.6" width="28.2" height="13.6" fill="#ec6a80"/>
<rect x="300.9" y="2254.6" width="35.1" height="13.6" fill="#f08890"/>
<rect x="335.6" y="2254.6" width="58.6" height="13.6" fill="#f2c0d8"/>
<rect x="393.9" y="2254.6" width="52.1" height="13.6" fill="#d8d8ee"/>
<rect x="445.6" y="2254.6" width="31.5" height="13.6" fill="#c4bce0"/>
<rect x="476.7" y="2254.6" width="27.9" height="13.6" fill="#8482c0"/>
<rect x="504.2" y="2254.6" width="60.8" height="13.6" fill="#6a5ea8"/>
<rect x="564.5" y="2254.6" width="20.7" height="13.6" fill="#4848a0"/>
<rect x="584.8" y="2254.6" width="5.8" height="13.6" fill="#5838a0"/>
<path d="M187 2254.6V2268.2M189 2254.6V2268.2M191.3 2254.6V2268.2M195 2254.6V2268.2M301.5 2254.6V2268.2M321.3 2254.6V2268.2M342.6 2254.6V2268.2M354.4 2254.6V2268.2M406.8 2254.6V2268.2M423.2 2254.6V2268.2M429.7 2254.6V2268.2M439.2 2254.6V2268.2M440.3 2254.6V2268.2M510.6 2254.6V2268.2M579.8 2254.6V2268.2" stroke="#3a1030" stroke-opacity="0.14" stroke-width="1.1" fill="none"/>
<path d="M187 2199.2V2254.6M189 2199.2V2254.6M191.3 2199.2V2254.6M195 2199.2V2254.6M301.5 2199.2V2254.6M321.3 2199.2V2254.6M342.6 2199.2V2254.6M354.4 2199.2V2254.6M406.8 2199.2V2254.6M423.2 2199.2V2254.6M429.7 2199.2V2254.6M439.2 2199.2V2254.6M440.3 2199.2V2254.6M510.6 2199.2V2254.6M579.8 2199.2V2254.6" stroke="#111" stroke-width="1.15" fill="none"/>
<path d="M186.3 2174.5H611.4" stroke="#8a8a8a" stroke-width="1.4" fill="none"/>
<polyline points="186.5,2174.5 187,2174.5 187,2144.5 189,2144.5 189,2094.5 191.3,2094.5 191.3,2050.5 195,2050.5 195,2032.5 301.5,2084.7 301.5,2079.5 321.3,2089.1 321.3,2086.5 342.6,2096.7 342.6,2094.5 354.4,2100.1 354.4,2098.9 406.8,2124.3 406.8,2123.3 423.2,2131.3 423.2,2129.1 429.7,2132.1 429.7,2131.5 439.2,2135.9 439.2,2131.5 440.3,2131.9 440.3,2128.1 510.6,2162.3 510.6,2154.5 579.8,2188.3 579.8,2169.3 591.7,2174.5" stroke="#6abd45" stroke-width="3.6" fill="none" stroke-linejoin="miter" stroke-miterlimit="1.6"/>
<rect x="186.3" y="2024.4" width="425.1" height="359" fill="none" stroke="#a8a8a8" stroke-width="1.1"/>
<path d="M186.3 2197.4H611.4M186.3 2268.2H611.4" stroke="#a8a8a8" stroke-width="1.6" fill="none"/>
<path d="M186.3 2254.6H611.4" stroke="#d2d2d2" stroke-width="1.6" fill="none"/>
<path d="M183.3 2034.5H186.3M183.3 2054.5H186.3M183.3 2074.5H186.3M183.3 2094.5H186.3M183.3 2114.5H186.3M183.3 2134.5H186.3M183.3 2154.5H186.3M183.3 2174.5H186.3M183.3 2194.5H186.3M183.3 2284.1H186.3M183.3 2303.4H186.3M183.3 2322.7H186.3M183.3 2342H186.3M183.3 2361.3H186.3M183.3 2380.6H186.3M185.2 2383.4V2386.4M257.5 2383.4V2386.4M329.9 2383.4V2386.4M402.2 2383.4V2386.4M474.5 2383.4V2386.4M546.8 2383.4V2386.4" stroke="#666" stroke-width="1" fill="none"/>
<text x="180.8" y="2038.9" font-size="12.3" text-anchor="end">0.7</text>
<text x="180.8" y="2058.9" font-size="12.3" text-anchor="end">0.6</text>
<text x="180.8" y="2078.9" font-size="12.3" text-anchor="end">0.5</text>
<text x="180.8" y="2098.9" font-size="12.3" text-anchor="end">0.4</text>
<text x="180.8" y="2118.9" font-size="12.3" text-anchor="end">0.3</text>
<text x="180.8" y="2138.9" font-size="12.3" text-anchor="end">0.2</text>
<text x="180.8" y="2158.9" font-size="12.3" text-anchor="end">0.1</text>
<text x="180.8" y="2178.9" font-size="12.3" text-anchor="end">0.0</text>
<text x="180.8" y="2198.9" font-size="12.3" text-anchor="end">−0.1</text>
<text x="180.8" y="2288.5" font-size="12.3" text-anchor="end">1.0</text>
<text x="180.8" y="2307.8" font-size="12.3" text-anchor="end">0.5</text>
<text x="180.8" y="2327.1" font-size="12.3" text-anchor="end">0.0</text>
<text x="180.8" y="2346.4" font-size="12.3" text-anchor="end">−0.5</text>
<text x="180.8" y="2365.7" font-size="12.3" text-anchor="end">−1.0</text>
<text x="180.8" y="2385" font-size="12.3" text-anchor="end">−1.5</text>
<text x="185.2" y="2399.2" font-size="12.3" text-anchor="middle">0</text>
<text x="257.5" y="2399.2" font-size="12.3" text-anchor="middle">10,000</text>
<text x="329.9" y="2399.2" font-size="12.3" text-anchor="middle">20,000</text>
<text x="402.2" y="2399.2" font-size="12.3" text-anchor="middle">30,000</text>
<text x="474.5" y="2399.2" font-size="12.3" text-anchor="middle">40,000</text>
<text x="546.8" y="2399.2" font-size="12.3" text-anchor="middle">50,000</text>
<text x="398.9" y="2415.6" font-size="12.3" text-anchor="middle">Rank in ordered dataset</text>
<text transform="translate(144.5 2110.9) rotate(-90)" font-size="12.4" text-anchor="middle">Enrichment score (ES)</text>
<text transform="translate(144.5 2303) rotate(-90)" font-size="12.4" text-anchor="middle">Ranked list metric (Signal2Noise)</text>
<text x="398.9" y="1976.9" font-size="16.5" text-anchor="middle">Enrichment plot:</text>
<text x="398.9" y="1997" font-size="16.5" text-anchor="middle">GO_NEGATIVE_REGULATION_OF_VIRAL_ENTRY_INTO_</text>
<text x="398.9" y="2017.2" font-size="16.5" text-anchor="middle">HOST_CELL</text>
<rect x="202.7" y="2423.5" width="344.1" height="21.8" fill="#fff" stroke="#7a7a7a" stroke-width="1.1"/>
<path d="M205.5 2434.4H221" stroke="#6abd45" stroke-width="2.6"/>
<text x="224.7" y="2438" font-size="12.3">Enrichment profile</text>
<path d="M332 2434.4H346.3" stroke="#333" stroke-width="1.3"/>
<text x="350.2" y="2438" font-size="12.3">Hits</text>
<path d="M377.2 2430.2H391.4M401.5 2434.4H415.7" stroke="#cfcfcf" stroke-width="1.3"/>
<text x="419" y="2438" font-size="12.3">Ranking metric scores</text>
<path d="M785.6 2024.6V2197.3M785.6 2269.2V2383.6M858.6 2024.6V2197.3M858.6 2269.2V2383.6M931.7 2024.6V2197.3M931.7 2269.2V2383.6M1004.8 2024.6V2197.3M1004.8 2269.2V2383.6M1077.8 2024.6V2197.3M1077.8 2269.2V2383.6M713.3 2040.1H1142.7M713.3 2069.8H1142.7M713.3 2099.5H1142.7M713.3 2129.1H1142.7M713.3 2158.8H1142.7M713.3 2188.5H1142.7M713.3 2284.6H1142.7M713.3 2304H1142.7M713.3 2342.8H1142.7M713.3 2362.2H1142.7M713.3 2381.6H1142.7" stroke="#d0d0d0" stroke-width="1" stroke-dasharray="2.2 2.2" fill="none"/>
<polygon points="712.5,2323.4 712.5,2294.7 713.6,2297.8 715.5,2300.1 719.1,2302.4 726.8,2305.6 740.3,2309 757.1,2311 784.9,2314.1 825,2317.6 858.6,2320.1 893,2322.6 903.2,2323.4 922.9,2324.2 970.4,2326.9 1004.8,2330 1039.8,2332.7 1077.8,2336.2 1098.3,2339.7 1112.9,2344.4 1118.7,2349 1120.9,2356.4 1121.6,2370 1121.6,2379.7 1121.6,2323.4" fill="#bdbdbd"/>
<path d="M713.3 2323.4H1121.6" stroke="#c8c8c8" stroke-width="1" fill="none"/>
<path d="M903.2 2269.2V2383.6" stroke="#9a9a9a" stroke-width="1.1" stroke-dasharray="5 3" fill="none"/>
<text x="898.2" y="2330.4" font-size="8.3" text-anchor="middle">Zero cross at 26,096</text>
<text x="716.8" y="2277.8" font-size="8.3" fill="#e8442a">‘Sample’ (positively correlated)</text>
<text x="941.5" y="2377.4" font-size="8.3" fill="#4a50b8">‘Control’ (negatively correlated)</text>
<rect x="713.3" y="2255.2" width="3.3" height="14" fill="#c8202c"/>
<rect x="716.2" y="2255.2" width="24.1" height="14" fill="#e03a3a"/>
<rect x="739.9" y="2255.2" width="61.8" height="14" fill="#e65858"/>
<rect x="801.3" y="2255.2" width="28.5" height="14" fill="#ec6a80"/>
<rect x="829.4" y="2255.2" width="35.5" height="14" fill="#f08890"/>
<rect x="864.5" y="2255.2" width="59.2" height="14" fill="#f2c0d8"/>
<rect x="923.3" y="2255.2" width="52.6" height="14" fill="#d8d8ee"/>
<rect x="975.5" y="2255.2" width="31.8" height="14" fill="#c4bce0"/>
<rect x="1006.9" y="2255.2" width="28.2" height="14" fill="#8482c0"/>
<rect x="1034.7" y="2255.2" width="61.4" height="14" fill="#6a5ea8"/>
<rect x="1095.7" y="2255.2" width="20.9" height="14" fill="#4848a0"/>
<rect x="1116.2" y="2255.2" width="5.9" height="14" fill="#5838a0"/>
<path d="M714.3 2255.2V2269.2M717 2255.2V2269.2M725.4 2255.2V2269.2M726.2 2255.2V2269.2M727 2255.2V2269.2M727.8 2255.2V2269.2M728.6 2255.2V2269.2M729.4 2255.2V2269.2M730.2 2255.2V2269.2M732.5 2255.2V2269.2M734.7 2255.2V2269.2M738.4 2255.2V2269.2M739.2 2255.2V2269.2M739.7 2255.2V2269.2M743.1 2255.2V2269.2M744.4 2255.2V2269.2M745.7 2255.2V2269.2M747.7 2255.2V2269.2M748.5 2255.2V2269.2M749.3 2255.2V2269.2M750.3 2255.2V2269.2M753 2255.2V2269.2M760.3 2255.2V2269.2M761.6 2255.2V2269.2M764.9 2255.2V2269.2M776.8 2255.2V2269.2M783.5 2255.2V2269.2M786.1 2255.2V2269.2M798 2255.2V2269.2M823.9 2255.2V2269.2M825 2255.2V2269.2M825.9 2255.2V2269.2M828.5 2255.2V2269.2M832.5 2255.2V2269.2M837.8 2255.2V2269.2M839 2255.2V2269.2M840.4 2255.2V2269.2M841.8 2255.2V2269.2M848.4 2255.2V2269.2M851.7 2255.2V2269.2M855.7 2255.2V2269.2M858.9 2255.2V2269.2M861.9 2255.2V2269.2M871.6 2255.2V2269.2M875.6 2255.2V2269.2M878.2 2255.2V2269.2M886.8 2255.2V2269.2M888.1 2255.2V2269.2M894.1 2255.2V2269.2M896.1 2255.2V2269.2M900.1 2255.2V2269.2M929.2 2255.2V2269.2M936.8 2255.2V2269.2M938 2255.2V2269.2M939 2255.2V2269.2M940 2255.2V2269.2M962.1 2255.2V2269.2M965.3 2255.2V2269.2M974.8 2255.2V2269.2M992.8 2255.2V2269.2M1013.4 2255.2V2269.2M1017.6 2255.2V2269.2M1026.4 2255.2V2269.2M1033.4 2255.2V2269.2M1038.1 2255.2V2269.2M1044.5 2255.2V2269.2M1059.7 2255.2V2269.2M1061.9 2255.2V2269.2M1075.5 2255.2V2269.2M1093 2255.2V2269.2M1095.2 2255.2V2269.2" stroke="#3a1030" stroke-opacity="0.14" stroke-width="1.1" fill="none"/>
<path d="M714.3 2199.9V2255.2M717 2199.9V2255.2M725.4 2199.9V2255.2M726.2 2199.9V2255.2M727 2199.9V2255.2M727.8 2199.9V2255.2M728.6 2199.9V2255.2M729.4 2199.9V2255.2M730.2 2199.9V2255.2M732.5 2199.9V2255.2M734.7 2199.9V2255.2M738.4 2199.9V2255.2M739.2 2199.9V2255.2M739.7 2199.9V2255.2M743.1 2199.9V2255.2M744.4 2199.9V2255.2M745.7 2199.9V2255.2M747.7 2199.9V2255.2M748.5 2199.9V2255.2M749.3 2199.9V2255.2M750.3 2199.9V2255.2M753 2199.9V2255.2M760.3 2199.9V2255.2M761.6 2199.9V2255.2M764.9 2199.9V2255.2M776.8 2199.9V2255.2M783.5 2199.9V2255.2M786.1 2199.9V2255.2M798 2199.9V2255.2M823.9 2199.9V2255.2M825 2199.9V2255.2M825.9 2199.9V2255.2M828.5 2199.9V2255.2M832.5 2199.9V2255.2M837.8 2199.9V2255.2M839 2199.9V2255.2M840.4 2199.9V2255.2M841.8 2199.9V2255.2M848.4 2199.9V2255.2M851.7 2199.9V2255.2M855.7 2199.9V2255.2M858.9 2199.9V2255.2M861.9 2199.9V2255.2M871.6 2199.9V2255.2M875.6 2199.9V2255.2M878.2 2199.9V2255.2M886.8 2199.9V2255.2M888.1 2199.9V2255.2M894.1 2199.9V2255.2M896.1 2199.9V2255.2M900.1 2199.9V2255.2M929.2 2199.9V2255.2M936.8 2199.9V2255.2M938 2199.9V2255.2M939 2199.9V2255.2M940 2199.9V2255.2M962.1 2199.9V2255.2M965.3 2199.9V2255.2M974.8 2199.9V2255.2M992.8 2199.9V2255.2M1013.4 2199.9V2255.2M1017.6 2199.9V2255.2M1026.4 2199.9V2255.2M1033.4 2199.9V2255.2M1038.1 2199.9V2255.2M1044.5 2199.9V2255.2M1059.7 2199.9V2255.2M1061.9 2199.9V2255.2M1075.5 2199.9V2255.2M1093 2199.9V2255.2M1095.2 2199.9V2255.2" stroke="#111" stroke-width="1.15" fill="none"/>
<path d="M713.3 2188.5H1142.7" stroke="#8a8a8a" stroke-width="1.4" fill="none"/>
<polyline points="713.9,2188.5 714.6,2179 717.2,2162.4 725.2,2167.1 726.5,2153.8 728.5,2141.9 731.1,2130 733.8,2111.3 738.4,2104.8 739.7,2087.6 743.7,2083.4 746.4,2074.2 750.3,2060.9 754.3,2059.7 759.6,2063.8 762.3,2046.6 765.6,2035.9 776.2,2043.7 778.2,2037.7 783.5,2041.3 786.8,2032.7 798.7,2040.1 806,2044 821.9,2054.9 825.9,2053.8 836.5,2055.8 840.4,2054.3 848.4,2058.5 863,2060.3 872.2,2064.4 878.9,2067.1 888.1,2073 901.4,2081.1 928.8,2099.5 962.1,2122 966.9,2120.5 976.4,2126.8 992.2,2138 1011.2,2150.8 1017.6,2151.7 1030.2,2157 1042.9,2158.8 1058.7,2167.4 1061.9,2162.7 1074.6,2170.4 1077.8,2167.4 1092,2178.4 1096.1,2168.9 1122.1,2188.5" stroke="#6abd45" stroke-width="3.6" fill="none" stroke-linejoin="miter" stroke-miterlimit="1.6"/>
<rect x="713.3" y="2024.6" width="429.4" height="359" fill="none" stroke="#a8a8a8" stroke-width="1.1"/>
<path d="M713.3 2197.3H1142.7M713.3 2269.2H1142.7" stroke="#a8a8a8" stroke-width="1.6" fill="none"/>
<path d="M713.3 2255.2H1142.7" stroke="#d2d2d2" stroke-width="1.6" fill="none"/>
<path d="M710.3 2040.1H713.3M710.3 2069.8H713.3M710.3 2099.5H713.3M710.3 2129.1H713.3M710.3 2158.8H713.3M710.3 2188.5H713.3M710.3 2284.6H713.3M710.3 2304H713.3M710.3 2323.4H713.3M710.3 2342.8H713.3M710.3 2362.2H713.3M710.3 2381.6H713.3M712.5 2383.6V2386.6M785.6 2383.6V2386.6M858.6 2383.6V2386.6M931.7 2383.6V2386.6M1004.8 2383.6V2386.6M1077.8 2383.6V2386.6" stroke="#666" stroke-width="1" fill="none"/>
<text x="707.8" y="2044.5" font-size="12.3" text-anchor="end">0.5</text>
<text x="707.8" y="2074.2" font-size="12.3" text-anchor="end">0.4</text>
<text x="707.8" y="2103.9" font-size="12.3" text-anchor="end">0.3</text>
<text x="707.8" y="2133.5" font-size="12.3" text-anchor="end">0.2</text>
<text x="707.8" y="2163.2" font-size="12.3" text-anchor="end">0.1</text>
<text x="707.8" y="2192.9" font-size="12.3" text-anchor="end">0.0</text>
<text x="707.8" y="2289" font-size="12.3" text-anchor="end">1.0</text>
<text x="707.8" y="2308.4" font-size="12.3" text-anchor="end">0.5</text>
<text x="707.8" y="2327.8" font-size="12.3" text-anchor="end">0.0</text>
<text x="707.8" y="2347.2" font-size="12.3" text-anchor="end">−0.5</text>
<text x="707.8" y="2366.6" font-size="12.3" text-anchor="end">−1.0</text>
<text x="707.8" y="2386" font-size="12.3" text-anchor="end">−1.5</text>
<text x="712.5" y="2399.2" font-size="12.3" text-anchor="middle">0</text>
<text x="785.6" y="2399.2" font-size="12.3" text-anchor="middle">10,000</text>
<text x="858.6" y="2399.2" font-size="12.3" text-anchor="middle">20,000</text>
<text x="931.7" y="2399.2" font-size="12.3" text-anchor="middle">30,000</text>
<text x="1004.8" y="2399.2" font-size="12.3" text-anchor="middle">40,000</text>
<text x="1077.8" y="2399.2" font-size="12.3" text-anchor="middle">50,000</text>
<text x="928" y="2415.6" font-size="12.3" text-anchor="middle">Rank in ordered dataset</text>
<text transform="translate(673 2110.9) rotate(-90)" font-size="12.4" text-anchor="middle">Enrichment score (ES)</text>
<text transform="translate(673 2303) rotate(-90)" font-size="12.4" text-anchor="middle">Ranked list metric (Signal2Noise)</text>
<text x="928" y="1977.4" font-size="16.5" text-anchor="middle">Enrichment plot:</text>
<text x="928" y="1997" font-size="16.5" text-anchor="middle">GO_REGULATION_OF_INTERFERON_GAMMA_PRODUCT</text>
<text x="928" y="2016.7" font-size="16.5" text-anchor="middle">ION</text>
<rect x="730.2" y="2424.2" width="346" height="22.1" fill="#fff" stroke="#7a7a7a" stroke-width="1.1"/>
<path d="M733 2435.2H748.5" stroke="#6abd45" stroke-width="2.6"/>
<text x="752.2" y="2438.8" font-size="12.3">Enrichment profile</text>
<path d="M859.5 2435.2H873.8" stroke="#333" stroke-width="1.3"/>
<text x="877.7" y="2438.8" font-size="12.3">Hits</text>
<path d="M904.7 2431.1H918.9M929 2435.2H943.2" stroke="#cfcfcf" stroke-width="1.3"/>
<text x="946.5" y="2438.8" font-size="12.3">Ranking metric scores</text>
<path d="M1322 2006.3V2189.2M1322 2263.6V2386.1M1394.1 2006.3V2189.2M1394.1 2263.6V2386.1M1466.1 2006.3V2189.2M1466.1 2263.6V2386.1M1538.2 2006.3V2189.2M1538.2 2263.6V2386.1M1610.3 2006.3V2189.2M1610.3 2263.6V2386.1M1250.5 2022.8H1674.3M1250.5 2045H1674.3M1250.5 2067.2H1674.3M1250.5 2089.4H1674.3M1250.5 2111.6H1674.3M1250.5 2133.8H1674.3M1250.5 2156H1674.3M1250.5 2178.2H1674.3M1250.5 2281.4H1674.3M1250.5 2301.9H1674.3M1250.5 2342.9H1674.3M1250.5 2363.4H1674.3M1250.5 2383.9H1674.3" stroke="#d0d0d0" stroke-width="1" stroke-dasharray="2.2 2.2" fill="none"/>
<polygon points="1249.9,2322.4 1249.9,2292.1 1251,2295.3 1252.8,2297.8 1256.4,2300.3 1264,2303.5 1277.3,2307.2 1293.9,2309.3 1321.3,2312.6 1360.9,2316.2 1394.1,2318.9 1427.9,2321.6 1438,2322.4 1457.5,2323.2 1504.3,2326.1 1538.2,2329.4 1572.8,2332.2 1610.3,2335.9 1630.5,2339.6 1644.9,2344.5 1650.6,2349.5 1652.8,2357.2 1653.4,2371.6 1653.5,2381.8 1653.5,2322.4" fill="#bdbdbd"/>
<path d="M1250.5 2322.4H1653.5" stroke="#c8c8c8" stroke-width="1" fill="none"/>
<path d="M1438 2263.6V2386.1" stroke="#9a9a9a" stroke-width="1.1" stroke-dasharray="5 3" fill="none"/>
<text x="1433" y="2329.4" font-size="8.3" text-anchor="middle">Zero cross at 26,096</text>
<text x="1254" y="2272.2" font-size="8.3" fill="#e8442a">‘Sample’ (positively correlated)</text>
<text x="1477" y="2379.9" font-size="8.3" fill="#4a50b8">‘Control’ (negatively correlated)</text>
<rect x="1250.5" y="2249.7" width="3.4" height="13.9" fill="#c8202c"/>
<rect x="1253.5" y="2249.7" width="23.8" height="13.9" fill="#e03a3a"/>
<rect x="1276.9" y="2249.7" width="61" height="13.9" fill="#e65858"/>
<rect x="1337.5" y="2249.7" width="28.1" height="13.9" fill="#ec6a80"/>
<rect x="1365.2" y="2249.7" width="35" height="13.9" fill="#f08890"/>
<rect x="1399.8" y="2249.7" width="58.4" height="13.9" fill="#f2c0d8"/>
<rect x="1457.8" y="2249.7" width="51.9" height="13.9" fill="#d8d8ee"/>
<rect x="1509.4" y="2249.7" width="31.4" height="13.9" fill="#c4bce0"/>
<rect x="1540.4" y="2249.7" width="27.8" height="13.9" fill="#8482c0"/>
<rect x="1567.8" y="2249.7" width="60.6" height="13.9" fill="#6a5ea8"/>
<rect x="1627.9" y="2249.7" width="20.6" height="13.9" fill="#4848a0"/>
<rect x="1648.1" y="2249.7" width="5.8" height="13.9" fill="#5838a0"/>
<path d="M1253.9 2249.7V2263.6M1258.3 2249.7V2263.6M1261.9 2249.7V2263.6M1262.6 2249.7V2263.6M1263.3 2249.7V2263.6M1263.8 2249.7V2263.6M1275.8 2249.7V2263.6M1276.5 2249.7V2263.6M1277.1 2249.7V2263.6M1278.4 2249.7V2263.6M1279 2249.7V2263.6M1279.5 2249.7V2263.6M1289.3 2249.7V2263.6M1297.6 2249.7V2263.6M1303.6 2249.7V2263.6M1304.3 2249.7V2263.6M1304.9 2249.7V2263.6M1306.2 2249.7V2263.6M1306.9 2249.7V2263.6M1323.5 2249.7V2263.6M1367.4 2249.7V2263.6M1371.6 2249.7V2263.6M1410.2 2249.7V2263.6M1414.2 2249.7V2263.6M1461.9 2249.7V2263.6M1475.6 2249.7V2263.6M1479.4 2249.7V2263.6M1506.4 2249.7V2263.6M1517.5 2249.7V2263.6" stroke="#3a1030" stroke-opacity="0.14" stroke-width="1.1" fill="none"/>
<path d="M1253.9 2191.4V2249.7M1258.3 2191.4V2249.7M1261.9 2191.4V2249.7M1262.6 2191.4V2249.7M1263.3 2191.4V2249.7M1263.8 2191.4V2249.7M1275.8 2191.4V2249.7M1276.5 2191.4V2249.7M1277.1 2191.4V2249.7M1278.4 2191.4V2249.7M1279 2191.4V2249.7M1279.5 2191.4V2249.7M1289.3 2191.4V2249.7M1297.6 2191.4V2249.7M1303.6 2191.4V2249.7M1304.3 2191.4V2249.7M1304.9 2191.4V2249.7M1306.2 2191.4V2249.7M1306.9 2191.4V2249.7M1323.5 2191.4V2249.7M1367.4 2191.4V2249.7M1371.6 2191.4V2249.7M1410.2 2191.4V2249.7M1414.2 2191.4V2249.7M1461.9 2191.4V2249.7M1475.6 2191.4V2249.7M1479.4 2191.4V2249.7M1506.4 2191.4V2249.7M1517.5 2191.4V2249.7" stroke="#111" stroke-width="1.15" fill="none"/>
<path d="M1250.5 2178.2H1674.3" stroke="#8a8a8a" stroke-width="1.4" fill="none"/>
<polyline points="1251.3,2178.2 1254.6,2179.5 1254.6,2160.9 1258.5,2162.9 1258.5,2146.5 1261.9,2148.5 1261.9,2133.1 1263.8,2133.1 1263.8,2119.1 1275.8,2125.1 1275.8,2100.7 1277.8,2100.7 1277.8,2088.7 1278.5,2078.3 1279.1,2065 1289,2071 1289.7,2060.3 1297,2064.3 1297.3,2054.5 1298.3,2045 1304.3,2048.3 1304.6,2039.9 1306.2,2031.9 1306.9,2014.6 1322.8,2022.6 1323.5,2016.6 1366.5,2039 1367,2035.7 1371.2,2035 1410.2,2056.1 1410.2,2054.5 1414.2,2056.8 1414.2,2055 1461.9,2081.4 1461.9,2080.1 1475.6,2087.6 1475.6,2086.3 1479.4,2088.3 1479.4,2087.2 1506.4,2102.1 1506.4,2100.1 1517.5,2106.3 1517.5,2103.2 1654.3,2178.2" stroke="#6abd45" stroke-width="3.6" fill="none" stroke-linejoin="miter" stroke-miterlimit="1.6"/>
<rect x="1250.5" y="2006.3" width="423.8" height="379.8" fill="none" stroke="#a8a8a8" stroke-width="1.1"/>
<path d="M1250.5 2189.2H1674.3M1250.5 2263.6H1674.3" stroke="#a8a8a8" stroke-width="1.6" fill="none"/>
<path d="M1250.5 2249.7H1674.3" stroke="#d2d2d2" stroke-width="1.6" fill="none"/>
<path d="M1247.5 2022.8H1250.5M1247.5 2045H1250.5M1247.5 2067.2H1250.5M1247.5 2089.4H1250.5M1247.5 2111.6H1250.5M1247.5 2133.8H1250.5M1247.5 2156H1250.5M1247.5 2178.2H1250.5M1247.5 2281.4H1250.5M1247.5 2301.9H1250.5M1247.5 2322.4H1250.5M1247.5 2342.9H1250.5M1247.5 2363.4H1250.5M1247.5 2383.9H1250.5M1249.9 2386.1V2389.1M1322 2386.1V2389.1M1394.1 2386.1V2389.1M1466.1 2386.1V2389.1M1538.2 2386.1V2389.1M1610.3 2386.1V2389.1" stroke="#666" stroke-width="1" fill="none"/>
<text x="1245" y="2027.2" font-size="12.3" text-anchor="end">0.7</text>
<text x="1245" y="2049.4" font-size="12.3" text-anchor="end">0.6</text>
<text x="1245" y="2071.6" font-size="12.3" text-anchor="end">0.5</text>
<text x="1245" y="2093.8" font-size="12.3" text-anchor="end">0.4</text>
<text x="1245" y="2116" font-size="12.3" text-anchor="end">0.3</text>
<text x="1245" y="2138.2" font-size="12.3" text-anchor="end">0.2</text>
<text x="1245" y="2160.4" font-size="12.3" text-anchor="end">0.1</text>
<text x="1245" y="2182.6" font-size="12.3" text-anchor="end">0.0</text>
<text x="1245" y="2285.8" font-size="12.3" text-anchor="end">1.0</text>
<text x="1245" y="2306.3" font-size="12.3" text-anchor="end">0.5</text>
<text x="1245" y="2326.8" font-size="12.3" text-anchor="end">0.0</text>
<text x="1245" y="2347.3" font-size="12.3" text-anchor="end">−0.5</text>
<text x="1245" y="2367.8" font-size="12.3" text-anchor="end">−1.0</text>
<text x="1245" y="2388.3" font-size="12.3" text-anchor="end">−1.5</text>
<text x="1249.9" y="2399.2" font-size="12.3" text-anchor="middle">0</text>
<text x="1322" y="2399.2" font-size="12.3" text-anchor="middle">10,000</text>
<text x="1394.1" y="2399.2" font-size="12.3" text-anchor="middle">20,000</text>
<text x="1466.1" y="2399.2" font-size="12.3" text-anchor="middle">30,000</text>
<text x="1538.2" y="2399.2" font-size="12.3" text-anchor="middle">40,000</text>
<text x="1610.3" y="2399.2" font-size="12.3" text-anchor="middle">50,000</text>
<text x="1462.4" y="2415.6" font-size="12.3" text-anchor="middle">Rank in ordered dataset</text>
<text transform="translate(1212 2097.8) rotate(-90)" font-size="12.4" text-anchor="middle">Enrichment score (ES)</text>
<text transform="translate(1212 2303) rotate(-90)" font-size="12.4" text-anchor="middle">Ranked list metric (Signal2Noise)</text>
<text x="1462.4" y="1976.4" font-size="16.5" text-anchor="middle">Enrichment plot:</text>
<text x="1462.4" y="1996" font-size="16.5" text-anchor="middle">GO_NATURAL_KILLER_CELL_MEDIATED_IMMUNITY</text>
<rect x="1267.8" y="2425.7" width="341.5" height="21.3" fill="#fff" stroke="#7a7a7a" stroke-width="1.1"/>
<path d="M1270.6 2436.3H1286.1" stroke="#6abd45" stroke-width="2.6"/>
<text x="1289.8" y="2439.9" font-size="12.3">Enrichment profile</text>
<path d="M1397.1 2436.3H1411.4" stroke="#333" stroke-width="1.3"/>
<text x="1415.3" y="2439.9" font-size="12.3">Hits</text>
<path d="M1442.3 2432.2H1456.5M1466.6 2436.3H1480.8" stroke="#cfcfcf" stroke-width="1.3"/>
<text x="1484.1" y="2439.9" font-size="12.3">Ranking metric scores</text>
<text x="9.8" y="22.6" font-size="42" font-weight="bold">a</text>
<text x="-2.8" y="651.2" font-size="42" font-weight="bold">b</text>
<text x="-1.6" y="1371.6" font-size="42" font-weight="bold">c</text>
<text x="1287.2" y="652.4" font-size="42" font-weight="bold">d</text>
<text x="-0.9" y="1973.4" font-size="42" font-weight="bold">e</text>
<text x="662.4" y="1977.7" font-size="42" font-weight="bold">f</text>
<text x="1198.7" y="1973.8" font-size="42" font-weight="bold">g</text>
</svg></body></html>
